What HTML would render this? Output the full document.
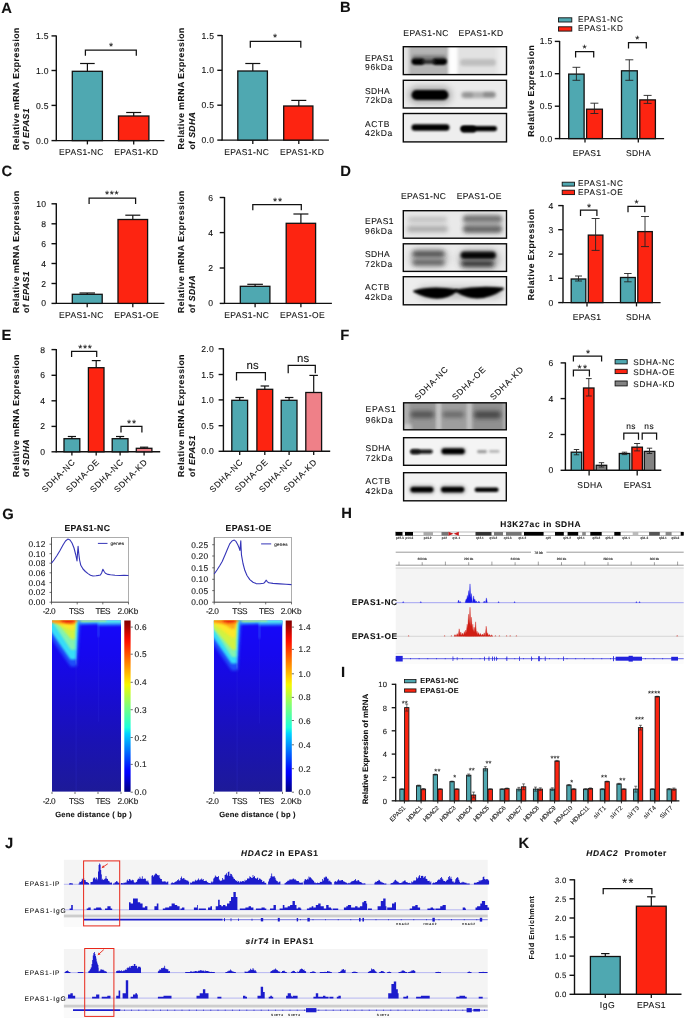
<!DOCTYPE html>
<html><head><meta charset="utf-8"><title>Figure</title>
<style>
html,body{margin:0;padding:0;background:#fff;}
svg{display:block;font-family:"Liberation Sans",Arial,sans-serif;fill:#111;text-rendering:geometricPrecision;}
svg text{stroke:#111;stroke-width:0.1px;paint-order:stroke;}
</style></head><body>
<svg width="685" height="1019" viewBox="0 0 685 1019">
<defs>
<filter id="b1" x="-20%" y="-100%" width="140%" height="300%"><feGaussianBlur stdDeviation="0.9"/></filter>
<filter id="b2" x="-20%" y="-100%" width="140%" height="300%"><feGaussianBlur stdDeviation="1.5"/></filter>
<filter id="b25" x="-20%" y="-100%" width="140%" height="300%"><feGaussianBlur stdDeviation="2.0"/></filter>
<filter id="b3" x="-30%" y="-100%" width="160%" height="300%"><feGaussianBlur stdDeviation="3"/></filter>
<filter id="hb" x="-30%" y="-30%" width="160%" height="160%"><feGaussianBlur stdDeviation="1.6"/></filter>
<filter id="hb1" x="-30%" y="-30%" width="160%" height="160%"><feGaussianBlur stdDeviation="1.2"/></filter>
<filter id="hb2" x="-30%" y="-30%" width="160%" height="160%"><feGaussianBlur stdDeviation="0.8"/></filter>
<linearGradient id="jet" x1="0" y1="1" x2="0" y2="0">
<stop offset="0" stop-color="#00007f"/><stop offset="0.11" stop-color="#0000ff"/><stop offset="0.125" stop-color="#0004ff"/>
<stop offset="0.34" stop-color="#00d4ff"/><stop offset="0.375" stop-color="#1cffdb"/><stop offset="0.5" stop-color="#7dff7a"/>
<stop offset="0.625" stop-color="#f4f802"/><stop offset="0.66" stop-color="#ffd700"/><stop offset="0.875" stop-color="#ff1300"/>
<stop offset="0.9" stop-color="#f10800"/><stop offset="1" stop-color="#7f0000"/></linearGradient>
<linearGradient id="hbase" x1="0" y1="0" x2="0" y2="1">
<stop offset="0" stop-color="#1608fa"/><stop offset="0.2" stop-color="#1608ee"/><stop offset="0.45" stop-color="#180cd2"/><stop offset="0.7" stop-color="#1a12b4"/><stop offset="1" stop-color="#1d1a98"/></linearGradient>
</defs>
<rect x="0" y="0" width="685" height="1019" fill="#ffffff"/>
<text x="1.2" y="12.9" font-size="14.8" font-weight="bold" stroke-width="0.1" >A</text>
<line x1="56.3" y1="35.4" x2="56.3" y2="141.1" stroke="#111" stroke-width="1.4" />
<line x1="55.8" y1="140.6" x2="164.4" y2="140.6" stroke="#111" stroke-width="1.4" />
<line x1="51.5" y1="35.9" x2="56.3" y2="35.9" stroke="#111" stroke-width="1.4" />
<text x="48.9" y="38.9" font-size="8.6" text-anchor="end" letter-spacing="0.3" >1.5</text>
<line x1="51.5" y1="70.5" x2="56.3" y2="70.5" stroke="#111" stroke-width="1.4" />
<text x="48.9" y="73.5" font-size="8.6" text-anchor="end" letter-spacing="0.3" >1.0</text>
<line x1="51.5" y1="105.4" x2="56.3" y2="105.4" stroke="#111" stroke-width="1.4" />
<text x="48.9" y="108.5" font-size="8.6" text-anchor="end" letter-spacing="0.3" >0.5</text>
<line x1="51.5" y1="140.6" x2="56.3" y2="140.6" stroke="#111" stroke-width="1.4" />
<text x="48.9" y="143.7" font-size="8.6" text-anchor="end" letter-spacing="0.3" >0.0</text>
<rect x="72.3" y="71.3" width="30.1" height="69.3" fill="#4fa8b1" stroke="#111" stroke-width="1.3" />
<rect x="118.5" y="116.0" width="30.4" height="24.6" fill="#fd2411" stroke="#111" stroke-width="1.3" />
<line x1="87.4" y1="63.5" x2="87.4" y2="71.3" stroke="#111" stroke-width="1.2" />
<line x1="80.1" y1="63.5" x2="94.7" y2="63.5" stroke="#111" stroke-width="1.2" />
<line x1="133.7" y1="112.5" x2="133.7" y2="116.0" stroke="#111" stroke-width="1.2" />
<line x1="126.2" y1="112.5" x2="141.2" y2="112.5" stroke="#111" stroke-width="1.2" />
<line x1="87.4" y1="140.6" x2="87.4" y2="144.4" stroke="#111" stroke-width="1.3" />
<line x1="133.7" y1="140.6" x2="133.7" y2="144.4" stroke="#111" stroke-width="1.3" />
<path d="M85.4,55.7 V50.0 H136.3 V55.7" stroke="#111" stroke-width="1.25" fill="none" />
<text x="111.0" y="49.8" font-size="10.5" text-anchor="middle" >*</text>
<text x="59.0" y="154.6" font-size="8.5" textLength="44.4" >EPAS1-NC</text>
<text x="114.2" y="154.6" font-size="8.5" textLength="44.0" >EPAS1-KD</text>
<text transform="translate(19.2,150.0) rotate(-90)" font-size="8.7" font-weight="bold" stroke-width="0.1" textLength="122.4" >Relative mRNA Expression</text>
<text transform="translate(29.1,150.0) rotate(-90)" font-size="8.7" font-weight="bold" stroke-width="0.1" textLength="41.5">of <tspan font-style="italic">EPAS1</tspan></text>
<line x1="222.1" y1="35.0" x2="222.1" y2="140.6" stroke="#111" stroke-width="1.4" />
<line x1="221.6" y1="140.1" x2="328.9" y2="140.1" stroke="#111" stroke-width="1.4" />
<line x1="217.3" y1="35.5" x2="222.1" y2="35.5" stroke="#111" stroke-width="1.4" />
<text x="214.3" y="38.5" font-size="8.6" text-anchor="end" letter-spacing="0.3" >1.5</text>
<line x1="217.3" y1="70.3" x2="222.1" y2="70.3" stroke="#111" stroke-width="1.4" />
<text x="214.3" y="73.3" font-size="8.6" text-anchor="end" letter-spacing="0.3" >1.0</text>
<line x1="217.3" y1="105.2" x2="222.1" y2="105.2" stroke="#111" stroke-width="1.4" />
<text x="214.3" y="108.2" font-size="8.6" text-anchor="end" letter-spacing="0.3" >0.5</text>
<line x1="217.3" y1="140.1" x2="222.1" y2="140.1" stroke="#111" stroke-width="1.4" />
<text x="214.3" y="143.2" font-size="8.6" text-anchor="end" letter-spacing="0.3" >0.0</text>
<rect x="237.8" y="71.0" width="29.6" height="69.1" fill="#4fa8b1" stroke="#111" stroke-width="1.3" />
<rect x="283.7" y="106.0" width="29.2" height="34.1" fill="#fd2411" stroke="#111" stroke-width="1.3" />
<line x1="252.8" y1="63.5" x2="252.8" y2="71.0" stroke="#111" stroke-width="1.2" />
<line x1="245.3" y1="63.5" x2="260.3" y2="63.5" stroke="#111" stroke-width="1.2" />
<line x1="298.8" y1="100.4" x2="298.8" y2="106.0" stroke="#111" stroke-width="1.2" />
<line x1="291.3" y1="100.4" x2="306.3" y2="100.4" stroke="#111" stroke-width="1.2" />
<line x1="252.8" y1="140.1" x2="252.8" y2="143.9" stroke="#111" stroke-width="1.3" />
<line x1="298.8" y1="140.1" x2="298.8" y2="143.9" stroke="#111" stroke-width="1.3" />
<path d="M250.3,47.7 V41.4 H300.8 V47.7" stroke="#111" stroke-width="1.25" fill="none" />
<text x="275.0" y="41.2" font-size="10.5" text-anchor="middle" >*</text>
<text x="224.2" y="154.6" font-size="8.5" textLength="44.7" >EPAS1-NC</text>
<text x="280.0" y="154.6" font-size="8.5" textLength="44.0" >EPAS1-KD</text>
<text transform="translate(184.4,149.6) rotate(-90)" font-size="8.7" font-weight="bold" stroke-width="0.1" textLength="122.0" >Relative mRNA Expression</text>
<text transform="translate(195.2,149.6) rotate(-90)" font-size="8.7" font-weight="bold" stroke-width="0.1" textLength="37.5">of <tspan font-style="italic">SDHA</tspan></text>
<text x="1.4" y="175.9" font-size="14.8" font-weight="bold" stroke-width="0.1" >C</text>
<line x1="56.3" y1="203.3" x2="56.3" y2="303.9" stroke="#111" stroke-width="1.4" />
<line x1="55.8" y1="303.4" x2="164.4" y2="303.4" stroke="#111" stroke-width="1.4" />
<line x1="51.5" y1="203.8" x2="56.3" y2="203.8" stroke="#111" stroke-width="1.4" />
<text x="46.3" y="206.9" font-size="8.6" text-anchor="end" letter-spacing="0.3" >10</text>
<line x1="51.5" y1="223.8" x2="56.3" y2="223.8" stroke="#111" stroke-width="1.4" />
<text x="46.3" y="226.9" font-size="8.6" text-anchor="end" letter-spacing="0.3" >8</text>
<line x1="51.5" y1="243.7" x2="56.3" y2="243.7" stroke="#111" stroke-width="1.4" />
<text x="46.3" y="246.8" font-size="8.6" text-anchor="end" letter-spacing="0.3" >6</text>
<line x1="51.5" y1="263.5" x2="56.3" y2="263.5" stroke="#111" stroke-width="1.4" />
<text x="46.3" y="266.6" font-size="8.6" text-anchor="end" letter-spacing="0.3" >4</text>
<line x1="51.5" y1="283.5" x2="56.3" y2="283.5" stroke="#111" stroke-width="1.4" />
<text x="46.3" y="286.6" font-size="8.6" text-anchor="end" letter-spacing="0.3" >2</text>
<line x1="51.5" y1="303.4" x2="56.3" y2="303.4" stroke="#111" stroke-width="1.4" />
<text x="46.3" y="306.4" font-size="8.6" text-anchor="end" letter-spacing="0.3" >0</text>
<rect x="72.3" y="294.3" width="29.9" height="9.1" fill="#4fa8b1" stroke="#111" stroke-width="1.3" />
<rect x="118.0" y="219.5" width="29.6" height="83.9" fill="#fd2411" stroke="#111" stroke-width="1.3" />
<line x1="87.2" y1="293.0" x2="87.2" y2="294.3" stroke="#111" stroke-width="1.2" />
<line x1="79.5" y1="293.0" x2="95.0" y2="293.0" stroke="#111" stroke-width="1.2" />
<line x1="132.8" y1="215.2" x2="132.8" y2="219.5" stroke="#111" stroke-width="1.2" />
<line x1="125.3" y1="215.2" x2="140.3" y2="215.2" stroke="#111" stroke-width="1.2" />
<line x1="87.2" y1="303.4" x2="87.2" y2="307.2" stroke="#111" stroke-width="1.3" />
<line x1="132.8" y1="303.4" x2="132.8" y2="307.2" stroke="#111" stroke-width="1.3" />
<path d="M89.1,203.9 V198.2 H135.6 V203.9" stroke="#111" stroke-width="1.25" fill="none" />
<text x="112.2" y="198.1" font-size="10.5" text-anchor="middle" letter-spacing="0.7" >***</text>
<text x="59.0" y="318.4" font-size="8.5" textLength="44.4" >EPAS1-NC</text>
<text x="114.2" y="318.4" font-size="8.5" textLength="44.5" >EPAS1-OE</text>
<text transform="translate(19.2,313.0) rotate(-90)" font-size="8.7" font-weight="bold" stroke-width="0.1" textLength="122.4" >Relative mRNA Expression</text>
<text transform="translate(29.1,313.0) rotate(-90)" font-size="8.7" font-weight="bold" stroke-width="0.1" textLength="41.5">of <tspan font-style="italic">EPAS1</tspan></text>
<line x1="224.5" y1="197.0" x2="224.5" y2="303.9" stroke="#111" stroke-width="1.4" />
<line x1="224.0" y1="303.4" x2="331.9" y2="303.4" stroke="#111" stroke-width="1.4" />
<line x1="219.7" y1="197.5" x2="224.5" y2="197.5" stroke="#111" stroke-width="1.4" />
<text x="213.3" y="200.6" font-size="8.6" text-anchor="end" letter-spacing="0.3" >6</text>
<line x1="219.7" y1="232.6" x2="224.5" y2="232.6" stroke="#111" stroke-width="1.4" />
<text x="213.3" y="235.7" font-size="8.6" text-anchor="end" letter-spacing="0.3" >4</text>
<line x1="219.7" y1="268.0" x2="224.5" y2="268.0" stroke="#111" stroke-width="1.4" />
<text x="213.3" y="271.1" font-size="8.6" text-anchor="end" letter-spacing="0.3" >2</text>
<line x1="219.7" y1="303.4" x2="224.5" y2="303.4" stroke="#111" stroke-width="1.4" />
<text x="213.3" y="306.4" font-size="8.6" text-anchor="end" letter-spacing="0.3" >0</text>
<rect x="240.3" y="286.3" width="29.6" height="17.1" fill="#4fa8b1" stroke="#111" stroke-width="1.3" />
<rect x="286.2" y="223.3" width="29.4" height="80.1" fill="#fd2411" stroke="#111" stroke-width="1.3" />
<line x1="255.1" y1="284.3" x2="255.1" y2="286.3" stroke="#111" stroke-width="1.2" />
<line x1="247.3" y1="284.3" x2="262.9" y2="284.3" stroke="#111" stroke-width="1.2" />
<line x1="300.9" y1="214.0" x2="300.9" y2="223.3" stroke="#111" stroke-width="1.2" />
<line x1="293.4" y1="214.0" x2="308.4" y2="214.0" stroke="#111" stroke-width="1.2" />
<line x1="255.1" y1="303.4" x2="255.1" y2="307.2" stroke="#111" stroke-width="1.3" />
<line x1="300.9" y1="303.4" x2="300.9" y2="307.2" stroke="#111" stroke-width="1.3" />
<path d="M252.8,210.2 V204.7 H301.3 V210.2" stroke="#111" stroke-width="1.25" fill="none" />
<text x="277.9" y="204.7" font-size="10.5" text-anchor="middle" letter-spacing="0.7" >**</text>
<text x="224.2" y="318.4" font-size="8.5" textLength="44.7" >EPAS1-NC</text>
<text x="280.0" y="318.4" font-size="8.5" textLength="44.6" >EPAS1-OE</text>
<text transform="translate(184.4,313.0) rotate(-90)" font-size="8.7" font-weight="bold" stroke-width="0.1" textLength="122.4" >Relative mRNA Expression</text>
<text transform="translate(195.2,313.0) rotate(-90)" font-size="8.7" font-weight="bold" stroke-width="0.1" textLength="37.5">of <tspan font-style="italic">SDHA</tspan></text>
<text x="1.4" y="340.2" font-size="14.8" font-weight="bold" stroke-width="0.1" >E</text>
<line x1="56.3" y1="349.1" x2="56.3" y2="452.3" stroke="#111" stroke-width="1.4" />
<line x1="55.8" y1="451.8" x2="160.2" y2="451.8" stroke="#111" stroke-width="1.4" />
<line x1="51.5" y1="349.6" x2="56.3" y2="349.6" stroke="#111" stroke-width="1.4" />
<text x="45.3" y="352.7" font-size="8.6" text-anchor="end" letter-spacing="0.3" >8</text>
<line x1="51.5" y1="375.3" x2="56.3" y2="375.3" stroke="#111" stroke-width="1.4" />
<text x="45.3" y="378.4" font-size="8.6" text-anchor="end" letter-spacing="0.3" >6</text>
<line x1="51.5" y1="400.8" x2="56.3" y2="400.8" stroke="#111" stroke-width="1.4" />
<text x="45.3" y="403.9" font-size="8.6" text-anchor="end" letter-spacing="0.3" >4</text>
<line x1="51.5" y1="426.4" x2="56.3" y2="426.4" stroke="#111" stroke-width="1.4" />
<text x="45.3" y="429.4" font-size="8.6" text-anchor="end" letter-spacing="0.3" >2</text>
<line x1="51.5" y1="451.8" x2="56.3" y2="451.8" stroke="#111" stroke-width="1.4" />
<text x="45.3" y="454.9" font-size="8.6" text-anchor="end" letter-spacing="0.3" >0</text>
<rect x="64.0" y="438.7" width="15.8" height="13.1" fill="#4fa8b1" stroke="#111" stroke-width="1.3" />
<rect x="88.4" y="367.7" width="15.6" height="84.1" fill="#fd2411" stroke="#111" stroke-width="1.3" />
<rect x="112.2" y="438.7" width="15.8" height="13.1" fill="#4fa8b1" stroke="#111" stroke-width="1.3" />
<rect x="136.3" y="448.3" width="15.6" height="3.5" fill="#ef8088" stroke="#111" stroke-width="1.3" />
<line x1="71.9" y1="436.5" x2="71.9" y2="438.7" stroke="#111" stroke-width="1.2" />
<line x1="67.8" y1="436.5" x2="76.0" y2="436.5" stroke="#111" stroke-width="1.2" />
<line x1="96.2" y1="360.6" x2="96.2" y2="367.7" stroke="#111" stroke-width="1.2" />
<line x1="91.8" y1="360.6" x2="100.6" y2="360.6" stroke="#111" stroke-width="1.2" />
<line x1="120.1" y1="436.5" x2="120.1" y2="438.7" stroke="#111" stroke-width="1.2" />
<line x1="116.0" y1="436.5" x2="124.2" y2="436.5" stroke="#111" stroke-width="1.2" />
<line x1="144.1" y1="447.2" x2="144.1" y2="448.3" stroke="#111" stroke-width="1.2" />
<line x1="140.0" y1="447.2" x2="148.2" y2="447.2" stroke="#111" stroke-width="1.2" />
<line x1="71.9" y1="451.8" x2="71.9" y2="455.6" stroke="#111" stroke-width="1.3" />
<line x1="96.2" y1="451.8" x2="96.2" y2="455.6" stroke="#111" stroke-width="1.3" />
<line x1="120.1" y1="451.8" x2="120.1" y2="455.6" stroke="#111" stroke-width="1.3" />
<line x1="144.1" y1="451.8" x2="144.1" y2="455.6" stroke="#111" stroke-width="1.3" />
<path d="M71.6,357.1 V351.3 H96.7 V357.1" stroke="#111" stroke-width="1.25" fill="none" />
<text x="85.4" y="352.4" font-size="10.5" text-anchor="middle" letter-spacing="0.7" >***</text>
<path d="M121.0,432.4 V426.4 H141.9 V432.4" stroke="#111" stroke-width="1.25" fill="none" />
<text x="131.9" y="427.2" font-size="10.5" text-anchor="middle" letter-spacing="0.7" >**</text>
<text transform="translate(75.3,463.0) rotate(-45)" font-size="8.5" text-anchor="end" textLength="42.5" >SDHA-NC</text>
<text transform="translate(99.6,463.0) rotate(-45)" font-size="8.5" text-anchor="end" textLength="42.5" >SDHA-OE</text>
<text transform="translate(123.5,463.0) rotate(-45)" font-size="8.5" text-anchor="end" textLength="42.5" >SDHA-NC</text>
<text transform="translate(147.5,463.0) rotate(-45)" font-size="8.5" text-anchor="end" textLength="42.5" >SDHA-KD</text>
<text transform="translate(19.2,476.9) rotate(-90)" font-size="8.7" font-weight="bold" stroke-width="0.1" textLength="122.4" >Relative mRNA Expression</text>
<text transform="translate(29.1,476.9) rotate(-90)" font-size="8.7" font-weight="bold" stroke-width="0.1" textLength="37.5">of <tspan font-style="italic">SDHA</tspan></text>
<line x1="223.4" y1="348.3" x2="223.4" y2="451.8" stroke="#111" stroke-width="1.4" />
<line x1="222.9" y1="451.3" x2="330.2" y2="451.3" stroke="#111" stroke-width="1.4" />
<line x1="218.6" y1="348.8" x2="223.4" y2="348.8" stroke="#111" stroke-width="1.4" />
<text x="214.0" y="351.9" font-size="8.6" text-anchor="end" letter-spacing="0.3" >2.0</text>
<line x1="218.6" y1="374.5" x2="223.4" y2="374.5" stroke="#111" stroke-width="1.4" />
<text x="214.0" y="377.6" font-size="8.6" text-anchor="end" letter-spacing="0.3" >1.5</text>
<line x1="218.6" y1="399.9" x2="223.4" y2="399.9" stroke="#111" stroke-width="1.4" />
<text x="214.0" y="402.9" font-size="8.6" text-anchor="end" letter-spacing="0.3" >1.0</text>
<line x1="218.6" y1="425.7" x2="223.4" y2="425.7" stroke="#111" stroke-width="1.4" />
<text x="214.0" y="428.8" font-size="8.6" text-anchor="end" letter-spacing="0.3" >0.5</text>
<line x1="218.6" y1="451.3" x2="223.4" y2="451.3" stroke="#111" stroke-width="1.4" />
<text x="214.0" y="454.4" font-size="8.6" text-anchor="end" letter-spacing="0.3" >0.0</text>
<rect x="231.8" y="400.3" width="15.8" height="51.0" fill="#4fa8b1" stroke="#111" stroke-width="1.3" />
<rect x="256.9" y="389.3" width="15.8" height="62.0" fill="#fd2411" stroke="#111" stroke-width="1.3" />
<rect x="281.2" y="400.3" width="15.8" height="51.0" fill="#4fa8b1" stroke="#111" stroke-width="1.3" />
<rect x="305.8" y="392.5" width="15.8" height="58.8" fill="#ef8088" stroke="#111" stroke-width="1.3" />
<line x1="239.7" y1="397.5" x2="239.7" y2="400.3" stroke="#111" stroke-width="1.2" />
<line x1="235.4" y1="397.5" x2="243.9" y2="397.5" stroke="#111" stroke-width="1.2" />
<line x1="264.8" y1="386.0" x2="264.8" y2="389.3" stroke="#111" stroke-width="1.2" />
<line x1="260.6" y1="386.0" x2="269.1" y2="386.0" stroke="#111" stroke-width="1.2" />
<line x1="289.1" y1="397.5" x2="289.1" y2="400.3" stroke="#111" stroke-width="1.2" />
<line x1="284.9" y1="397.5" x2="293.4" y2="397.5" stroke="#111" stroke-width="1.2" />
<line x1="313.7" y1="375.4" x2="313.7" y2="392.5" stroke="#111" stroke-width="1.2" />
<line x1="309.4" y1="375.4" x2="317.9" y2="375.4" stroke="#111" stroke-width="1.2" />
<line x1="239.7" y1="451.3" x2="239.7" y2="455.1" stroke="#111" stroke-width="1.3" />
<line x1="264.8" y1="451.3" x2="264.8" y2="455.1" stroke="#111" stroke-width="1.3" />
<line x1="289.1" y1="451.3" x2="289.1" y2="455.1" stroke="#111" stroke-width="1.3" />
<line x1="313.7" y1="451.3" x2="313.7" y2="455.1" stroke="#111" stroke-width="1.3" />
<path d="M236.5,380.5 V372.6 H265.4 V380.5" stroke="#111" stroke-width="1.25" fill="none" />
<text x="252.7" y="369.2" font-size="11.4" text-anchor="middle" letter-spacing="0.3" >ns</text>
<path d="M288.2,373.2 V365.4 H315.3 V373.2" stroke="#111" stroke-width="1.25" fill="none" />
<text x="303.2" y="362.2" font-size="11.4" text-anchor="middle" letter-spacing="0.3" >ns</text>
<text transform="translate(243.1,463.0) rotate(-45)" font-size="8.5" text-anchor="end" textLength="42.5" >SDHA-NC</text>
<text transform="translate(268.2,463.0) rotate(-45)" font-size="8.5" text-anchor="end" textLength="42.5" >SDHA-OE</text>
<text transform="translate(292.5,463.0) rotate(-45)" font-size="8.5" text-anchor="end" textLength="42.5" >SDHA-NC</text>
<text transform="translate(317.1,463.0) rotate(-45)" font-size="8.5" text-anchor="end" textLength="42.5" >SDHA-KD</text>
<text transform="translate(184.4,476.9) rotate(-90)" font-size="8.7" font-weight="bold" stroke-width="0.1" textLength="122.4" >Relative mRNA Expression</text>
<text transform="translate(195.2,476.9) rotate(-90)" font-size="8.7" font-weight="bold" stroke-width="0.1" textLength="41.5">of <tspan font-style="italic">EPAS1</tspan></text>
<line x1="559.6" y1="40.9" x2="559.6" y2="139.1" stroke="#111" stroke-width="1.4" />
<line x1="559.1" y1="138.6" x2="664.1" y2="138.6" stroke="#111" stroke-width="1.4" />
<line x1="554.8" y1="41.4" x2="559.6" y2="41.4" stroke="#111" stroke-width="1.4" />
<text x="552.6" y="44.4" font-size="8.6" text-anchor="end" letter-spacing="0.3" >1.5</text>
<line x1="554.8" y1="73.7" x2="559.6" y2="73.7" stroke="#111" stroke-width="1.4" />
<text x="552.6" y="76.8" font-size="8.6" text-anchor="end" letter-spacing="0.3" >1.0</text>
<line x1="554.8" y1="106.2" x2="559.6" y2="106.2" stroke="#111" stroke-width="1.4" />
<text x="552.6" y="109.2" font-size="8.6" text-anchor="end" letter-spacing="0.3" >0.5</text>
<line x1="554.8" y1="138.6" x2="559.6" y2="138.6" stroke="#111" stroke-width="1.4" />
<text x="552.6" y="141.7" font-size="8.6" text-anchor="end" letter-spacing="0.3" >0.0</text>
<rect x="568.7" y="74.1" width="15.4" height="64.5" fill="#4fa8b1" stroke="#111" stroke-width="1.3" />
<rect x="586.6" y="109.2" width="15.8" height="29.4" fill="#fd2411" stroke="#111" stroke-width="1.3" />
<rect x="621.5" y="70.8" width="15.8" height="67.8" fill="#4fa8b1" stroke="#111" stroke-width="1.3" />
<rect x="639.8" y="99.9" width="15.6" height="38.7" fill="#fd2411" stroke="#111" stroke-width="1.3" />
<line x1="576.4" y1="67.3" x2="576.4" y2="80.3" stroke="#222" stroke-width="0.9" />
<line x1="572.5" y1="67.3" x2="580.3" y2="67.3" stroke="#222" stroke-width="0.9" />
<line x1="572.5" y1="80.3" x2="580.3" y2="80.3" stroke="#222" stroke-width="0.9" />
<line x1="594.4" y1="103.2" x2="594.4" y2="113.5" stroke="#222" stroke-width="0.9" />
<line x1="590.4" y1="103.2" x2="598.4" y2="103.2" stroke="#222" stroke-width="0.9" />
<line x1="590.4" y1="113.5" x2="598.4" y2="113.5" stroke="#222" stroke-width="0.9" />
<line x1="629.3" y1="59.8" x2="629.3" y2="80.3" stroke="#222" stroke-width="0.9" />
<line x1="625.3" y1="59.8" x2="633.3" y2="59.8" stroke="#222" stroke-width="0.9" />
<line x1="625.3" y1="80.3" x2="633.3" y2="80.3" stroke="#222" stroke-width="0.9" />
<line x1="647.6" y1="95.4" x2="647.6" y2="103.4" stroke="#222" stroke-width="0.9" />
<line x1="643.6" y1="95.4" x2="651.6" y2="95.4" stroke="#222" stroke-width="0.9" />
<line x1="643.6" y1="103.4" x2="651.6" y2="103.4" stroke="#222" stroke-width="0.9" />
<line x1="585.0" y1="138.6" x2="585.0" y2="142.4" stroke="#111" stroke-width="1.3" />
<line x1="638.3" y1="138.6" x2="638.3" y2="142.4" stroke="#111" stroke-width="1.3" />
<path d="M575.6,57.4 V51.5 H593.7 V57.4" stroke="#111" stroke-width="1.25" fill="none" />
<text x="584.5" y="52.2" font-size="10.5" text-anchor="middle" >*</text>
<path d="M628.5,48.5 V42.7 H646.3 V48.5" stroke="#111" stroke-width="1.25" fill="none" />
<text x="637.3" y="43.2" font-size="10.5" text-anchor="middle" >*</text>
<rect x="558.5" y="17.8" width="13.3" height="4.2" fill="#4fa8b1" stroke="#111" stroke-width="0.9" />
<text x="578.0" y="22.2" font-size="8.2" textLength="44.8" >EPAS1-NC</text>
<rect x="558.5" y="26.8" width="13.3" height="4.3" fill="#fd2411" stroke="#111" stroke-width="0.9" />
<text x="578.0" y="31.2" font-size="8.2" textLength="44.8" >EPAS1-KD</text>
<text x="572.8" y="155.8" font-size="8.5" textLength="28.1" >EPAS1</text>
<text x="626.0" y="155.8" font-size="8.5" textLength="24.6" >SDHA</text>
<text transform="translate(534.0,136.8) rotate(-90)" font-size="8.7" font-weight="bold" stroke-width="0.1" textLength="91.6" >Relative Expression</text>
<line x1="563.0" y1="205.1" x2="563.0" y2="303.1" stroke="#111" stroke-width="1.4" />
<line x1="562.5" y1="302.6" x2="660.6" y2="302.6" stroke="#111" stroke-width="1.4" />
<line x1="558.2" y1="205.6" x2="563.0" y2="205.6" stroke="#111" stroke-width="1.4" />
<text x="553.7" y="208.7" font-size="8.6" text-anchor="end" letter-spacing="0.3" >4</text>
<line x1="558.2" y1="229.7" x2="563.0" y2="229.7" stroke="#111" stroke-width="1.4" />
<text x="553.7" y="232.8" font-size="8.6" text-anchor="end" letter-spacing="0.3" >3</text>
<line x1="558.2" y1="254.1" x2="563.0" y2="254.1" stroke="#111" stroke-width="1.4" />
<text x="553.7" y="257.1" font-size="8.6" text-anchor="end" letter-spacing="0.3" >2</text>
<line x1="558.2" y1="278.3" x2="563.0" y2="278.3" stroke="#111" stroke-width="1.4" />
<text x="553.7" y="281.4" font-size="8.6" text-anchor="end" letter-spacing="0.3" >1</text>
<line x1="558.2" y1="302.6" x2="563.0" y2="302.6" stroke="#111" stroke-width="1.4" />
<text x="553.7" y="305.7" font-size="8.6" text-anchor="end" letter-spacing="0.3" >0</text>
<rect x="571.2" y="279.0" width="14.6" height="23.6" fill="#4fa8b1" stroke="#111" stroke-width="1.3" />
<rect x="588.3" y="235.1" width="14.6" height="67.5" fill="#fd2411" stroke="#111" stroke-width="1.3" />
<rect x="620.5" y="277.5" width="14.8" height="25.1" fill="#4fa8b1" stroke="#111" stroke-width="1.3" />
<rect x="637.8" y="231.6" width="14.5" height="71.0" fill="#fd2411" stroke="#111" stroke-width="1.3" />
<line x1="578.5" y1="276.0" x2="578.5" y2="281.0" stroke="#222" stroke-width="0.9" />
<line x1="575.0" y1="276.0" x2="582.0" y2="276.0" stroke="#222" stroke-width="0.9" />
<line x1="575.0" y1="281.0" x2="582.0" y2="281.0" stroke="#222" stroke-width="0.9" />
<line x1="595.6" y1="218.5" x2="595.6" y2="250.4" stroke="#222" stroke-width="0.9" />
<line x1="591.6" y1="218.5" x2="599.6" y2="218.5" stroke="#222" stroke-width="0.9" />
<line x1="591.6" y1="250.4" x2="599.6" y2="250.4" stroke="#222" stroke-width="0.9" />
<line x1="627.9" y1="273.5" x2="627.9" y2="281.8" stroke="#222" stroke-width="0.9" />
<line x1="624.1" y1="273.5" x2="631.6" y2="273.5" stroke="#222" stroke-width="0.9" />
<line x1="624.1" y1="281.8" x2="631.6" y2="281.8" stroke="#222" stroke-width="0.9" />
<line x1="645.0" y1="216.5" x2="645.0" y2="246.6" stroke="#222" stroke-width="0.9" />
<line x1="641.0" y1="216.5" x2="649.0" y2="216.5" stroke="#222" stroke-width="0.9" />
<line x1="641.0" y1="246.6" x2="649.0" y2="246.6" stroke="#222" stroke-width="0.9" />
<line x1="587.0" y1="302.6" x2="587.0" y2="306.4" stroke="#111" stroke-width="1.3" />
<line x1="636.5" y1="302.6" x2="636.5" y2="306.4" stroke="#111" stroke-width="1.3" />
<path d="M580.5,215.9 V210.0 H596.9 V215.9" stroke="#111" stroke-width="1.25" fill="none" />
<text x="589.0" y="210.8" font-size="10.5" text-anchor="middle" >*</text>
<path d="M628.0,212.2 V206.4 H644.8 V212.2" stroke="#111" stroke-width="1.25" fill="none" />
<text x="636.5" y="206.7" font-size="10.5" text-anchor="middle" >*</text>
<rect x="562.2" y="182.2" width="12.3" height="3.9" fill="#4fa8b1" stroke="#111" stroke-width="0.9" />
<text x="578.0" y="186.0" font-size="8.2" textLength="44.8" >EPAS1-NC</text>
<rect x="562.2" y="190.2" width="12.3" height="4.4" fill="#fd2411" stroke="#111" stroke-width="0.9" />
<text x="578.0" y="194.7" font-size="8.2" textLength="44.8" >EPAS1-OE</text>
<text x="572.8" y="319.6" font-size="8.5" textLength="28.1" >EPAS1</text>
<text x="626.0" y="319.6" font-size="8.5" textLength="24.6" >SDHA</text>
<text transform="translate(534.0,300.2) rotate(-90)" font-size="8.7" font-weight="bold" stroke-width="0.1" textLength="91.2" >Relative Expression</text>
<line x1="565.4" y1="362.4" x2="565.4" y2="470.8" stroke="#111" stroke-width="1.4" />
<line x1="564.9" y1="470.3" x2="661.3" y2="470.3" stroke="#111" stroke-width="1.4" />
<line x1="560.6" y1="362.9" x2="565.4" y2="362.9" stroke="#111" stroke-width="1.4" />
<text x="553.7" y="365.9" font-size="8.6" text-anchor="end" letter-spacing="0.3" >6</text>
<line x1="560.6" y1="398.6" x2="565.4" y2="398.6" stroke="#111" stroke-width="1.4" />
<text x="553.7" y="401.7" font-size="8.6" text-anchor="end" letter-spacing="0.3" >4</text>
<line x1="560.6" y1="434.5" x2="565.4" y2="434.5" stroke="#111" stroke-width="1.4" />
<text x="553.7" y="437.6" font-size="8.6" text-anchor="end" letter-spacing="0.3" >2</text>
<line x1="560.6" y1="470.3" x2="565.4" y2="470.3" stroke="#111" stroke-width="1.4" />
<text x="553.7" y="473.4" font-size="8.6" text-anchor="end" letter-spacing="0.3" >0</text>
<rect x="571.2" y="452.2" width="10.5" height="18.1" fill="#4fa8b1" stroke="#111" stroke-width="1.3" />
<rect x="583.5" y="388.0" width="10.5" height="82.3" fill="#fd2411" stroke="#111" stroke-width="1.3" />
<rect x="596.2" y="465.3" width="10.5" height="5.0" fill="#828282" stroke="#111" stroke-width="1.3" />
<rect x="619.3" y="453.5" width="10.5" height="16.8" fill="#4fa8b1" stroke="#111" stroke-width="1.3" />
<rect x="631.9" y="447.2" width="10.5" height="23.1" fill="#fd2411" stroke="#111" stroke-width="1.3" />
<rect x="644.3" y="451.4" width="10.5" height="18.9" fill="#828282" stroke="#111" stroke-width="1.3" />
<line x1="576.5" y1="449.5" x2="576.5" y2="454.8" stroke="#222" stroke-width="0.9" />
<line x1="573.8" y1="449.5" x2="579.2" y2="449.5" stroke="#222" stroke-width="0.9" />
<line x1="573.8" y1="454.8" x2="579.2" y2="454.8" stroke="#222" stroke-width="0.9" />
<line x1="588.8" y1="378.6" x2="588.8" y2="396.0" stroke="#222" stroke-width="0.9" />
<line x1="585.9" y1="378.6" x2="591.7" y2="378.6" stroke="#222" stroke-width="0.9" />
<line x1="585.9" y1="396.0" x2="591.7" y2="396.0" stroke="#222" stroke-width="0.9" />
<line x1="601.5" y1="462.7" x2="601.5" y2="467.0" stroke="#222" stroke-width="0.9" />
<line x1="598.8" y1="462.7" x2="604.2" y2="462.7" stroke="#222" stroke-width="0.9" />
<line x1="598.8" y1="467.0" x2="604.2" y2="467.0" stroke="#222" stroke-width="0.9" />
<line x1="624.5" y1="452.2" x2="624.5" y2="454.6" stroke="#222" stroke-width="0.9" />
<line x1="621.8" y1="452.2" x2="627.2" y2="452.2" stroke="#222" stroke-width="0.9" />
<line x1="621.8" y1="454.6" x2="627.2" y2="454.6" stroke="#222" stroke-width="0.9" />
<line x1="637.1" y1="443.5" x2="637.1" y2="450.9" stroke="#222" stroke-width="0.9" />
<line x1="634.1" y1="443.5" x2="640.1" y2="443.5" stroke="#222" stroke-width="0.9" />
<line x1="634.1" y1="450.9" x2="640.1" y2="450.9" stroke="#222" stroke-width="0.9" />
<line x1="649.5" y1="448.2" x2="649.5" y2="453.5" stroke="#222" stroke-width="0.9" />
<line x1="646.8" y1="448.2" x2="652.2" y2="448.2" stroke="#222" stroke-width="0.9" />
<line x1="646.8" y1="453.5" x2="652.2" y2="453.5" stroke="#222" stroke-width="0.9" />
<line x1="589.1" y1="470.3" x2="589.1" y2="475.5" stroke="#111" stroke-width="1.3" />
<line x1="637.2" y1="470.3" x2="637.2" y2="475.5" stroke="#111" stroke-width="1.3" />
<path d="M573.4,361.4 V356.1 H601.6 V361.4" stroke="#111" stroke-width="1.25" fill="none" />
<text x="588.0" y="357.1" font-size="10.5" text-anchor="middle" >*</text>
<path d="M573.4,376.5 V370.1 H589.4 V376.5" stroke="#111" stroke-width="1.25" fill="none" />
<text x="582.9" y="371.6" font-size="10.5" text-anchor="middle" letter-spacing="1.4" >**</text>
<path d="M623.8,439.8 V433.0 H638.5 V439.8" stroke="#111" stroke-width="1.25" fill="none" />
<text x="631.1" y="428.5" font-size="8.4" text-anchor="middle" letter-spacing="0.4" >ns</text>
<path d="M642.2,439.8 V433.0 H656.6 V439.8" stroke="#111" stroke-width="1.25" fill="none" />
<text x="649.2" y="428.5" font-size="8.4" text-anchor="middle" letter-spacing="0.4" >ns</text>
<rect x="615.1" y="359.6" width="12.1" height="4.3" fill="#4fa8b1" stroke="#111" stroke-width="0.9" />
<text x="633.2" y="364.9" font-size="8.2" textLength="41.3" >SDHA-NC</text>
<rect x="615.1" y="369.3" width="12.1" height="4.3" fill="#fd2411" stroke="#111" stroke-width="0.9" />
<text x="633.2" y="375.0" font-size="8.2" textLength="41.3" >SDHA-OE</text>
<rect x="615.1" y="381.0" width="12.1" height="4.9" fill="#828282" stroke="#111" stroke-width="0.9" />
<text x="633.2" y="386.5" font-size="8.2" textLength="41.3" >SDHA-KD</text>
<text x="577.3" y="487.6" font-size="8.5" textLength="24.9" >SDHA</text>
<text x="623.8" y="487.6" font-size="8.5" textLength="27.8" >EPAS1</text>
<text x="340.0" y="12.1" font-size="14.8" font-weight="bold" stroke-width="0.1" >B</text>
<text x="403.3" y="36.0" font-size="8.5" textLength="45.2" >EPAS1-NC</text>
<text x="458.5" y="36.0" font-size="8.5" textLength="44.7" >EPAS1-KD</text>
<text x="365.1" y="60.9" font-size="8.5" textLength="28.4" >EPAS1</text>
<text x="365.1" y="70.4" font-size="8.5" textLength="27.1" >96kDa</text>
<text x="365.1" y="93.5" font-size="8.5" textLength="24.6" >SDHA</text>
<text x="365.1" y="103.1" font-size="8.5" textLength="27.1" >72kDa</text>
<text x="365.1" y="126.9" font-size="8.5" textLength="24.4" >ACTB</text>
<text x="365.1" y="136.3" font-size="8.5" textLength="27.1" >42kDa</text>
<clipPath id="bc1"><rect x="403.3" y="46.7" width="103.2" height="27.9"/></clipPath>
<g clip-path="url(#bc1)">
<rect x="403.3" y="46.7" width="103.2" height="27.9" fill="#e2e2e2" />
<rect x="409.0" y="38.0" width="40.0" height="44.0" rx="3.0" fill="#9a9a9a" opacity="0.62" filter="url(#b2)"/>
<rect x="448.6" y="38.0" width="9.0" height="44.0" rx="3.0" fill="#ffffff" opacity="0.95" filter="url(#b2)"/>
<rect x="498.0" y="38.0" width="12.0" height="44.0" rx="3.0" fill="#ffffff" opacity="0.5" filter="url(#b3)"/>
<rect x="411.5" y="58.3" width="13.0" height="6.6" rx="3.3" fill="#000" opacity="1" filter="url(#b1)"/>
<rect x="432.5" y="58.3" width="14.5" height="6.6" rx="3.3" fill="#000" opacity="1" filter="url(#b1)"/>
<rect x="421.0" y="59.5" width="15.0" height="4.6" rx="2.3" fill="#1a1a1a" opacity="0.85" filter="url(#b1)"/>
<rect x="412.0" y="55.1" width="34.0" height="5.0" rx="2.5" fill="#222" opacity="0.35" filter="url(#b2)"/>
<rect x="460.0" y="59.1" width="36.0" height="7.0" rx="3.5" fill="#909090" opacity="0.42" filter="url(#b2)"/>
</g>
<rect x="403.3" y="46.7" width="103.2" height="27.9" fill="none" stroke="#0a0a0a" stroke-width="1.4" />
<clipPath id="bc2"><rect x="403.3" y="80.3" width="103.2" height="27.7"/></clipPath>
<g clip-path="url(#bc2)">
<rect x="403.3" y="80.3" width="103.2" height="27.7" fill="#ebebeb" />
<rect x="408.0" y="86.0" width="44.0" height="18.0" rx="9.0" fill="#777" opacity="0.5" filter="url(#b3)"/>
<rect x="411.5" y="89.9" width="37.0" height="10.2" rx="5.1" fill="#000" opacity="1" filter="url(#b1)"/>
<rect x="461.0" y="91.8" width="35.0" height="6.5" rx="3.2" fill="#777" opacity="0.5" filter="url(#b2)"/>
<rect x="463.0" y="92.5" width="10.0" height="5.0" rx="2.5" fill="#555" opacity="0.3" filter="url(#b2)"/>
<rect x="483.0" y="92.1" width="12.0" height="5.0" rx="2.5" fill="#444" opacity="0.35" filter="url(#b2)"/>
</g>
<rect x="403.3" y="80.3" width="103.2" height="27.7" fill="none" stroke="#0a0a0a" stroke-width="1.4" />
<clipPath id="bc3"><rect x="403.3" y="113.5" width="103.2" height="28.4"/></clipPath>
<g clip-path="url(#bc3)">
<rect x="403.3" y="113.5" width="103.2" height="28.4" fill="#eeeeee" />
<rect x="411.5" y="124.2" width="38.0" height="6.6" rx="3.3" fill="#000" opacity="1" filter="url(#b1)"/>
<rect x="460.5" y="126.0" width="36.5" height="5.2" rx="2.6" fill="#000" opacity="1" filter="url(#b1)"/>
<rect x="461.0" y="125.8" width="15.0" height="6.8" rx="3.4" fill="#000" opacity="0.95" filter="url(#b1)"/>
</g>
<rect x="403.3" y="113.5" width="103.2" height="28.4" fill="none" stroke="#0a0a0a" stroke-width="1.4" />
<text x="340.2" y="175.8" font-size="14.8" font-weight="bold" stroke-width="0.1" >D</text>
<text x="401.0" y="199.0" font-size="8.5" textLength="45.0" >EPAS1-NC</text>
<text x="456.7" y="199.0" font-size="8.5" textLength="44.8" >EPAS1-OE</text>
<text x="365.1" y="224.2" font-size="8.5" textLength="28.4" >EPAS1</text>
<text x="365.1" y="233.6" font-size="8.5" textLength="27.1" >96kDa</text>
<text x="365.1" y="256.9" font-size="8.5" textLength="24.6" >SDHA</text>
<text x="365.1" y="266.5" font-size="8.5" textLength="27.1" >72kDa</text>
<text x="365.1" y="290.0" font-size="8.5" textLength="24.4" >ACTB</text>
<text x="365.1" y="299.6" font-size="8.5" textLength="27.1" >42kDa</text>
<clipPath id="bc4"><rect x="403.3" y="210.7" width="103.2" height="27.5"/></clipPath>
<g clip-path="url(#bc4)">
<rect x="403.3" y="210.7" width="103.2" height="27.5" fill="#e9e9e9" />
<rect x="408.0" y="216.9" width="39.0" height="5.4" rx="2.7" fill="#888" opacity="0.42" filter="url(#b25)"/>
<rect x="407.0" y="225.8" width="41.0" height="6.4" rx="3.2" fill="#777" opacity="0.52" filter="url(#b25)"/>
<rect x="463.0" y="215.5" width="39.0" height="6.8" rx="3.4" fill="#3c3c3c" opacity="0.74" filter="url(#b25)"/>
<rect x="463.0" y="225.2" width="39.0" height="7.6" rx="3.8" fill="#303030" opacity="0.76" filter="url(#b25)"/>
<rect x="465.0" y="217.1" width="36.0" height="13.0" rx="6.5" fill="#888" opacity="0.4" filter="url(#b3)"/>
</g>
<rect x="403.3" y="210.7" width="103.2" height="27.5" fill="none" stroke="#0a0a0a" stroke-width="1.4" />
<clipPath id="bc5"><rect x="403.3" y="243.8" width="103.2" height="27.6"/></clipPath>
<g clip-path="url(#bc5)">
<rect x="403.3" y="243.8" width="103.2" height="27.6" fill="#ebebeb" />
<rect x="409.0" y="248.0" width="40.0" height="20.0" rx="10.0" fill="#999" opacity="0.5" filter="url(#b3)"/>
<rect x="412.5" y="250.9" width="32.0" height="6.0" rx="3.0" fill="#303030" opacity="0.8" filter="url(#b25)"/>
<rect x="412.5" y="259.4" width="32.0" height="5.8" rx="2.9" fill="#404040" opacity="0.75" filter="url(#b25)"/>
<rect x="458.0" y="249.0" width="42.0" height="21.0" rx="10.5" fill="#888" opacity="0.55" filter="url(#b3)"/>
<rect x="460.5" y="251.4" width="35.5" height="7.6" rx="3.8" fill="#000" opacity="0.97" filter="url(#b2)"/>
<rect x="461.0" y="260.5" width="33.0" height="6.2" rx="3.1" fill="#1a1a1a" opacity="0.82" filter="url(#b25)"/>
</g>
<rect x="403.3" y="243.8" width="103.2" height="27.6" fill="none" stroke="#0a0a0a" stroke-width="1.4" />
<clipPath id="bc6"><rect x="403.3" y="276.7" width="103.2" height="28.1"/></clipPath>
<g clip-path="url(#bc6)">
<rect x="403.3" y="276.7" width="103.2" height="28.1" fill="#ededed" />
<rect x="418.0" y="286.5" width="84.0" height="12.0" rx="6.0" fill="#777" opacity="0.4" filter="url(#b3)"/>
<path d="M414.4,291.3 Q432,286.4 456.6,290.4 Q440,304.4 414.4,291.3 Z" fill="#000" stroke="#000" stroke-width="2.4" stroke-linejoin="round" filter="url(#b1)"/>
<path d="M455.8,290.6 Q480,286.2 502.6,288.8 Q478,304.8 455.8,290.6 Z" fill="#000" stroke="#000" stroke-width="2.4" stroke-linejoin="round" filter="url(#b1)"/>
</g>
<rect x="403.3" y="276.7" width="103.2" height="28.1" fill="none" stroke="#0a0a0a" stroke-width="1.4" />
<text x="340.2" y="340.2" font-size="14.8" font-weight="bold" stroke-width="0.1" >F</text>
<text transform="translate(418.0,400.6) rotate(-45)" font-size="8.5" textLength="43.0" >SDHA-NC</text>
<text transform="translate(455.6,400.6) rotate(-45)" font-size="8.5" textLength="43.0" >SDHA-OE</text>
<text transform="translate(493.4,400.6) rotate(-45)" font-size="8.5" textLength="43.0" >SDHA-KD</text>
<text x="365.5" y="412.1" font-size="8.5" textLength="30.2" >EPAS1</text>
<text x="365.5" y="422.6" font-size="8.5" textLength="27.3" >96kDa</text>
<text x="365.5" y="451.0" font-size="8.5" textLength="25.0" >SDHA</text>
<text x="365.5" y="460.7" font-size="8.5" textLength="27.3" >72kDa</text>
<text x="365.5" y="484.3" font-size="8.5" textLength="24.6" >ACTB</text>
<text x="365.5" y="493.6" font-size="8.5" textLength="27.3" >42kDa</text>
<clipPath id="bc7"><rect x="403.6" y="402.8" width="102.7" height="27.0"/></clipPath>
<g clip-path="url(#bc7)">
<rect x="403.6" y="402.8" width="102.7" height="27.0" fill="#b0b0b0" />
<rect x="409.5" y="394.0" width="26.0" height="44.0" rx="2.0" fill="#858585" opacity="0.62" filter="url(#b2)"/>
<rect x="442.0" y="394.0" width="24.0" height="44.0" rx="2.0" fill="#8c8c8c" opacity="0.5" filter="url(#b2)"/>
<rect x="473.0" y="394.0" width="30.0" height="44.0" rx="2.0" fill="#808080" opacity="0.66" filter="url(#b2)"/>
<rect x="436.6" y="394.0" width="4.0" height="44.0" rx="2.0" fill="#d6d6d6" opacity="0.6" filter="url(#b2)"/>
<rect x="467.4" y="394.0" width="3.8" height="44.0" rx="2.0" fill="#d0d0d0" opacity="0.55" filter="url(#b2)"/>
<rect x="403.0" y="424.0" width="9.0" height="8.0" rx="2.0" fill="#e0e0e0" opacity="0.6" filter="url(#b2)"/>
<rect x="410.5" y="411.1" width="23.5" height="7.0" rx="3.5" fill="#3c3c3c" opacity="0.72" filter="url(#b25)"/>
<rect x="442.5" y="411.4" width="21.5" height="6.0" rx="3.0" fill="#4a4a4a" opacity="0.62" filter="url(#b25)"/>
<rect x="474.0" y="411.1" width="27.0" height="7.4" rx="3.7" fill="#333" opacity="0.75" filter="url(#b25)"/>
</g>
<rect x="403.6" y="402.8" width="102.7" height="27.0" fill="none" stroke="#0a0a0a" stroke-width="1.4" />
<clipPath id="bc8"><rect x="403.6" y="437.7" width="102.7" height="27.6"/></clipPath>
<g clip-path="url(#bc8)">
<rect x="403.6" y="437.7" width="102.7" height="27.6" fill="#f4f4f4" />
<rect x="410.4" y="449.5" width="22.4" height="4.2" rx="2.1" fill="#0a0a0a" opacity="0.95" filter="url(#b1)"/>
<rect x="410.4" y="449.3" width="9.6" height="5.0" rx="2.5" fill="#0a0a0a" opacity="0.7" filter="url(#b1)"/>
<rect x="440.0" y="446.7" width="27.0" height="9.0" rx="4.5" fill="#888" opacity="0.35" filter="url(#b2)"/>
<rect x="441.5" y="448.2" width="23.3" height="6.0" rx="3.0" fill="#000" opacity="1" filter="url(#b1)"/>
<rect x="477.0" y="450.0" width="10.0" height="3.2" rx="1.6" fill="#555" opacity="0.55" filter="url(#b1)"/>
<rect x="489.0" y="450.0" width="10.5" height="2.8" rx="1.4" fill="#666" opacity="0.45" filter="url(#b1)"/>
</g>
<rect x="403.6" y="437.7" width="102.7" height="27.6" fill="none" stroke="#0a0a0a" stroke-width="1.4" />
<clipPath id="bc9"><rect x="403.6" y="472.7" width="102.7" height="28.1"/></clipPath>
<g clip-path="url(#bc9)">
<rect x="403.6" y="472.7" width="102.7" height="28.1" fill="#f2f2f2" />
<rect x="408.0" y="484.1" width="28.0" height="11.0" rx="5.5" fill="#888" opacity="0.3" filter="url(#b2)"/>
<rect x="439.0" y="484.1" width="28.0" height="11.0" rx="5.5" fill="#888" opacity="0.3" filter="url(#b2)"/>
<rect x="410.4" y="486.7" width="23.1" height="5.8" rx="2.9" fill="#000" opacity="1" filter="url(#b1)"/>
<rect x="441.0" y="486.8" width="23.3" height="5.6" rx="2.8" fill="#000" opacity="1" filter="url(#b1)"/>
<rect x="474.6" y="487.5" width="24.0" height="4.6" rx="2.3" fill="#000" opacity="1" filter="url(#b1)"/>
</g>
<rect x="403.6" y="472.7" width="102.7" height="28.1" fill="none" stroke="#0a0a0a" stroke-width="1.4" />
<text x="2.2" y="519.0" font-size="14.8" font-weight="bold" stroke-width="0.1" >G</text>
<text x="64.5" y="530.8" font-size="8.6" font-weight="bold" stroke-width="0.1" textLength="45.4" >EPAS1-NC</text>
<rect x="51.5" y="537.6" width="77.0" height="64.6" fill="#fff" stroke="#8a8a8a" stroke-width="0.7" />
<line x1="51.5" y1="537.6" x2="51.5" y2="602.2" stroke="#444" stroke-width="0.8" />
<line x1="51.5" y1="602.2" x2="128.5" y2="602.2" stroke="#444" stroke-width="0.8" />
<line x1="49.5" y1="544.2" x2="51.5" y2="544.2" stroke="#333" stroke-width="0.7" />
<text x="45.6" y="547.2" font-size="8.3" text-anchor="end" letter-spacing="0.25" stroke-width="0.1">0.12</text>
<line x1="49.5" y1="553.7" x2="51.5" y2="553.7" stroke="#333" stroke-width="0.7" />
<text x="45.6" y="556.7" font-size="8.3" text-anchor="end" letter-spacing="0.25" stroke-width="0.1">0.10</text>
<line x1="49.5" y1="563.2" x2="51.5" y2="563.2" stroke="#333" stroke-width="0.7" />
<text x="45.6" y="566.2" font-size="8.3" text-anchor="end" letter-spacing="0.25" stroke-width="0.1">0.08</text>
<line x1="49.5" y1="572.8" x2="51.5" y2="572.8" stroke="#333" stroke-width="0.7" />
<text x="45.6" y="575.8" font-size="8.3" text-anchor="end" letter-spacing="0.25" stroke-width="0.1">0.06</text>
<line x1="49.5" y1="582.6" x2="51.5" y2="582.6" stroke="#333" stroke-width="0.7" />
<text x="45.6" y="585.6" font-size="8.3" text-anchor="end" letter-spacing="0.25" stroke-width="0.1">0.04</text>
<line x1="49.5" y1="592.4" x2="51.5" y2="592.4" stroke="#333" stroke-width="0.7" />
<text x="45.6" y="595.4" font-size="8.3" text-anchor="end" letter-spacing="0.25" stroke-width="0.1">0.02</text>
<line x1="49.5" y1="602.2" x2="51.5" y2="602.2" stroke="#333" stroke-width="0.7" />
<text x="45.6" y="605.2" font-size="8.3" text-anchor="end" letter-spacing="0.25" stroke-width="0.1">0.00</text>
<line x1="51.5" y1="602.2" x2="51.5" y2="604.4" stroke="#333" stroke-width="0.7" />
<line x1="77.2" y1="602.2" x2="77.2" y2="604.4" stroke="#333" stroke-width="0.7" />
<line x1="102.8" y1="602.2" x2="102.8" y2="604.4" stroke="#333" stroke-width="0.7" />
<line x1="128.5" y1="602.2" x2="128.5" y2="604.4" stroke="#333" stroke-width="0.7" />
<path d="M51.5,563.2 L54.0,560.0 L57.0,555.5 L60.0,550.5 L63.0,545.0 L65.5,541.0 L67.8,539.1 L70.0,540.0 L72.0,543.0 L74.0,548.0 L75.8,555.0 L77.0,560.9 L77.6,552.0 L78.1,546.2 L78.7,553.0 L79.6,560.0 L80.8,565.3 L83.0,569.0 L85.4,571.5 L88.0,573.6 L90.5,575.2 L93.0,576.0 L96.0,575.8 L98.5,575.4 L100.4,575.0 L101.6,573.0 L102.9,569.3 L104.0,571.2 L105.4,573.3 L108.0,574.4 L110.5,574.8 L115.0,575.2 L120.0,575.5 L124.0,575.3 L128.5,575.5" stroke="#3535b8" stroke-width="1.1" fill="none" stroke-linejoin="round"/>
<line x1="97.9" y1="543.4" x2="107.5" y2="543.4" stroke="#3535b8" stroke-width="1" />
<text x="110.5" y="545.0" font-size="4.6" textLength="13.6" stroke-width="0.1">genes</text>
<text x="42.7" y="613.6" font-size="8.3" textLength="13.0" stroke-width="0.1">-2.0</text>
<text x="69.0" y="613.6" font-size="8.3" textLength="15.2" stroke-width="0.1">TSS</text>
<text x="95.4" y="613.6" font-size="8.3" textLength="15.2" stroke-width="0.1">TES</text>
<text x="117.5" y="613.6" font-size="8.3" textLength="20.8" stroke-width="0.1">2.0Kb</text>
<text x="225.5" y="530.8" font-size="8.6" font-weight="bold" stroke-width="0.1" textLength="45.8" >EPAS1-OE</text>
<rect x="214.2" y="537.6" width="77.3" height="64.6" fill="#fff" stroke="#8a8a8a" stroke-width="0.7" />
<line x1="214.2" y1="537.6" x2="214.2" y2="602.2" stroke="#444" stroke-width="0.8" />
<line x1="214.2" y1="602.2" x2="291.5" y2="602.2" stroke="#444" stroke-width="0.8" />
<line x1="212.2" y1="544.7" x2="214.2" y2="544.7" stroke="#333" stroke-width="0.7" />
<text x="208.3" y="547.7" font-size="8.3" text-anchor="end" letter-spacing="0.25" stroke-width="0.1">0.25</text>
<line x1="212.2" y1="556.0" x2="214.2" y2="556.0" stroke="#333" stroke-width="0.7" />
<text x="208.3" y="559.0" font-size="8.3" text-anchor="end" letter-spacing="0.25" stroke-width="0.1">0.20</text>
<line x1="212.2" y1="567.8" x2="214.2" y2="567.8" stroke="#333" stroke-width="0.7" />
<text x="208.3" y="570.8" font-size="8.3" text-anchor="end" letter-spacing="0.25" stroke-width="0.1">0.15</text>
<line x1="212.2" y1="579.3" x2="214.2" y2="579.3" stroke="#333" stroke-width="0.7" />
<text x="208.3" y="582.3" font-size="8.3" text-anchor="end" letter-spacing="0.25" stroke-width="0.1">0.10</text>
<line x1="212.2" y1="590.6" x2="214.2" y2="590.6" stroke="#333" stroke-width="0.7" />
<text x="208.3" y="593.6" font-size="8.3" text-anchor="end" letter-spacing="0.25" stroke-width="0.1">0.05</text>
<line x1="212.2" y1="602.2" x2="214.2" y2="602.2" stroke="#333" stroke-width="0.7" />
<text x="208.3" y="605.2" font-size="8.3" text-anchor="end" letter-spacing="0.25" stroke-width="0.1">0.00</text>
<line x1="214.2" y1="602.2" x2="214.2" y2="604.4" stroke="#333" stroke-width="0.7" />
<line x1="240.0" y1="602.2" x2="240.0" y2="604.4" stroke="#333" stroke-width="0.7" />
<line x1="265.7" y1="602.2" x2="265.7" y2="604.4" stroke="#333" stroke-width="0.7" />
<line x1="291.5" y1="602.2" x2="291.5" y2="604.4" stroke="#333" stroke-width="0.7" />
<path d="M214.2,574.0 L217.0,570.0 L220.0,565.3 L222.2,561.5 L225.0,555.0 L227.5,549.0 L229.7,543.9 L232.0,541.0 L234.3,540.1 L236.0,541.4 L237.8,544.7 L239.0,547.6 L239.9,550.4 L240.4,545.0 L240.8,540.7 L241.1,548.0 L241.5,555.2 L243.0,563.5 L244.8,570.3 L247.0,575.5 L249.8,579.6 L253.0,582.2 L256.1,583.6 L260.0,583.8 L263.6,583.3 L265.0,582.0 L266.1,580.2 L267.3,581.6 L268.7,582.8 L273.0,583.4 L280.0,583.9 L286.0,584.3 L291.5,584.6" stroke="#3535b8" stroke-width="1.1" fill="none" stroke-linejoin="round"/>
<line x1="261.1" y1="543.9" x2="271.2" y2="543.9" stroke="#3535b8" stroke-width="1" />
<text x="274.2" y="545.5" font-size="4.6" textLength="13.4" stroke-width="0.1">genes</text>
<text x="205.9" y="613.6" font-size="8.3" textLength="13.0" stroke-width="0.1">-2.0</text>
<text x="232.3" y="613.6" font-size="8.3" textLength="15.2" stroke-width="0.1">TSS</text>
<text x="259.1" y="613.6" font-size="8.3" textLength="15.2" stroke-width="0.1">TES</text>
<text x="280.7" y="613.6" font-size="8.3" textLength="20.8" stroke-width="0.1">2.0Kb</text>
<clipPath id="hc1"><rect x="52.0" y="620.5" width="69.0" height="171.3"/></clipPath>
<g clip-path="url(#hc1)">
<rect x="52.0" y="620.5" width="69.0" height="171.3" fill="url(#hbase)" />
<polygon points="75.6,617.5 124.0,617.5 124.0,625.5 98.2,625.7 98.2,624.3 75.6,624.9" fill="#2a8cff" opacity="0.9" filter="url(#hb1)"/>
<polygon points="75.6,617.5 124.0,617.5 124.0,623.1 98.2,623.3 98.2,622.3 75.6,622.5" fill="#58f0ee" opacity="0.95" filter="url(#hb2)"/>
<polygon points="75.6,617.5 106.2,617.5 106.2,621.0 75.6,621.5" fill="#e8e640" opacity="0.9" filter="url(#hb2)"/>
<polygon points="35.6,616.5 70.6,666.5 76.8,666.5 80.6,616.5" fill="#2468ff" opacity="0.75" filter="url(#hb)"/>
<polygon points="40.7,616.5 70.4,659.5 75.8,659.5 78.8,616.5" fill="#38e2f8" opacity="0.97" filter="url(#hb1)"/>
<polygon points="48.9,616.5 70.8,649.8 75.3,649.8 76.4,616.5" fill="#8cf6a8" opacity="0.9" filter="url(#hb1)"/>
<polygon points="51.7,616.5 71.2,639.2 74.8,639.2 76.0,616.5" fill="#d6f23c" opacity="0.95" filter="url(#hb1)"/>
<polygon points="41.6,616.5 71.0,629.9 74.2,629.9 76.2,616.5" fill="#ffe62a" opacity="0.95" filter="url(#hb1)"/>
<polygon points="49.1,616.5 70.6,624.0 73.8,624.0 76.2,616.5" fill="#ffa41c" opacity="0.95" filter="url(#hb1)"/>
<polygon points="49.0,617.5 79.6,617.5 76.6,622.3 72.6,623.9 58.0,623.3 49.0,621.9" fill="#ff8412" opacity="0.95" filter="url(#hb2)"/>
<polygon points="59.0,617.5 76.6,617.5 73.6,622.1 67.6,622.8 62.0,621.5" fill="#e21a08" opacity="0.95" filter="url(#hb2)"/>
<rect x="75.4" y="620.5" width="0.9" height="43.7" fill="#7fe0ff" opacity="0.6" filter="url(#hb2)"/>
<rect x="97.9" y="620.5" width="0.9" height="16.4" fill="#55c8ff" opacity="0.6" filter="url(#hb2)"/>
<rect x="75.7" y="659.5" width="0.7" height="132.3" fill="#3a3ae0" opacity="0.3"/>
<rect x="98.2" y="636.1" width="0.7" height="85.6" fill="#3a3ae8" opacity="0.25"/>
</g>
<clipPath id="hc2"><rect x="213.9" y="620.5" width="68.6" height="171.3"/></clipPath>
<g clip-path="url(#hc2)">
<rect x="213.9" y="620.5" width="68.6" height="171.3" fill="url(#hbase)" />
<polygon points="236.6,617.5 285.5,617.5 285.5,625.5 259.2,625.7 259.2,624.3 236.6,624.9" fill="#2a8cff" opacity="0.9" filter="url(#hb1)"/>
<polygon points="236.6,617.5 285.5,617.5 285.5,623.1 259.2,623.3 259.2,622.3 236.6,622.5" fill="#58f0ee" opacity="0.95" filter="url(#hb2)"/>
<polygon points="236.6,617.5 267.2,617.5 267.2,621.0 236.6,621.5" fill="#e8e640" opacity="0.9" filter="url(#hb2)"/>
<polygon points="193.8,616.5 231.6,670.5 237.8,670.5 241.6,616.5" fill="#2468ff" opacity="0.75" filter="url(#hb)"/>
<polygon points="199.0,616.5 231.4,663.5 236.8,663.5 239.8,616.5" fill="#38e2f8" opacity="0.97" filter="url(#hb1)"/>
<polygon points="205.0,616.5 231.8,657.0 236.3,657.0 237.4,616.5" fill="#8cf6a8" opacity="0.9" filter="url(#hb1)"/>
<polygon points="203.6,616.5 232.2,649.7 235.8,649.7 237.0,616.5" fill="#d6f23c" opacity="0.95" filter="url(#hb1)"/>
<polygon points="204.4,616.5 232.0,637.7 235.2,637.7 237.2,616.5" fill="#ffe62a" opacity="0.95" filter="url(#hb1)"/>
<polygon points="211.0,616.5 231.6,628.7 234.8,628.7 237.2,616.5" fill="#ffa41c" opacity="0.95" filter="url(#hb1)"/>
<polygon points="210.9,617.5 240.6,617.5 237.6,622.3 233.6,623.9 219.9,623.3 210.9,621.9" fill="#ff8412" opacity="0.95" filter="url(#hb2)"/>
<polygon points="220.9,617.5 237.6,617.5 234.6,622.1 228.6,622.8 223.9,621.5" fill="#e21a08" opacity="0.95" filter="url(#hb2)"/>
<rect x="236.4" y="620.5" width="0.9" height="48.2" fill="#7fe0ff" opacity="0.6" filter="url(#hb2)"/>
<rect x="258.9" y="620.5" width="0.9" height="18.1" fill="#55c8ff" opacity="0.6" filter="url(#hb2)"/>
<rect x="236.7" y="663.5" width="0.7" height="128.3" fill="#3a3ae0" opacity="0.3"/>
<rect x="259.2" y="637.7" width="0.7" height="85.6" fill="#3a3ae8" opacity="0.25"/>
</g>
<rect x="124.3" y="620.5" width="6.3" height="171.3" fill="url(#jet)" />
<line x1="130.6" y1="627.1" x2="132.8" y2="627.1" stroke="#333" stroke-width="0.7" />
<text x="134.6" y="630.1" font-size="8.3" letter-spacing="0.25" stroke-width="0.1">0.6</text>
<line x1="130.6" y1="654.2" x2="132.8" y2="654.2" stroke="#333" stroke-width="0.7" />
<text x="134.6" y="657.2" font-size="8.3" letter-spacing="0.25" stroke-width="0.1">0.5</text>
<line x1="130.6" y1="682.3" x2="132.8" y2="682.3" stroke="#333" stroke-width="0.7" />
<text x="134.6" y="685.3" font-size="8.3" letter-spacing="0.25" stroke-width="0.1">0.4</text>
<line x1="130.6" y1="709.7" x2="132.8" y2="709.7" stroke="#333" stroke-width="0.7" />
<text x="134.6" y="712.7" font-size="8.3" letter-spacing="0.25" stroke-width="0.1">0.3</text>
<line x1="130.6" y1="737.5" x2="132.8" y2="737.5" stroke="#333" stroke-width="0.7" />
<text x="134.6" y="740.5" font-size="8.3" letter-spacing="0.25" stroke-width="0.1">0.2</text>
<line x1="130.6" y1="764.4" x2="132.8" y2="764.4" stroke="#333" stroke-width="0.7" />
<text x="134.6" y="767.4" font-size="8.3" letter-spacing="0.25" stroke-width="0.1">0.1</text>
<line x1="130.6" y1="792.2" x2="132.8" y2="792.2" stroke="#333" stroke-width="0.7" />
<text x="134.6" y="795.2" font-size="8.3" letter-spacing="0.25" stroke-width="0.1">0.0</text>
<rect x="285.7" y="620.5" width="6.1" height="171.3" fill="url(#jet)" />
<line x1="291.8" y1="627.1" x2="294.0" y2="627.1" stroke="#333" stroke-width="0.7" />
<text x="298.6" y="630.1" font-size="8.3" letter-spacing="0.25" stroke-width="0.1">1.4</text>
<line x1="291.8" y1="649.4" x2="294.0" y2="649.4" stroke="#333" stroke-width="0.7" />
<text x="298.6" y="652.4" font-size="8.3" letter-spacing="0.25" stroke-width="0.1">1.2</text>
<line x1="291.8" y1="673.8" x2="294.0" y2="673.8" stroke="#333" stroke-width="0.7" />
<text x="298.6" y="676.8" font-size="8.3" letter-spacing="0.25" stroke-width="0.1">1.0</text>
<line x1="291.8" y1="697.4" x2="294.0" y2="697.4" stroke="#333" stroke-width="0.7" />
<text x="298.6" y="700.4" font-size="8.3" letter-spacing="0.25" stroke-width="0.1">0.8</text>
<line x1="291.8" y1="720.5" x2="294.0" y2="720.5" stroke="#333" stroke-width="0.7" />
<text x="298.6" y="723.5" font-size="8.3" letter-spacing="0.25" stroke-width="0.1">0.6</text>
<line x1="291.8" y1="744.8" x2="294.0" y2="744.8" stroke="#333" stroke-width="0.7" />
<text x="298.6" y="747.8" font-size="8.3" letter-spacing="0.25" stroke-width="0.1">0.4</text>
<line x1="291.8" y1="768.7" x2="294.0" y2="768.7" stroke="#333" stroke-width="0.7" />
<text x="298.6" y="771.7" font-size="8.3" letter-spacing="0.25" stroke-width="0.1">0.2</text>
<line x1="291.8" y1="792.2" x2="294.0" y2="792.2" stroke="#333" stroke-width="0.7" />
<text x="298.6" y="795.2" font-size="8.3" letter-spacing="0.25" stroke-width="0.1">0.0</text>
<line x1="52.0" y1="791.8" x2="52.0" y2="794.0" stroke="#333" stroke-width="0.7" />
<line x1="75.0" y1="791.8" x2="75.0" y2="794.0" stroke="#333" stroke-width="0.7" />
<line x1="98.0" y1="791.8" x2="98.0" y2="794.0" stroke="#333" stroke-width="0.7" />
<line x1="121.0" y1="791.8" x2="121.0" y2="794.0" stroke="#333" stroke-width="0.7" />
<line x1="213.9" y1="791.8" x2="213.9" y2="794.0" stroke="#333" stroke-width="0.7" />
<line x1="236.8" y1="791.8" x2="236.8" y2="794.0" stroke="#333" stroke-width="0.7" />
<line x1="259.6" y1="791.8" x2="259.6" y2="794.0" stroke="#333" stroke-width="0.7" />
<line x1="282.5" y1="791.8" x2="282.5" y2="794.0" stroke="#333" stroke-width="0.7" />
<text x="42.7" y="803.6" font-size="8.3" textLength="13.0" stroke-width="0.1">-2.0</text>
<text x="69.0" y="803.6" font-size="8.3" textLength="15.2" stroke-width="0.1">TSS</text>
<text x="95.4" y="803.6" font-size="8.3" textLength="15.2" stroke-width="0.1">TES</text>
<text x="117.5" y="803.6" font-size="8.3" textLength="20.8" stroke-width="0.1">2.0Kb</text>
<text x="205.9" y="803.6" font-size="8.3" textLength="13.0" stroke-width="0.1">-2.0</text>
<text x="232.3" y="803.6" font-size="8.3" textLength="15.2" stroke-width="0.1">TSS</text>
<text x="259.1" y="803.6" font-size="8.3" textLength="15.2" stroke-width="0.1">TES</text>
<text x="280.7" y="803.6" font-size="8.3" textLength="20.8" stroke-width="0.1">2.0Kb</text>
<text x="55.2" y="817.3" font-size="7.6" font-weight="bold" stroke-width="0.1" textLength="76.6" >Gene distance ( bp )</text>
<text x="219.2" y="817.3" font-size="7.6" font-weight="bold" stroke-width="0.1" textLength="76.4" >Gene distance ( bp )</text>
<text x="341.2" y="517.6" font-size="14.8" font-weight="bold" stroke-width="0.1" >H</text>
<text x="500.2" y="526.6" font-size="8.4" font-weight="bold" stroke-width="0.1" textLength="80.4" >H3K27ac  in  SDHA</text>
<rect x="395.7" y="532.0" width="288.0" height="3.6" fill="#fff" stroke="#777" stroke-width="0.5" />
<rect x="395.7" y="532.0" width="6.8" height="3.6" fill="#000" />
<rect x="405.0" y="532.0" width="8.0" height="3.6" fill="#000" />
<rect x="423.5" y="532.0" width="9.5" height="3.6" fill="#aaa" />
<rect x="441.5" y="532.0" width="7.0" height="3.6" fill="#777" />
<rect x="475.5" y="532.0" width="16.0" height="3.6" fill="#333" />
<rect x="494.0" y="532.0" width="9.0" height="3.6" fill="#777" />
<rect x="506.0" y="532.0" width="15.6" height="3.6" fill="#777" />
<rect x="524.0" y="532.0" width="19.6" height="3.6" fill="#000" />
<rect x="555.0" y="532.0" width="8.8" height="3.6" fill="#000" />
<rect x="567.6" y="532.0" width="10.6" height="3.6" fill="#000" />
<rect x="582.2" y="532.0" width="3.6" height="3.6" fill="#888" />
<rect x="590.3" y="532.0" width="11.4" height="3.6" fill="#000" />
<rect x="614.3" y="532.0" width="6.3" height="3.6" fill="#000" />
<rect x="632.7" y="532.0" width="5.6" height="3.6" fill="#bbb" />
<rect x="649.1" y="532.0" width="10.7" height="3.6" fill="#555" />
<rect x="665.6" y="532.0" width="6.0" height="3.6" fill="#888" />
<rect x="680.7" y="532.0" width="3.0" height="3.6" fill="#000" />
<path d="M448.5,531.8 L453.6,533.8 L448.5,535.8 Z M458.8,531.8 L453.6,533.8 L458.8,535.8 Z" fill="#c8171a"/>
<text x="396.0" y="539.4" font-size="3.1" stroke-width="0.12">p15.3</text>
<text x="405.5" y="539.4" font-size="3.1" stroke-width="0.12">p14.3</text>
<text x="423.8" y="539.4" font-size="3.1" stroke-width="0.12">p13.2</text>
<text x="441.8" y="539.4" font-size="3.1" stroke-width="0.12">p12</text>
<text x="452.6" y="539.4" font-size="3.1" stroke-width="0.12">q11.1</text>
<text x="476.0" y="539.4" font-size="3.1" stroke-width="0.12">q12.1</text>
<text x="489.6" y="539.4" font-size="3.1" stroke-width="0.12">q13.2</text>
<text x="503.8" y="539.4" font-size="3.1" stroke-width="0.12">q13.3</text>
<text x="518.4" y="539.4" font-size="3.1" stroke-width="0.12">q14.2</text>
<text x="545.8" y="539.4" font-size="3.1" stroke-width="0.12">q15</text>
<text x="563.2" y="539.4" font-size="3.1" stroke-width="0.12">q21.2</text>
<text x="577.0" y="539.4" font-size="3.1" stroke-width="0.12">q22.1</text>
<text x="592.6" y="539.4" font-size="3.1" stroke-width="0.12">q23.2</text>
<text x="605.4" y="539.4" font-size="3.1" stroke-width="0.12">q23.2</text>
<text x="622.2" y="539.4" font-size="3.1" stroke-width="0.12">q31.1</text>
<text x="640.4" y="539.4" font-size="3.1" stroke-width="0.12">q31.3</text>
<text x="659.0" y="539.4" font-size="3.1" stroke-width="0.12">q33.1</text>
<text x="671.6" y="539.4" font-size="3.1" stroke-width="0.12">q33.3</text>
<line x1="395.7" y1="552.2" x2="531.0" y2="552.2" stroke="#555" stroke-width="0.6" />
<line x1="546.4" y1="552.2" x2="683.7" y2="552.2" stroke="#555" stroke-width="0.6" />
<text x="534.2" y="553.6" font-size="3.6" stroke-width="0.15">78 kb</text>
<line x1="395.7" y1="565.2" x2="683.7" y2="565.2" stroke="#555" stroke-width="0.6" />
<line x1="399.0" y1="565.2" x2="399.0" y2="561.6" stroke="#555" stroke-width="0.55" />
<line x1="422.2" y1="565.2" x2="422.2" y2="562.2" stroke="#555" stroke-width="0.55" />
<text x="422.2" y="560.2" font-size="3.1" text-anchor="middle" stroke-width="0.12">200 kb</text>
<line x1="445.4" y1="565.2" x2="445.4" y2="561.6" stroke="#555" stroke-width="0.55" />
<line x1="468.7" y1="565.2" x2="468.7" y2="562.2" stroke="#555" stroke-width="0.55" />
<text x="468.7" y="560.2" font-size="3.1" text-anchor="middle" stroke-width="0.12">220 kb</text>
<line x1="491.9" y1="565.2" x2="491.9" y2="561.6" stroke="#555" stroke-width="0.55" />
<line x1="515.1" y1="565.2" x2="515.1" y2="562.2" stroke="#555" stroke-width="0.55" />
<text x="515.1" y="560.2" font-size="3.1" text-anchor="middle" stroke-width="0.12">240 kb</text>
<line x1="538.3" y1="565.2" x2="538.3" y2="561.6" stroke="#555" stroke-width="0.55" />
<line x1="561.5" y1="565.2" x2="561.5" y2="562.2" stroke="#555" stroke-width="0.55" />
<text x="561.5" y="560.2" font-size="3.1" text-anchor="middle" stroke-width="0.12">260 kb</text>
<line x1="584.8" y1="565.2" x2="584.8" y2="561.6" stroke="#555" stroke-width="0.55" />
<line x1="608.0" y1="565.2" x2="608.0" y2="562.2" stroke="#555" stroke-width="0.55" />
<text x="608.0" y="560.2" font-size="3.1" text-anchor="middle" stroke-width="0.12">280 kb</text>
<line x1="631.2" y1="565.2" x2="631.2" y2="561.6" stroke="#555" stroke-width="0.55" />
<line x1="654.4" y1="565.2" x2="654.4" y2="562.2" stroke="#555" stroke-width="0.55" />
<text x="654.4" y="560.2" font-size="3.1" text-anchor="middle" stroke-width="0.12">300 kb</text>
<line x1="677.6" y1="565.2" x2="677.6" y2="561.6" stroke="#555" stroke-width="0.55" />
<rect x="395.7" y="567.4" width="288.0" height="87.0" fill="#f4f4f4" />
<rect x="395.7" y="567.4" width="288.0" height="1.4" fill="#dcdcdc" />
<line x1="395.7" y1="653.8" x2="683.7" y2="653.8" stroke="#c4c4c4" stroke-width="0.6" />
<rect x="395.7" y="654.2" width="288.0" height="9.6" fill="#fbfbfb" />
<line x1="395.7" y1="602.7" x2="683.7" y2="602.7" stroke="#9a9af2" stroke-width="0.9" />
<path d="M468.90,602.5 L470.00,583.9 L471.10,602.5 Z M467.50,602.5 L468.80,590.5 L470.10,602.5 Z M466.10,602.5 L467.40,595.5 L468.70,602.5 Z M465.10,602.5 L466.20,599.0 L467.30,602.5 Z M470.20,602.5 L471.30,593.5 L472.40,602.5 Z M472.60,602.5 L473.60,595.9 L474.60,602.5 Z M473.80,602.5 L474.80,599.1 L475.80,602.5 Z M475.30,602.5 L476.30,600.9 L477.30,602.5 Z M477.55,602.5 L478.80,601.3 L480.05,602.5 Z M457.80,602.5 L458.60,600.1 L459.40,602.5 Z M459.50,602.5 L460.20,601.5 L460.90,602.5 Z M485.50,602.5 L486.40,597.9 L487.30,602.5 Z M483.40,602.5 L484.20,601.1 L485.00,602.5 Z M402.60,602.5 L403.20,601.6 L403.80,602.5 Z M420.20,602.5 L420.80,601.6 L421.40,602.5 Z M498.00,602.5 L498.60,601.6 L499.20,602.5 Z M514.00,602.5 L514.60,601.6 L515.20,602.5 Z M635.80,602.5 L636.40,601.6 L637.00,602.5 Z M639.00,602.5 L639.60,601.6 L640.20,602.5 Z " fill="#1818e8" stroke="#1818e8" stroke-width="0.35" stroke-linejoin="round"/>
<line x1="395.7" y1="636.3" x2="683.7" y2="636.3" stroke="#c9c9c9" stroke-width="0.7" />
<path d="M468.70,636.2 L470.00,607.2 L471.30,636.2 Z M467.20,636.2 L468.60,614.2 L470.00,636.2 Z M470.20,636.2 L471.40,617.2 L472.60,636.2 Z M465.90,636.2 L467.20,624.2 L468.50,636.2 Z M471.60,636.2 L472.80,624.2 L474.00,636.2 Z M473.00,636.2 L474.20,627.2 L475.40,636.2 Z M474.60,636.2 L475.60,621.8 L476.60,636.2 Z M475.80,636.2 L477.00,631.2 L478.20,636.2 Z M477.40,636.2 L478.60,632.6 L479.80,636.2 Z M458.20,636.2 L459.20,628.8 L460.20,636.2 Z M459.80,636.2 L460.80,632.0 L461.80,636.2 Z M461.40,636.2 L462.60,633.0 L463.80,636.2 Z M463.20,636.2 L464.40,631.6 L465.60,636.2 Z M464.70,636.2 L465.80,630.0 L466.90,636.2 Z M456.20,636.2 L457.20,633.6 L458.20,636.2 Z M454.00,636.2 L455.00,634.6 L456.00,636.2 Z M479.20,636.2 L480.40,633.4 L481.60,636.2 Z M481.20,636.2 L482.40,634.0 L483.60,636.2 Z M483.20,636.2 L484.20,632.8 L485.20,636.2 Z M485.20,636.2 L486.20,626.2 L487.20,636.2 Z M486.60,636.2 L487.60,632.8 L488.60,636.2 Z M488.20,636.2 L489.40,634.4 L490.60,636.2 Z M490.40,636.2 L491.60,635.0 L492.80,636.2 Z " fill="#d01e14" stroke="#d01e14" stroke-width="0.35" stroke-linejoin="round"/>
<path d="M408.00,636.2 L408.60,635.3 L409.20,636.2 Z M444.00,636.2 L444.60,635.3 L445.20,636.2 Z M450.80,636.2 L451.40,635.3 L452.00,636.2 Z M494.70,636.2 L495.40,635.3 L496.10,636.2 Z M498.80,636.2 L499.40,635.3 L500.00,636.2 Z M506.00,636.2 L506.60,635.3 L507.20,636.2 Z M509.60,636.2 L510.20,635.3 L510.80,636.2 Z M515.80,636.2 L516.40,635.3 L517.00,636.2 Z M676.50,636.2 L677.20,635.2 L677.90,636.2 Z " fill="#d86a64" stroke="#d86a64" stroke-width="0.35" stroke-linejoin="round"/>
<text x="351.8" y="605.3" font-size="8.4" font-weight="bold" stroke-width="0.1" textLength="45.2" >EPAS1-NC</text>
<text x="351.8" y="638.6" font-size="8.4" font-weight="bold" stroke-width="0.1" textLength="45.2" >EPAS1-OE</text>
<line x1="395.7" y1="658.7" x2="683.7" y2="658.7" stroke="#2222dd" stroke-width="0.7" />
<rect x="395.7" y="655.9" width="7.0" height="5.6" fill="#2222dd" />
<rect x="615.6" y="656.7" width="26.4" height="4.0" fill="#2222dd" />
<rect x="628.6" y="655.8" width="4.2" height="5.8" fill="#2222dd" />
<rect x="671.2" y="656.8" width="6.8" height="3.8" fill="#2222dd" />
<rect x="452.6" y="656.4" width="0.7" height="4.6" fill="#2222dd" />
<rect x="456.8" y="657.2" width="0.7" height="3.0" fill="#2222dd" />
<rect x="484.0" y="656.7" width="0.8" height="4.0" fill="#2222dd" />
<rect x="488.6" y="656.5" width="0.8" height="4.4" fill="#2222dd" />
<rect x="492.2" y="656.5" width="0.8" height="4.4" fill="#2222dd" />
<rect x="494.2" y="656.7" width="0.8" height="4.0" fill="#2222dd" />
<rect x="496.0" y="656.7" width="0.8" height="4.0" fill="#2222dd" />
<rect x="506.4" y="656.5" width="0.9" height="4.4" fill="#2222dd" />
<rect x="519.2" y="656.5" width="0.8" height="4.4" fill="#2222dd" />
<rect x="531.2" y="656.5" width="0.8" height="4.4" fill="#2222dd" />
<rect x="538.2" y="656.2" width="1.6" height="5.0" fill="#2222dd" />
<rect x="544.8" y="656.5" width="0.8" height="4.4" fill="#2222dd" />
<rect x="563.2" y="656.5" width="0.8" height="4.4" fill="#2222dd" />
<rect x="613.1" y="656.2" width="0.9" height="5.0" fill="#2222dd" />
<rect x="410.0" y="658.2" width="0.8" height="1.0" fill="#2222dd" />
<rect x="418.7" y="658.2" width="0.8" height="1.0" fill="#2222dd" />
<rect x="427.4" y="658.2" width="0.8" height="1.0" fill="#2222dd" />
<rect x="436.1" y="658.2" width="0.8" height="1.0" fill="#2222dd" />
<rect x="444.8" y="658.2" width="0.8" height="1.0" fill="#2222dd" />
<rect x="453.5" y="658.2" width="0.8" height="1.0" fill="#2222dd" />
<rect x="462.2" y="658.2" width="0.8" height="1.0" fill="#2222dd" />
<rect x="470.9" y="658.2" width="0.8" height="1.0" fill="#2222dd" />
<rect x="479.6" y="658.2" width="0.8" height="1.0" fill="#2222dd" />
<rect x="488.3" y="658.2" width="0.8" height="1.0" fill="#2222dd" />
<rect x="497.0" y="658.2" width="0.8" height="1.0" fill="#2222dd" />
<rect x="505.7" y="658.2" width="0.8" height="1.0" fill="#2222dd" />
<rect x="514.4" y="658.2" width="0.8" height="1.0" fill="#2222dd" />
<rect x="523.1" y="658.2" width="0.8" height="1.0" fill="#2222dd" />
<rect x="531.8" y="658.2" width="0.8" height="1.0" fill="#2222dd" />
<rect x="540.5" y="658.2" width="0.8" height="1.0" fill="#2222dd" />
<rect x="549.2" y="658.2" width="0.8" height="1.0" fill="#2222dd" />
<rect x="557.9" y="658.2" width="0.8" height="1.0" fill="#2222dd" />
<rect x="566.6" y="658.2" width="0.8" height="1.0" fill="#2222dd" />
<rect x="575.3" y="658.2" width="0.8" height="1.0" fill="#2222dd" />
<rect x="584.0" y="658.2" width="0.8" height="1.0" fill="#2222dd" />
<rect x="592.7" y="658.2" width="0.8" height="1.0" fill="#2222dd" />
<rect x="601.4" y="658.2" width="0.8" height="1.0" fill="#2222dd" />
<rect x="610.1" y="658.2" width="0.8" height="1.0" fill="#2222dd" />
<rect x="618.8" y="658.2" width="0.8" height="1.0" fill="#2222dd" />
<rect x="627.5" y="658.2" width="0.8" height="1.0" fill="#2222dd" />
<rect x="636.2" y="658.2" width="0.8" height="1.0" fill="#2222dd" />
<rect x="644.9" y="658.2" width="0.8" height="1.0" fill="#2222dd" />
<rect x="653.6" y="658.2" width="0.8" height="1.0" fill="#2222dd" />
<rect x="662.3" y="658.2" width="0.8" height="1.0" fill="#2222dd" />
<text x="341.0" y="677.4" font-size="14.8" font-weight="bold" stroke-width="0.1" >I</text>
<line x1="395.7" y1="683.8" x2="395.7" y2="801.3" stroke="#111" stroke-width="1.3" />
<line x1="395.2" y1="800.8" x2="679.4" y2="800.8" stroke="#111" stroke-width="1.3" />
<line x1="391.7" y1="684.3" x2="395.7" y2="684.3" stroke="#111" stroke-width="1.3" />
<text x="387.3" y="687.3" font-size="7.6" text-anchor="end" letter-spacing="0.3" >10</text>
<line x1="391.7" y1="707.7" x2="395.7" y2="707.7" stroke="#111" stroke-width="1.3" />
<text x="387.3" y="710.8" font-size="7.6" text-anchor="end" letter-spacing="0.3" >8</text>
<line x1="391.7" y1="730.8" x2="395.7" y2="730.8" stroke="#111" stroke-width="1.3" />
<text x="387.3" y="733.8" font-size="7.6" text-anchor="end" letter-spacing="0.3" >6</text>
<line x1="391.7" y1="754.1" x2="395.7" y2="754.1" stroke="#111" stroke-width="1.3" />
<text x="387.3" y="757.1" font-size="7.6" text-anchor="end" letter-spacing="0.3" >4</text>
<line x1="391.7" y1="777.5" x2="395.7" y2="777.5" stroke="#111" stroke-width="1.3" />
<text x="387.3" y="780.5" font-size="7.6" text-anchor="end" letter-spacing="0.3" >2</text>
<line x1="391.7" y1="800.8" x2="395.7" y2="800.8" stroke="#111" stroke-width="1.3" />
<text x="387.3" y="803.8" font-size="7.6" text-anchor="end" letter-spacing="0.3" >0</text>
<rect x="399.8" y="789.1" width="4.3" height="11.6" fill="#4fa8b1" stroke="#151515" stroke-width="0.9" />
<line x1="401.9" y1="788.8" x2="401.9" y2="789.5" stroke="#222" stroke-width="0.6" />
<line x1="400.4" y1="788.8" x2="403.4" y2="788.8" stroke="#222" stroke-width="0.6" />
<line x1="400.4" y1="789.5" x2="403.4" y2="789.5" stroke="#222" stroke-width="0.6" />
<rect x="404.6" y="707.6" width="4.3" height="93.2" fill="#fd2411" stroke="#151515" stroke-width="0.9" />
<line x1="406.8" y1="704.1" x2="406.8" y2="711.1" stroke="#222" stroke-width="0.6" />
<line x1="405.2" y1="704.1" x2="408.2" y2="704.1" stroke="#222" stroke-width="0.6" />
<line x1="405.2" y1="711.1" x2="408.2" y2="711.1" stroke="#222" stroke-width="0.6" />
<line x1="404.4" y1="800.8" x2="404.4" y2="803.4" stroke="#111" stroke-width="0.9" />
<text transform="translate(406.0,808.2) rotate(-45)" font-size="6.2" text-anchor="end" textLength="19.5" fill="#222" stroke-width="0.15">EPAS1</text>
<rect x="416.5" y="785.7" width="4.3" height="15.1" fill="#4fa8b1" stroke="#151515" stroke-width="0.9" />
<line x1="418.6" y1="785.1" x2="418.6" y2="786.2" stroke="#222" stroke-width="0.6" />
<line x1="417.1" y1="785.1" x2="420.1" y2="785.1" stroke="#222" stroke-width="0.6" />
<line x1="417.1" y1="786.2" x2="420.1" y2="786.2" stroke="#222" stroke-width="0.6" />
<rect x="421.3" y="789.1" width="4.3" height="11.6" fill="#fd2411" stroke="#151515" stroke-width="0.9" />
<line x1="423.4" y1="788.5" x2="423.4" y2="789.8" stroke="#222" stroke-width="0.6" />
<line x1="421.9" y1="788.5" x2="424.9" y2="788.5" stroke="#222" stroke-width="0.6" />
<line x1="421.9" y1="789.8" x2="424.9" y2="789.8" stroke="#222" stroke-width="0.6" />
<line x1="421.1" y1="800.8" x2="421.1" y2="803.4" stroke="#111" stroke-width="0.9" />
<text transform="translate(422.7,808.2) rotate(-45)" font-size="6.2" text-anchor="end" textLength="19.5" fill="#222" stroke-width="0.15">HDAC1</text>
<rect x="433.2" y="774.6" width="4.3" height="26.2" fill="#4fa8b1" stroke="#151515" stroke-width="0.9" />
<line x1="435.3" y1="774.1" x2="435.3" y2="775.1" stroke="#222" stroke-width="0.6" />
<line x1="433.8" y1="774.1" x2="436.8" y2="774.1" stroke="#222" stroke-width="0.6" />
<line x1="433.8" y1="775.1" x2="436.8" y2="775.1" stroke="#222" stroke-width="0.6" />
<rect x="438.0" y="789.1" width="4.3" height="11.6" fill="#fd2411" stroke="#151515" stroke-width="0.9" />
<line x1="440.1" y1="788.8" x2="440.1" y2="789.5" stroke="#222" stroke-width="0.6" />
<line x1="438.6" y1="788.8" x2="441.6" y2="788.8" stroke="#222" stroke-width="0.6" />
<line x1="438.6" y1="789.5" x2="441.6" y2="789.5" stroke="#222" stroke-width="0.6" />
<line x1="437.8" y1="800.8" x2="437.8" y2="803.4" stroke="#111" stroke-width="0.9" />
<text transform="translate(439.4,808.2) rotate(-45)" font-size="6.2" text-anchor="end" textLength="19.5" fill="#222" stroke-width="0.15">HDAC2</text>
<rect x="449.9" y="781.6" width="4.3" height="19.2" fill="#4fa8b1" stroke="#151515" stroke-width="0.9" />
<line x1="452.0" y1="781.1" x2="452.0" y2="782.0" stroke="#222" stroke-width="0.6" />
<line x1="450.5" y1="781.1" x2="453.5" y2="781.1" stroke="#222" stroke-width="0.6" />
<line x1="450.5" y1="782.0" x2="453.5" y2="782.0" stroke="#222" stroke-width="0.6" />
<rect x="454.7" y="789.1" width="4.3" height="11.6" fill="#fd2411" stroke="#151515" stroke-width="0.9" />
<line x1="456.8" y1="788.8" x2="456.8" y2="789.5" stroke="#222" stroke-width="0.6" />
<line x1="455.3" y1="788.8" x2="458.3" y2="788.8" stroke="#222" stroke-width="0.6" />
<line x1="455.3" y1="789.5" x2="458.3" y2="789.5" stroke="#222" stroke-width="0.6" />
<line x1="454.4" y1="800.8" x2="454.4" y2="803.4" stroke="#111" stroke-width="0.9" />
<text transform="translate(456.1,808.2) rotate(-45)" font-size="6.2" text-anchor="end" textLength="19.5" fill="#222" stroke-width="0.15">HDAC3</text>
<rect x="466.6" y="775.2" width="4.3" height="25.6" fill="#4fa8b1" stroke="#151515" stroke-width="0.9" />
<line x1="468.8" y1="774.0" x2="468.8" y2="776.3" stroke="#222" stroke-width="0.6" />
<line x1="467.2" y1="774.0" x2="470.2" y2="774.0" stroke="#222" stroke-width="0.6" />
<line x1="467.2" y1="776.3" x2="470.2" y2="776.3" stroke="#222" stroke-width="0.6" />
<rect x="471.4" y="795.0" width="4.3" height="5.8" fill="#fd2411" stroke="#151515" stroke-width="0.9" />
<line x1="473.6" y1="792.1" x2="473.6" y2="797.9" stroke="#222" stroke-width="0.6" />
<line x1="472.1" y1="792.1" x2="475.1" y2="792.1" stroke="#222" stroke-width="0.6" />
<line x1="472.1" y1="797.9" x2="475.1" y2="797.9" stroke="#222" stroke-width="0.6" />
<line x1="471.2" y1="800.8" x2="471.2" y2="803.4" stroke="#111" stroke-width="0.9" />
<text transform="translate(472.8,808.2) rotate(-45)" font-size="6.2" text-anchor="end" textLength="19.5" fill="#222" stroke-width="0.15">HDAC4</text>
<rect x="483.3" y="768.8" width="4.3" height="32.0" fill="#4fa8b1" stroke="#151515" stroke-width="0.9" />
<line x1="485.4" y1="766.7" x2="485.4" y2="770.9" stroke="#222" stroke-width="0.6" />
<line x1="483.9" y1="766.7" x2="486.9" y2="766.7" stroke="#222" stroke-width="0.6" />
<line x1="483.9" y1="770.9" x2="486.9" y2="770.9" stroke="#222" stroke-width="0.6" />
<rect x="488.1" y="789.1" width="4.3" height="11.6" fill="#fd2411" stroke="#151515" stroke-width="0.9" />
<line x1="490.2" y1="788.8" x2="490.2" y2="789.5" stroke="#222" stroke-width="0.6" />
<line x1="488.8" y1="788.8" x2="491.8" y2="788.8" stroke="#222" stroke-width="0.6" />
<line x1="488.8" y1="789.5" x2="491.8" y2="789.5" stroke="#222" stroke-width="0.6" />
<line x1="487.9" y1="800.8" x2="487.9" y2="803.4" stroke="#111" stroke-width="0.9" />
<text transform="translate(489.5,808.2) rotate(-45)" font-size="6.2" text-anchor="end" textLength="19.5" fill="#222" stroke-width="0.15">HDAC5</text>
<rect x="500.0" y="789.1" width="4.3" height="11.6" fill="#4fa8b1" stroke="#151515" stroke-width="0.9" />
<line x1="502.1" y1="788.8" x2="502.1" y2="789.5" stroke="#222" stroke-width="0.6" />
<line x1="500.6" y1="788.8" x2="503.6" y2="788.8" stroke="#222" stroke-width="0.6" />
<line x1="500.6" y1="789.5" x2="503.6" y2="789.5" stroke="#222" stroke-width="0.6" />
<rect x="504.8" y="788.6" width="4.3" height="12.2" fill="#fd2411" stroke="#151515" stroke-width="0.9" />
<line x1="506.9" y1="788.0" x2="506.9" y2="789.1" stroke="#222" stroke-width="0.6" />
<line x1="505.4" y1="788.0" x2="508.4" y2="788.0" stroke="#222" stroke-width="0.6" />
<line x1="505.4" y1="789.1" x2="508.4" y2="789.1" stroke="#222" stroke-width="0.6" />
<line x1="504.6" y1="800.8" x2="504.6" y2="803.4" stroke="#111" stroke-width="0.9" />
<text transform="translate(506.2,808.2) rotate(-45)" font-size="6.2" text-anchor="end" textLength="19.5" fill="#222" stroke-width="0.15">HDAC6</text>
<rect x="516.7" y="789.1" width="4.3" height="11.6" fill="#4fa8b1" stroke="#151515" stroke-width="0.9" />
<line x1="518.9" y1="787.4" x2="518.9" y2="790.9" stroke="#222" stroke-width="0.6" />
<line x1="517.4" y1="787.4" x2="520.4" y2="787.4" stroke="#222" stroke-width="0.6" />
<line x1="517.4" y1="790.9" x2="520.4" y2="790.9" stroke="#222" stroke-width="0.6" />
<rect x="521.5" y="786.8" width="4.3" height="14.0" fill="#fd2411" stroke="#151515" stroke-width="0.9" />
<line x1="523.6" y1="783.9" x2="523.6" y2="789.7" stroke="#222" stroke-width="0.6" />
<line x1="522.1" y1="783.9" x2="525.1" y2="783.9" stroke="#222" stroke-width="0.6" />
<line x1="522.1" y1="789.7" x2="525.1" y2="789.7" stroke="#222" stroke-width="0.6" />
<line x1="521.2" y1="800.8" x2="521.2" y2="803.4" stroke="#111" stroke-width="0.9" />
<text transform="translate(522.9,808.2) rotate(-45)" font-size="6.2" text-anchor="end" textLength="19.5" fill="#222" stroke-width="0.15">HDAC7</text>
<rect x="533.4" y="789.1" width="4.3" height="11.6" fill="#4fa8b1" stroke="#151515" stroke-width="0.9" />
<line x1="535.5" y1="787.1" x2="535.5" y2="791.2" stroke="#222" stroke-width="0.6" />
<line x1="534.0" y1="787.1" x2="537.0" y2="787.1" stroke="#222" stroke-width="0.6" />
<line x1="534.0" y1="791.2" x2="537.0" y2="791.2" stroke="#222" stroke-width="0.6" />
<rect x="538.2" y="789.1" width="4.3" height="11.6" fill="#fd2411" stroke="#151515" stroke-width="0.9" />
<line x1="540.3" y1="787.8" x2="540.3" y2="790.5" stroke="#222" stroke-width="0.6" />
<line x1="538.8" y1="787.8" x2="541.8" y2="787.8" stroke="#222" stroke-width="0.6" />
<line x1="538.8" y1="790.5" x2="541.8" y2="790.5" stroke="#222" stroke-width="0.6" />
<line x1="537.9" y1="800.8" x2="537.9" y2="803.4" stroke="#111" stroke-width="0.9" />
<text transform="translate(539.5,808.2) rotate(-45)" font-size="6.2" text-anchor="end" textLength="19.5" fill="#222" stroke-width="0.15">HDAC8</text>
<rect x="550.1" y="789.1" width="4.3" height="11.6" fill="#4fa8b1" stroke="#151515" stroke-width="0.9" />
<line x1="552.2" y1="787.8" x2="552.2" y2="790.5" stroke="#222" stroke-width="0.6" />
<line x1="550.8" y1="787.8" x2="553.8" y2="787.8" stroke="#222" stroke-width="0.6" />
<line x1="550.8" y1="790.5" x2="553.8" y2="790.5" stroke="#222" stroke-width="0.6" />
<rect x="554.9" y="761.0" width="4.3" height="39.8" fill="#fd2411" stroke="#151515" stroke-width="0.9" />
<line x1="557.0" y1="760.4" x2="557.0" y2="761.5" stroke="#222" stroke-width="0.6" />
<line x1="555.5" y1="760.4" x2="558.5" y2="760.4" stroke="#222" stroke-width="0.6" />
<line x1="555.5" y1="761.5" x2="558.5" y2="761.5" stroke="#222" stroke-width="0.6" />
<line x1="554.6" y1="800.8" x2="554.6" y2="803.4" stroke="#111" stroke-width="0.9" />
<text transform="translate(556.2,808.2) rotate(-45)" font-size="6.2" text-anchor="end" textLength="19.5" fill="#222" stroke-width="0.15">HDAC9</text>
<rect x="566.8" y="785.1" width="4.3" height="15.7" fill="#4fa8b1" stroke="#151515" stroke-width="0.9" />
<line x1="568.9" y1="784.5" x2="568.9" y2="785.7" stroke="#222" stroke-width="0.6" />
<line x1="567.4" y1="784.5" x2="570.4" y2="784.5" stroke="#222" stroke-width="0.6" />
<line x1="567.4" y1="785.7" x2="570.4" y2="785.7" stroke="#222" stroke-width="0.6" />
<rect x="571.6" y="789.1" width="4.3" height="11.6" fill="#fd2411" stroke="#151515" stroke-width="0.9" />
<line x1="573.7" y1="788.7" x2="573.7" y2="789.6" stroke="#222" stroke-width="0.6" />
<line x1="572.2" y1="788.7" x2="575.2" y2="788.7" stroke="#222" stroke-width="0.6" />
<line x1="572.2" y1="789.6" x2="575.2" y2="789.6" stroke="#222" stroke-width="0.6" />
<line x1="571.3" y1="800.8" x2="571.3" y2="803.4" stroke="#111" stroke-width="0.9" />
<text transform="translate(572.9,808.2) rotate(-45)" font-size="6.2" text-anchor="end" textLength="23.5" fill="#222" stroke-width="0.15">HDAC10</text>
<rect x="583.5" y="789.1" width="4.3" height="11.6" fill="#4fa8b1" stroke="#151515" stroke-width="0.9" />
<line x1="585.6" y1="788.7" x2="585.6" y2="789.6" stroke="#222" stroke-width="0.6" />
<line x1="584.1" y1="788.7" x2="587.1" y2="788.7" stroke="#222" stroke-width="0.6" />
<line x1="584.1" y1="789.6" x2="587.1" y2="789.6" stroke="#222" stroke-width="0.6" />
<rect x="588.3" y="788.6" width="4.3" height="12.2" fill="#fd2411" stroke="#151515" stroke-width="0.9" />
<line x1="590.4" y1="787.9" x2="590.4" y2="789.3" stroke="#222" stroke-width="0.6" />
<line x1="588.9" y1="787.9" x2="591.9" y2="787.9" stroke="#222" stroke-width="0.6" />
<line x1="588.9" y1="789.3" x2="591.9" y2="789.3" stroke="#222" stroke-width="0.6" />
<line x1="588.0" y1="800.8" x2="588.0" y2="803.4" stroke="#111" stroke-width="0.9" />
<text transform="translate(589.6,808.2) rotate(-45)" font-size="6.2" text-anchor="end" textLength="23.5" fill="#222" stroke-width="0.15">HDAC11</text>
<rect x="600.2" y="789.1" width="4.3" height="11.6" fill="#4fa8b1" stroke="#151515" stroke-width="0.9" />
<line x1="602.4" y1="788.7" x2="602.4" y2="789.6" stroke="#222" stroke-width="0.6" />
<line x1="600.9" y1="788.7" x2="603.9" y2="788.7" stroke="#222" stroke-width="0.6" />
<line x1="600.9" y1="789.6" x2="603.9" y2="789.6" stroke="#222" stroke-width="0.6" />
<rect x="605.0" y="781.6" width="4.3" height="19.2" fill="#fd2411" stroke="#151515" stroke-width="0.9" />
<line x1="607.1" y1="781.1" x2="607.1" y2="782.0" stroke="#222" stroke-width="0.6" />
<line x1="605.6" y1="781.1" x2="608.6" y2="781.1" stroke="#222" stroke-width="0.6" />
<line x1="605.6" y1="782.0" x2="608.6" y2="782.0" stroke="#222" stroke-width="0.6" />
<line x1="604.8" y1="800.8" x2="604.8" y2="803.4" stroke="#111" stroke-width="0.9" />
<text transform="translate(606.4,808.2) rotate(-45)" font-size="6.2" text-anchor="end" textLength="15.2" fill="#222" stroke-width="0.15">sirT1</text>
<rect x="616.9" y="783.9" width="4.3" height="16.9" fill="#4fa8b1" stroke="#151515" stroke-width="0.9" />
<line x1="619.0" y1="783.3" x2="619.0" y2="784.5" stroke="#222" stroke-width="0.6" />
<line x1="617.5" y1="783.3" x2="620.5" y2="783.3" stroke="#222" stroke-width="0.6" />
<line x1="617.5" y1="784.5" x2="620.5" y2="784.5" stroke="#222" stroke-width="0.6" />
<rect x="621.7" y="789.1" width="4.3" height="11.6" fill="#fd2411" stroke="#151515" stroke-width="0.9" />
<line x1="623.8" y1="788.8" x2="623.8" y2="789.5" stroke="#222" stroke-width="0.6" />
<line x1="622.3" y1="788.8" x2="625.3" y2="788.8" stroke="#222" stroke-width="0.6" />
<line x1="622.3" y1="789.5" x2="625.3" y2="789.5" stroke="#222" stroke-width="0.6" />
<line x1="621.4" y1="800.8" x2="621.4" y2="803.4" stroke="#111" stroke-width="0.9" />
<text transform="translate(623.0,808.2) rotate(-45)" font-size="6.2" text-anchor="end" textLength="15.2" fill="#222" stroke-width="0.15">sirT2</text>
<rect x="633.6" y="789.1" width="4.3" height="11.6" fill="#4fa8b1" stroke="#151515" stroke-width="0.9" />
<line x1="635.8" y1="786.2" x2="635.8" y2="792.1" stroke="#222" stroke-width="0.6" />
<line x1="634.2" y1="786.2" x2="637.2" y2="786.2" stroke="#222" stroke-width="0.6" />
<line x1="634.2" y1="792.1" x2="637.2" y2="792.1" stroke="#222" stroke-width="0.6" />
<rect x="638.4" y="727.6" width="4.3" height="73.2" fill="#fd2411" stroke="#151515" stroke-width="0.9" />
<line x1="640.5" y1="725.3" x2="640.5" y2="730.0" stroke="#222" stroke-width="0.6" />
<line x1="639.0" y1="725.3" x2="642.0" y2="725.3" stroke="#222" stroke-width="0.6" />
<line x1="639.0" y1="730.0" x2="642.0" y2="730.0" stroke="#222" stroke-width="0.6" />
<line x1="638.1" y1="800.8" x2="638.1" y2="803.4" stroke="#111" stroke-width="0.9" />
<text transform="translate(639.8,808.2) rotate(-45)" font-size="6.2" text-anchor="end" textLength="15.2" fill="#222" stroke-width="0.15">sirT3</text>
<rect x="650.3" y="789.1" width="4.3" height="11.6" fill="#4fa8b1" stroke="#151515" stroke-width="0.9" />
<line x1="652.4" y1="788.8" x2="652.4" y2="789.5" stroke="#222" stroke-width="0.6" />
<line x1="650.9" y1="788.8" x2="653.9" y2="788.8" stroke="#222" stroke-width="0.6" />
<line x1="650.9" y1="789.5" x2="653.9" y2="789.5" stroke="#222" stroke-width="0.6" />
<rect x="655.1" y="696.6" width="4.3" height="104.2" fill="#fd2411" stroke="#151515" stroke-width="0.9" />
<line x1="657.2" y1="696.2" x2="657.2" y2="697.1" stroke="#222" stroke-width="0.6" />
<line x1="655.7" y1="696.2" x2="658.7" y2="696.2" stroke="#222" stroke-width="0.6" />
<line x1="655.7" y1="697.1" x2="658.7" y2="697.1" stroke="#222" stroke-width="0.6" />
<line x1="654.8" y1="800.8" x2="654.8" y2="803.4" stroke="#111" stroke-width="0.9" />
<text transform="translate(656.4,808.2) rotate(-45)" font-size="6.2" text-anchor="end" textLength="15.2" fill="#222" stroke-width="0.15">sirT4</text>
<rect x="667.0" y="789.1" width="4.3" height="11.6" fill="#4fa8b1" stroke="#151515" stroke-width="0.9" />
<line x1="669.1" y1="788.5" x2="669.1" y2="789.8" stroke="#222" stroke-width="0.6" />
<line x1="667.6" y1="788.5" x2="670.6" y2="788.5" stroke="#222" stroke-width="0.6" />
<line x1="667.6" y1="789.8" x2="670.6" y2="789.8" stroke="#222" stroke-width="0.6" />
<rect x="671.8" y="789.1" width="4.3" height="11.6" fill="#fd2411" stroke="#151515" stroke-width="0.9" />
<line x1="673.9" y1="788.0" x2="673.9" y2="790.3" stroke="#222" stroke-width="0.6" />
<line x1="672.4" y1="788.0" x2="675.4" y2="788.0" stroke="#222" stroke-width="0.6" />
<line x1="672.4" y1="790.3" x2="675.4" y2="790.3" stroke="#222" stroke-width="0.6" />
<line x1="671.5" y1="800.8" x2="671.5" y2="803.4" stroke="#111" stroke-width="0.9" />
<text transform="translate(673.1,808.2) rotate(-45)" font-size="6.2" text-anchor="end" textLength="15.2" fill="#222" stroke-width="0.15">SirT7</text>
<text x="404.8" y="705.5" font-size="7.4" text-anchor="middle" letter-spacing="0.2" >**</text>
<text x="437.4" y="773.8" font-size="7.4" text-anchor="middle" letter-spacing="0.2" >**</text>
<text x="454.7" y="780.0" font-size="7.4" text-anchor="middle" letter-spacing="0.2" >*</text>
<text x="471.8" y="772.8" font-size="7.4" text-anchor="middle" letter-spacing="0.2" >**</text>
<text x="488.6" y="766.2" font-size="7.4" text-anchor="middle" letter-spacing="0.2" >**</text>
<text x="555.0" y="760.5" font-size="7.4" text-anchor="middle" letter-spacing="0.2" >***</text>
<text x="571.8" y="784.5" font-size="7.4" text-anchor="middle" letter-spacing="0.2" >*</text>
<text x="604.2" y="780.2" font-size="7.4" text-anchor="middle" letter-spacing="0.2" >**</text>
<text x="622.4" y="782.8" font-size="7.4" text-anchor="middle" letter-spacing="0.2" >**</text>
<text x="639.5" y="722.3" font-size="7.4" text-anchor="middle" letter-spacing="0.2" >***</text>
<text x="654.2" y="696.1" font-size="7.4" text-anchor="middle" letter-spacing="0.2" >****</text>
<rect x="404.5" y="679.6" width="11.5" height="3.2" fill="#4fa8b1" stroke="#111" stroke-width="0.8" />
<rect x="404.5" y="688.9" width="11.5" height="3.3" fill="#fd2411" stroke="#111" stroke-width="0.8" />
<text x="420.3" y="683.4" font-size="7.3" font-weight="bold" stroke-width="0.1" textLength="38.2" >EPAS1-NC</text>
<text x="420.3" y="693.1" font-size="7.3" font-weight="bold" stroke-width="0.1" textLength="38.4" >EPAS1-OE</text>
<text transform="translate(367.8,804.3) rotate(-90)" font-size="7.9" font-weight="bold" stroke-width="0.1" textLength="110.4" >Relative Expression of mRNA</text>
<text x="5.0" y="848.0" font-size="14.8" font-weight="bold" stroke-width="0.1" >J</text>
<rect x="63.9" y="859.8" width="423.8" height="66.6" fill="#f4f4f4" />
<rect x="63.9" y="914.6" width="423.8" height="3.0" fill="#cdcdcd" />
<rect x="63.9" y="917.6" width="423.8" height="8.8" fill="#fafafa" />
<line x1="63.9" y1="884.3" x2="487.7" y2="884.3" stroke="#9d9df0" stroke-width="0.7" />
<line x1="63.9" y1="909.8" x2="487.7" y2="909.8" stroke="#9d9df0" stroke-width="0.7" />
<text x="240.9" y="855.6" font-size="8.3" font-weight="bold" stroke-width="0.1" textLength="77.0"><tspan font-style="italic">HDAC2</tspan>  in  EPAS1</text>
<text x="24.5" y="886.3" font-size="6.6" textLength="35.0" stroke-width="0.3">EPAS1-IP</text>
<text x="24.5" y="912.9" font-size="6.6" textLength="41.2" stroke-width="0.3">EPAS1-IgG</text>
<path d="M69.0,884.6v-1.0h0.8v1.0zM69.8,884.6v-1.4h0.8v1.4zM70.6,884.6v-1.7h0.8v1.7zM71.4,884.6v-1.0h0.8v1.0zM72.2,884.6v-1.0h0.8v1.0zM78.6,884.6v-1.1h0.8v1.1zM79.4,884.6v-2.8h0.8v2.8zM80.2,884.6v-2.7h0.8v2.7zM81.0,884.6v-3.4h0.8v3.4zM81.8,884.6v-5.9h0.8v5.9zM82.6,884.6v-5.2h0.8v5.2zM83.4,884.6v-6.4h0.8v6.4zM84.2,884.6v-4.7h0.8v4.7zM85.0,884.6v-4.4h0.8v4.4zM85.8,884.6v-2.7h0.8v2.7zM86.6,884.6v-2.7h0.8v2.7zM87.4,884.6v-2.0h0.8v2.0zM88.2,884.6v-1.6h0.8v1.6zM90.5,884.6v-2.5h0.8v2.5zM91.3,884.6v-2.5h0.8v2.5zM92.1,884.6v-2.9h0.8v2.9zM92.9,884.6v-6.1h0.8v6.1zM93.7,884.6v-7.0h0.8v7.0zM94.5,884.6v-6.9h0.8v6.9zM95.3,884.6v-5.4h0.8v5.4zM96.1,884.6v-7.1h0.8v7.1zM96.9,884.6v-4.4h0.8v4.4zM97.7,884.6v-3.3h0.8v3.3zM97.3,884.6v-5.9h0.8v5.9zM98.1,884.6v-11.3h0.8v11.3zM98.9,884.6v-19.5h0.8v19.5zM99.7,884.6v-14.0h0.8v14.0zM100.5,884.6v-10.5h0.8v10.5zM100.8,884.6v-2.9h0.8v2.9zM101.6,884.6v-4.9h0.8v4.9zM102.4,884.6v-5.9h0.8v5.9zM103.2,884.6v-4.5h0.8v4.5zM104.0,884.6v-5.3h0.8v5.3zM104.8,884.6v-6.2h0.8v6.2zM105.6,884.6v-8.7h0.8v8.7zM106.4,884.6v-6.0h0.8v6.0zM107.2,884.6v-5.7h0.8v5.7zM108.0,884.6v-3.9h0.8v3.9zM108.8,884.6v-3.4h0.8v3.4zM109.6,884.6v-2.2h0.8v2.2zM110.4,884.6v-1.9h0.8v1.9zM111.2,884.6v-2.2h0.8v2.2zM113.0,884.6v-1.0h0.8v1.0zM113.8,884.6v-1.2h0.8v1.2zM114.6,884.6v-2.1h0.8v2.1zM115.4,884.6v-2.7h0.8v2.7zM116.2,884.6v-3.5h0.8v3.5zM117.0,884.6v-3.0h0.8v3.0zM117.8,884.6v-1.8h0.8v1.8zM118.6,884.6v-2.0h0.8v2.0zM119.4,884.6v-1.3h0.8v1.3zM121.0,884.6v-1.5h0.8v1.5zM121.8,884.6v-1.7h0.8v1.7zM122.6,884.6v-1.2h0.8v1.2zM123.4,884.6v-1.8h0.8v1.8zM124.2,884.6v-1.9h0.8v1.9zM125.0,884.6v-2.1h0.8v2.1zM125.8,884.6v-2.2h0.8v2.2zM126.6,884.6v-4.2h0.8v4.2zM127.4,884.6v-5.1h0.8v5.1zM128.2,884.6v-3.5h0.8v3.5zM129.0,884.6v-5.7h0.8v5.7zM129.8,884.6v-5.0h0.8v5.0zM130.6,884.6v-4.1h0.8v4.1zM131.4,884.6v-4.1h0.8v4.1zM132.2,884.6v-4.8h0.8v4.8zM133.0,884.6v-4.4h0.8v4.4zM133.8,884.6v-2.3h0.8v2.3zM133.9,884.6v-2.4h0.8v2.4zM134.7,884.6v-1.7h0.8v1.7zM135.5,884.6v-2.7h0.8v2.7zM136.3,884.6v-2.9h0.8v2.9zM137.1,884.6v-4.9h0.8v4.9zM137.9,884.6v-6.1h0.8v6.1zM138.7,884.6v-5.5h0.8v5.5zM139.5,884.6v-7.9h0.8v7.9zM140.3,884.6v-6.2h0.8v6.2zM141.1,884.6v-5.8h0.8v5.8zM141.9,884.6v-8.4h0.8v8.4zM142.7,884.6v-5.6h0.8v5.6zM143.5,884.6v-5.8h0.8v5.8zM144.3,884.6v-6.0h0.8v6.0zM145.1,884.6v-5.9h0.8v5.9zM145.9,884.6v-3.9h0.8v3.9zM146.7,884.6v-3.1h0.8v3.1zM147.5,884.6v-4.0h0.8v4.0zM148.3,884.6v-2.2h0.8v2.2zM151.5,884.6v-8.9h0.8v8.9zM152.3,884.6v-9.7h0.8v9.7zM153.1,884.6v-8.2h0.8v8.2zM153.9,884.6v-9.3h0.8v9.3zM154.7,884.6v-10.3h0.8v10.3zM155.5,884.6v-11.4h0.8v11.4zM156.3,884.6v-10.5h0.8v10.5zM157.1,884.6v-9.5h0.8v9.5zM157.9,884.6v-9.0h0.8v9.0zM158.7,884.6v-9.5h0.8v9.5zM159.5,884.6v-6.8h0.8v6.8zM160.3,884.6v-5.6h0.8v5.6zM161.1,884.6v-5.5h0.8v5.5zM161.9,884.6v-3.4h0.8v3.4zM162.7,884.6v-2.7h0.8v2.7zM163.5,884.6v-3.7h0.8v3.7zM164.3,884.6v-3.0h0.8v3.0zM165.1,884.6v-3.0h0.8v3.0zM165.9,884.6v-2.2h0.8v2.2zM166.7,884.6v-2.8h0.8v2.8zM167.5,884.6v-3.1h0.8v3.1zM170.8,884.6v-1.4h0.8v1.4zM171.6,884.6v-2.1h0.8v2.1zM172.4,884.6v-2.1h0.8v2.1zM173.2,884.6v-1.5h0.8v1.5zM174.0,884.6v-2.1h0.8v2.1zM174.8,884.6v-2.5h0.8v2.5zM175.6,884.6v-3.4h0.8v3.4zM176.4,884.6v-3.4h0.8v3.4zM177.2,884.6v-4.7h0.8v4.7zM178.0,884.6v-5.3h0.8v5.3zM178.8,884.6v-3.9h0.8v3.9zM179.6,884.6v-4.3h0.8v4.3zM180.4,884.6v-6.7h0.8v6.7zM181.2,884.6v-8.2h0.8v8.2zM182.0,884.6v-5.9h0.8v5.9zM182.8,884.6v-6.4h0.8v6.4zM183.6,884.6v-6.5h0.8v6.5zM184.4,884.6v-5.2h0.8v5.2zM185.2,884.6v-4.9h0.8v4.9zM186.0,884.6v-4.3h0.8v4.3zM186.8,884.6v-4.0h0.8v4.0zM187.6,884.6v-3.9h0.8v3.9zM188.4,884.6v-2.8h0.8v2.8zM190.1,884.6v-2.0h0.8v2.0zM190.9,884.6v-1.6h0.8v1.6zM191.7,884.6v-2.6h0.8v2.6zM192.5,884.6v-3.3h0.8v3.3zM193.3,884.6v-3.0h0.8v3.0zM194.1,884.6v-3.1h0.8v3.1zM194.9,884.6v-4.8h0.8v4.8zM195.7,884.6v-3.8h0.8v3.8zM196.5,884.6v-4.0h0.8v4.0zM197.3,884.6v-4.9h0.8v4.9zM198.1,884.6v-6.0h0.8v6.0zM198.9,884.6v-4.4h0.8v4.4zM199.7,884.6v-5.2h0.8v5.2zM200.5,884.6v-5.0h0.8v5.0zM201.3,884.6v-6.2h0.8v6.2zM202.1,884.6v-4.8h0.8v4.8zM202.9,884.6v-5.5h0.8v5.5zM203.7,884.6v-3.5h0.8v3.5zM204.5,884.6v-3.6h0.8v3.6zM205.3,884.6v-3.8h0.8v3.8zM206.1,884.6v-3.8h0.8v3.8zM206.9,884.6v-2.7h0.8v2.7zM207.7,884.6v-2.0h0.8v2.0zM208.5,884.6v-1.5h0.8v1.5zM209.3,884.6v-1.7h0.8v1.7zM210.1,884.6v-1.4h0.8v1.4zM210.9,884.6v-1.9h0.8v1.9zM210.9,884.6v-3.2h0.8v3.2zM211.7,884.6v-2.2h0.8v2.2zM212.5,884.6v-3.2h0.8v3.2zM213.3,884.6v-6.0h0.8v6.0zM214.1,884.6v-7.0h0.8v7.0zM214.9,884.6v-9.0h0.8v9.0zM215.7,884.6v-8.1h0.8v8.1zM216.5,884.6v-7.5h0.8v7.5zM217.3,884.6v-7.5h0.8v7.5zM218.1,884.6v-8.5h0.8v8.5zM218.9,884.6v-5.2h0.8v5.2zM219.7,884.6v-4.2h0.8v4.2zM220.5,884.6v-3.0h0.8v3.0zM220.6,884.6v-3.6h0.8v3.6zM221.4,884.6v-4.4h0.8v4.4zM222.2,884.6v-6.6h0.8v6.6zM223.0,884.6v-5.0h0.8v5.0zM223.8,884.6v-5.0h0.8v5.0zM224.6,884.6v-9.5h0.8v9.5zM225.4,884.6v-10.0h0.8v10.0zM226.2,884.6v-11.4h0.8v11.4zM227.0,884.6v-9.2h0.8v9.2zM227.8,884.6v-12.6h0.8v12.6zM228.6,884.6v-13.1h0.8v13.1zM229.4,884.6v-8.6h0.8v8.6zM230.2,884.6v-10.9h0.8v10.9zM231.0,884.6v-10.7h0.8v10.7zM231.8,884.6v-9.1h0.8v9.1zM232.6,884.6v-7.7h0.8v7.7zM233.4,884.6v-6.1h0.8v6.1zM234.2,884.6v-5.7h0.8v5.7zM235.0,884.6v-4.6h0.8v4.6zM235.8,884.6v-3.6h0.8v3.6zM236.6,884.6v-4.0h0.8v4.0zM237.4,884.6v-2.7h0.8v2.7zM238.2,884.6v-3.5h0.8v3.5zM239.0,884.6v-2.2h0.8v2.2zM239.8,884.6v-3.6h0.8v3.6zM239.8,884.6v-2.5h0.8v2.5zM240.6,884.6v-2.7h0.8v2.7zM241.4,884.6v-3.1h0.8v3.1zM242.2,884.6v-3.6h0.8v3.6zM243.0,884.6v-3.6h0.8v3.6zM243.8,884.6v-2.9h0.8v2.9zM244.6,884.6v-4.9h0.8v4.9zM245.4,884.6v-3.9h0.8v3.9zM246.2,884.6v-4.6h0.8v4.6zM247.0,884.6v-6.1h0.8v6.1zM247.8,884.6v-6.1h0.8v6.1zM248.6,884.6v-6.1h0.8v6.1zM249.4,884.6v-8.3h0.8v8.3zM250.2,884.6v-7.5h0.8v7.5zM251.0,884.6v-6.8h0.8v6.8zM251.8,884.6v-6.7h0.8v6.7zM252.6,884.6v-9.5h0.8v9.5zM253.4,884.6v-7.6h0.8v7.6zM254.2,884.6v-8.6h0.8v8.6zM255.0,884.6v-6.5h0.8v6.5zM255.8,884.6v-5.7h0.8v5.7zM256.6,884.6v-6.5h0.8v6.5zM257.4,884.6v-7.1h0.8v7.1zM258.2,884.6v-4.6h0.8v4.6zM259.0,884.6v-6.0h0.8v6.0zM259.8,884.6v-5.9h0.8v5.9zM260.6,884.6v-5.1h0.8v5.1zM261.4,884.6v-4.6h0.8v4.6zM262.2,884.6v-2.6h0.8v2.6zM263.0,884.6v-3.3h0.8v3.3zM263.8,884.6v-3.1h0.8v3.1zM264.6,884.6v-1.7h0.8v1.7zM265.4,884.6v-1.9h0.8v1.9zM268.1,884.6v-3.1h0.8v3.1zM268.9,884.6v-5.3h0.8v5.3zM269.7,884.6v-6.6h0.8v6.6zM270.5,884.6v-8.3h0.8v8.3zM271.3,884.6v-11.2h0.8v11.2zM272.1,884.6v-7.6h0.8v7.6zM272.9,884.6v-7.0h0.8v7.0zM273.7,884.6v-6.3h0.8v6.3zM274.5,884.6v-5.0h0.8v5.0zM275.3,884.6v-3.6h0.8v3.6zM276.1,884.6v-3.7h0.8v3.7zM276.9,884.6v-3.5h0.8v3.5zM270.0,884.6v-4.6h0.8v4.6zM270.8,884.6v-7.3h0.8v7.3zM271.6,884.6v-7.6h0.8v7.6zM272.4,884.6v-8.4h0.8v8.4zM273.2,884.6v-8.2h0.8v8.2zM274.0,884.6v-8.4h0.8v8.4zM274.8,884.6v-6.8h0.8v6.8zM275.6,884.6v-4.8h0.8v4.8zM276.4,884.6v-3.1h0.8v3.1zM277.2,884.6v-2.4h0.8v2.4zM278.0,884.6v-2.1h0.8v2.1zM278.8,884.6v-2.8h0.8v2.8zM279.6,884.6v-3.0h0.8v3.0zM284.5,884.6v-1.3h0.8v1.3zM285.3,884.6v-1.8h0.8v1.8zM286.1,884.6v-2.5h0.8v2.5zM286.9,884.6v-3.3h0.8v3.3zM287.7,884.6v-4.1h0.8v4.1zM288.5,884.6v-3.8h0.8v3.8zM289.3,884.6v-5.2h0.8v5.2zM290.1,884.6v-5.2h0.8v5.2zM290.9,884.6v-5.0h0.8v5.0zM291.7,884.6v-5.2h0.8v5.2zM292.5,884.6v-5.8h0.8v5.8zM293.3,884.6v-6.2h0.8v6.2zM294.1,884.6v-5.0h0.8v5.0zM294.9,884.6v-5.4h0.8v5.4zM295.7,884.6v-4.3h0.8v4.3zM296.5,884.6v-3.5h0.8v3.5zM297.3,884.6v-3.6h0.8v3.6zM298.1,884.6v-3.5h0.8v3.5zM298.9,884.6v-2.0h0.8v2.0zM299.7,884.6v-2.1h0.8v2.1zM300.5,884.6v-1.6h0.8v1.6zM301.3,884.6v-2.0h0.8v2.0zM302.1,884.6v-2.0h0.8v2.0zM303.7,884.6v-3.3h0.8v3.3zM304.5,884.6v-5.1h0.8v5.1zM305.3,884.6v-5.6h0.8v5.6zM306.1,884.6v-4.7h0.8v4.7zM306.9,884.6v-5.9h0.8v5.9zM307.7,884.6v-5.2h0.8v5.2zM308.5,884.6v-8.1h0.8v8.1zM309.3,884.6v-7.1h0.8v7.1zM310.1,884.6v-7.3h0.8v7.3zM310.9,884.6v-6.3h0.8v6.3zM311.7,884.6v-5.3h0.8v5.3zM312.5,884.6v-4.7h0.8v4.7zM313.3,884.6v-3.7h0.8v3.7zM314.1,884.6v-2.2h0.8v2.2zM314.9,884.6v-2.2h0.8v2.2zM315.7,884.6v-1.4h0.8v1.4zM316.5,884.6v-1.6h0.8v1.6zM317.3,884.6v-2.2h0.8v2.2zM318.1,884.6v-1.4h0.8v1.4zM318.2,884.6v-1.5h0.8v1.5zM319.0,884.6v-1.5h0.8v1.5zM319.8,884.6v-2.8h0.8v2.8zM320.6,884.6v-2.6h0.8v2.6zM321.4,884.6v-2.9h0.8v2.9zM322.2,884.6v-5.5h0.8v5.5zM323.0,884.6v-4.2h0.8v4.2zM323.8,884.6v-7.1h0.8v7.1zM324.6,884.6v-7.1h0.8v7.1zM325.4,884.6v-8.1h0.8v8.1zM326.2,884.6v-7.9h0.8v7.9zM327.0,884.6v-6.0h0.8v6.0zM327.8,884.6v-5.9h0.8v5.9zM328.6,884.6v-3.3h0.8v3.3zM329.4,884.6v-4.2h0.8v4.2zM330.2,884.6v-2.9h0.8v2.9zM331.0,884.6v-2.3h0.8v2.3zM334.2,884.6v-2.8h0.8v2.8zM335.0,884.6v-3.6h0.8v3.6zM335.8,884.6v-2.5h0.8v2.5zM336.6,884.6v-3.4h0.8v3.4zM337.4,884.6v-4.3h0.8v4.3zM338.2,884.6v-5.3h0.8v5.3zM339.0,884.6v-4.1h0.8v4.1zM339.8,884.6v-4.1h0.8v4.1zM340.6,884.6v-4.1h0.8v4.1zM341.4,884.6v-4.7h0.8v4.7zM342.2,884.6v-4.6h0.8v4.6zM343.0,884.6v-3.4h0.8v3.4zM343.8,884.6v-3.0h0.8v3.0zM344.6,884.6v-2.7h0.8v2.7zM345.4,884.6v-2.2h0.8v2.2zM346.2,884.6v-1.8h0.8v1.8zM347.0,884.6v-1.1h0.8v1.1zM347.8,884.6v-1.4h0.8v1.4zM348.6,884.6v-1.8h0.8v1.8zM349.4,884.6v-1.3h0.8v1.3zM350.2,884.6v-1.6h0.8v1.6zM350.3,884.6v-2.4h0.8v2.4zM351.1,884.6v-3.0h0.8v3.0zM351.9,884.6v-3.4h0.8v3.4zM352.7,884.6v-3.5h0.8v3.5zM353.5,884.6v-3.9h0.8v3.9zM354.3,884.6v-4.6h0.8v4.6zM355.1,884.6v-5.6h0.8v5.6zM355.9,884.6v-3.8h0.8v3.8zM356.7,884.6v-3.4h0.8v3.4zM357.5,884.6v-4.5h0.8v4.5zM358.3,884.6v-4.4h0.8v4.4zM359.1,884.6v-3.2h0.8v3.2zM359.9,884.6v-2.6h0.8v2.6zM360.7,884.6v-2.5h0.8v2.5zM361.5,884.6v-1.5h0.8v1.5zM362.3,884.6v-1.2h0.8v1.2zM363.1,884.6v-1.1h0.8v1.1zM363.9,884.6v-1.4h0.8v1.4zM364.7,884.6v-1.2h0.8v1.2zM374.4,884.6v-1.9h0.8v1.9zM375.2,884.6v-2.8h0.8v2.8zM376.0,884.6v-2.5h0.8v2.5zM376.8,884.6v-3.6h0.8v3.6zM377.6,884.6v-3.5h0.8v3.5zM378.4,884.6v-4.9h0.8v4.9zM379.2,884.6v-4.3h0.8v4.3zM380.0,884.6v-3.2h0.8v3.2zM380.8,884.6v-2.8h0.8v2.8zM381.6,884.6v-2.1h0.8v2.1zM382.4,884.6v-2.2h0.8v2.2zM383.2,884.6v-1.6h0.8v1.6zM384.0,884.6v-1.0h0.8v1.0zM384.8,884.6v-1.1h0.8v1.1zM385.6,884.6v-1.1h0.8v1.1zM390.4,884.6v-1.0h0.8v1.0zM391.2,884.6v-1.5h0.8v1.5zM392.0,884.6v-1.5h0.8v1.5zM392.8,884.6v-2.4h0.8v2.4zM393.6,884.6v-3.0h0.8v3.0zM394.4,884.6v-4.4h0.8v4.4zM395.2,884.6v-4.9h0.8v4.9zM396.0,884.6v-3.9h0.8v3.9zM396.8,884.6v-3.2h0.8v3.2zM397.6,884.6v-2.8h0.8v2.8zM398.4,884.6v-2.1h0.8v2.1zM398.5,884.6v-1.1h0.8v1.1zM399.3,884.6v-1.7h0.8v1.7zM400.1,884.6v-1.7h0.8v1.7zM400.9,884.6v-1.8h0.8v1.8zM401.7,884.6v-2.1h0.8v2.1zM402.5,884.6v-3.1h0.8v3.1zM403.3,884.6v-3.4h0.8v3.4zM404.1,884.6v-4.2h0.8v4.2zM404.9,884.6v-4.0h0.8v4.0zM405.7,884.6v-2.6h0.8v2.6zM406.5,884.6v-2.3h0.8v2.3zM407.3,884.6v-2.1h0.8v2.1zM408.1,884.6v-1.7h0.8v1.7zM408.9,884.6v-1.8h0.8v1.8zM409.7,884.6v-1.5h0.8v1.5zM410.5,884.6v-1.2h0.8v1.2zM411.3,884.6v-1.0h0.8v1.0zM411.3,884.6v-3.2h0.8v3.2zM412.1,884.6v-2.4h0.8v2.4zM412.9,884.6v-3.3h0.8v3.3zM413.7,884.6v-4.6h0.8v4.6zM414.5,884.6v-3.7h0.8v3.7zM415.3,884.6v-4.3h0.8v4.3zM416.1,884.6v-7.3h0.8v7.3zM416.9,884.6v-6.1h0.8v6.1zM417.7,884.6v-6.9h0.8v6.9zM418.5,884.6v-8.4h0.8v8.4zM419.3,884.6v-9.5h0.8v9.5zM420.1,884.6v-6.7h0.8v6.7zM420.9,884.6v-8.7h0.8v8.7zM421.7,884.6v-8.9h0.8v8.9zM422.5,884.6v-8.6h0.8v8.6zM423.3,884.6v-6.8h0.8v6.8zM424.1,884.6v-7.9h0.8v7.9zM424.9,884.6v-8.6h0.8v8.6zM425.7,884.6v-5.9h0.8v5.9zM426.5,884.6v-5.7h0.8v5.7zM427.3,884.6v-3.9h0.8v3.9zM428.1,884.6v-3.7h0.8v3.7zM428.9,884.6v-3.8h0.8v3.8zM429.7,884.6v-2.1h0.8v2.1zM430.5,884.6v-3.2h0.8v3.2zM432.2,884.6v-1.3h0.8v1.3zM433.0,884.6v-2.1h0.8v2.1zM433.8,884.6v-1.6h0.8v1.6zM434.6,884.6v-2.0h0.8v2.0zM435.4,884.6v-2.5h0.8v2.5zM436.2,884.6v-2.6h0.8v2.6zM437.0,884.6v-3.9h0.8v3.9zM437.8,884.6v-4.6h0.8v4.6zM438.6,884.6v-5.6h0.8v5.6zM439.4,884.6v-4.7h0.8v4.7zM440.2,884.6v-6.7h0.8v6.7zM441.0,884.6v-7.5h0.8v7.5zM441.8,884.6v-6.0h0.8v6.0zM442.6,884.6v-5.1h0.8v5.1zM443.4,884.6v-3.5h0.8v3.5zM444.2,884.6v-3.7h0.8v3.7zM445.0,884.6v-2.9h0.8v2.9zM445.0,884.6v-2.6h0.8v2.6zM445.8,884.6v-3.7h0.8v3.7zM446.6,884.6v-4.9h0.8v4.9zM447.4,884.6v-4.9h0.8v4.9zM448.2,884.6v-7.7h0.8v7.7zM449.0,884.6v-8.7h0.8v8.7zM449.8,884.6v-6.2h0.8v6.2zM450.6,884.6v-7.9h0.8v7.9zM451.4,884.6v-5.7h0.8v5.7zM452.2,884.6v-3.1h0.8v3.1zM453.0,884.6v-3.2h0.8v3.2zM453.7,884.6v-1.7h0.8v1.7zM454.5,884.6v-2.9h0.8v2.9zM455.3,884.6v-5.4h0.8v5.4zM456.1,884.6v-6.6h0.8v6.6zM456.9,884.6v-7.6h0.8v7.6zM457.7,884.6v-6.8h0.8v6.8zM458.5,884.6v-4.8h0.8v4.8zM459.3,884.6v-2.9h0.8v2.9zM460.1,884.6v-1.7h0.8v1.7zM460.1,884.6v-1.5h0.8v1.5zM460.9,884.6v-2.0h0.8v2.0zM461.7,884.6v-2.2h0.8v2.2zM462.5,884.6v-2.8h0.8v2.8zM463.3,884.6v-2.4h0.8v2.4zM464.1,884.6v-2.0h0.8v2.0zM464.9,884.6v-1.8h0.8v1.8zM465.7,884.6v-1.8h0.8v1.8zM466.5,884.6v-1.0h0.8v1.0zM467.3,884.6v-1.0h0.8v1.0zM468.1,884.6v-1.0h0.8v1.0zM468.9,884.6v-1.0h0.8v1.0zM473.9,884.6v-1.8h0.8v1.8zM474.7,884.6v-1.8h0.8v1.8zM475.5,884.6v-1.9h0.8v1.9zM476.3,884.6v-2.0h0.8v2.0zM477.1,884.6v-2.5h0.8v2.5zM477.9,884.6v-2.7h0.8v2.7zM478.7,884.6v-4.3h0.8v4.3zM479.5,884.6v-3.4h0.8v3.4zM480.3,884.6v-4.3h0.8v4.3zM481.1,884.6v-4.4h0.8v4.4zM481.9,884.6v-4.9h0.8v4.9zM482.7,884.6v-7.7h0.8v7.7zM483.5,884.6v-8.0h0.8v8.0zM484.3,884.6v-5.6h0.8v5.6zM485.1,884.6v-5.2h0.8v5.2zM485.9,884.6v-5.4h0.8v5.4zM486.7,884.6v-5.7h0.8v5.7zM487.5,884.6v-5.1h0.8v5.1zM488.3,884.6v-4.2h0.8v4.2zM98.0,884.6v-13.0h0.8v13.0zM98.6,884.6v-19.5h0.8v19.5zM99.2,884.6v-21.0h0.8v21.0zM99.8,884.6v-20.0h0.8v20.0zM100.4,884.6v-14.5h0.8v14.5zM101.0,884.6v-10.0h0.8v10.0z" fill="#1c1ccc"/>
<path d="M69.6,910.1v-1.6h0.8v1.6zM70.4,910.1v-1.6h0.8v1.6zM71.2,910.1v-5.2h0.8v5.2zM72.0,910.1v-5.2h0.8v5.2zM86.7,910.1v-1.6h0.8v1.6zM87.5,910.1v-1.6h0.8v1.6zM88.3,910.1v-2.6h0.8v2.6zM89.1,910.1v-2.6h0.8v2.6zM89.9,910.1v-2.6h0.8v2.6zM93.7,910.1v-1.6h0.8v1.6zM94.5,910.1v-1.6h0.8v1.6zM95.3,910.1v-1.6h0.8v1.6zM96.1,910.1v-2.6h0.8v2.6zM96.9,910.1v-2.6h0.8v2.6zM97.7,910.1v-2.6h0.8v2.6zM98.5,910.1v-2.6h0.8v2.6zM99.3,910.1v-2.6h0.8v2.6zM100.1,910.1v-2.6h0.8v2.6zM100.9,910.1v-1.6h0.8v1.6zM105.0,910.1v-1.6h0.8v1.6zM105.8,910.1v-1.6h0.8v1.6zM106.6,910.1v-1.6h0.8v1.6zM107.4,910.1v-3.9h0.8v3.9zM108.2,910.1v-3.9h0.8v3.9zM109.0,910.1v-3.9h0.8v3.9zM109.8,910.1v-3.9h0.8v3.9zM110.6,910.1v-1.6h0.8v1.6zM111.4,910.1v-1.6h0.8v1.6zM129.0,910.1v-7.8h0.8v7.8zM129.8,910.1v-7.8h0.8v7.8zM130.6,910.1v-6.5h0.8v6.5zM131.4,910.1v-6.5h0.8v6.5zM132.2,910.1v-6.5h0.8v6.5zM133.0,910.1v-11.7h0.8v11.7zM133.8,910.1v-11.7h0.8v11.7zM134.6,910.1v-11.7h0.8v11.7zM135.4,910.1v-11.7h0.8v11.7zM136.2,910.1v-11.7h0.8v11.7zM137.0,910.1v-11.7h0.8v11.7zM137.8,910.1v-7.8h0.8v7.8zM138.6,910.1v-7.8h0.8v7.8zM139.4,910.1v-7.8h0.8v7.8zM140.2,910.1v-6.5h0.8v6.5zM141.0,910.1v-6.5h0.8v6.5zM141.8,910.1v-6.5h0.8v6.5zM142.6,910.1v-2.6h0.8v2.6zM143.4,910.1v-2.6h0.8v2.6zM144.2,910.1v-2.6h0.8v2.6zM145.0,910.1v-3.9h0.8v3.9zM145.8,910.1v-3.9h0.8v3.9zM146.6,910.1v-3.9h0.8v3.9zM154.4,910.1v-3.9h0.8v3.9zM155.2,910.1v-3.9h0.8v3.9zM156.0,910.1v-3.9h0.8v3.9zM156.8,910.1v-6.5h0.8v6.5zM157.6,910.1v-6.5h0.8v6.5zM162.8,910.1v-1.6h0.8v1.6zM163.6,910.1v-1.6h0.8v1.6zM164.4,910.1v-1.6h0.8v1.6zM165.2,910.1v-2.6h0.8v2.6zM166.0,910.1v-2.6h0.8v2.6zM166.8,910.1v-2.6h0.8v2.6zM167.6,910.1v-2.6h0.8v2.6zM168.4,910.1v-2.6h0.8v2.6zM169.2,910.1v-3.9h0.8v3.9zM170.0,910.1v-3.9h0.8v3.9zM170.8,910.1v-3.9h0.8v3.9zM171.6,910.1v-6.5h0.8v6.5zM172.4,910.1v-6.5h0.8v6.5zM173.2,910.1v-6.5h0.8v6.5zM174.0,910.1v-6.5h0.8v6.5zM174.8,910.1v-5.2h0.8v5.2zM175.6,910.1v-5.2h0.8v5.2zM176.4,910.1v-5.2h0.8v5.2zM177.2,910.1v-3.9h0.8v3.9zM178.0,910.1v-3.9h0.8v3.9zM178.8,910.1v-3.9h0.8v3.9zM180.4,910.1v-1.6h0.8v1.6zM181.2,910.1v-1.6h0.8v1.6zM182.0,910.1v-2.6h0.8v2.6zM182.8,910.1v-2.6h0.8v2.6zM183.6,910.1v-2.6h0.8v2.6zM193.9,910.1v-2.6h0.8v2.6zM194.7,910.1v-2.6h0.8v2.6zM195.5,910.1v-2.6h0.8v2.6zM196.3,910.1v-2.6h0.8v2.6zM197.1,910.1v-5.2h0.8v5.2zM198.7,910.1v-1.6h0.8v1.6zM199.5,910.1v-1.6h0.8v1.6zM200.3,910.1v-1.6h0.8v1.6zM201.1,910.1v-1.6h0.8v1.6zM201.9,910.1v-1.6h0.8v1.6zM202.7,910.1v-1.6h0.8v1.6zM203.5,910.1v-1.6h0.8v1.6zM204.3,910.1v-1.6h0.8v1.6zM205.1,910.1v-1.6h0.8v1.6zM208.0,910.1v-2.6h0.8v2.6zM208.8,910.1v-2.6h0.8v2.6zM209.6,910.1v-2.6h0.8v2.6zM210.4,910.1v-3.9h0.8v3.9zM211.2,910.1v-3.9h0.8v3.9zM215.7,910.1v-3.9h0.8v3.9zM216.5,910.1v-3.9h0.8v3.9zM217.3,910.1v-3.9h0.8v3.9zM218.1,910.1v-10.4h0.8v10.4zM218.9,910.1v-10.4h0.8v10.4zM219.7,910.1v-5.2h0.8v5.2zM220.5,910.1v-5.2h0.8v5.2zM220.6,910.1v-3.9h0.8v3.9zM221.4,910.1v-3.9h0.8v3.9zM222.2,910.1v-3.9h0.8v3.9zM223.0,910.1v-5.2h0.8v5.2zM223.8,910.1v-5.2h0.8v5.2zM224.6,910.1v-5.2h0.8v5.2zM225.4,910.1v-3.9h0.8v3.9zM226.2,910.1v-3.9h0.8v3.9zM227.0,910.1v-6.5h0.8v6.5zM227.8,910.1v-6.5h0.8v6.5zM228.6,910.1v-6.5h0.8v6.5zM229.4,910.1v-9.1h0.8v9.1zM230.2,910.1v-9.1h0.8v9.1zM231.0,910.1v-13.0h0.8v13.0zM231.8,910.1v-13.0h0.8v13.0zM232.6,910.1v-13.0h0.8v13.0zM233.4,910.1v-18.2h0.8v18.2zM234.2,910.1v-18.2h0.8v18.2zM235.0,910.1v-18.2h0.8v18.2zM235.8,910.1v-13.0h0.8v13.0zM236.6,910.1v-13.0h0.8v13.0zM239.8,910.1v-1.6h0.8v1.6zM240.6,910.1v-1.6h0.8v1.6zM241.4,910.1v-1.6h0.8v1.6zM242.2,910.1v-1.6h0.8v1.6zM243.0,910.1v-1.6h0.8v1.6zM243.8,910.1v-1.6h0.8v1.6zM244.6,910.1v-1.6h0.8v1.6zM245.4,910.1v-2.6h0.8v2.6zM246.2,910.1v-2.6h0.8v2.6zM247.0,910.1v-2.6h0.8v2.6zM247.8,910.1v-2.6h0.8v2.6zM248.6,910.1v-3.9h0.8v3.9zM249.4,910.1v-3.9h0.8v3.9zM250.2,910.1v-3.9h0.8v3.9zM251.0,910.1v-2.6h0.8v2.6zM251.8,910.1v-2.6h0.8v2.6zM252.6,910.1v-2.6h0.8v2.6zM255.9,910.1v-1.6h0.8v1.6zM256.7,910.1v-1.6h0.8v1.6zM257.5,910.1v-1.6h0.8v1.6zM258.3,910.1v-1.6h0.8v1.6zM259.1,910.1v-1.6h0.8v1.6zM259.9,910.1v-1.6h0.8v1.6zM260.7,910.1v-1.6h0.8v1.6zM261.5,910.1v-2.6h0.8v2.6zM262.3,910.1v-2.6h0.8v2.6zM263.1,910.1v-2.6h0.8v2.6zM263.9,910.1v-2.6h0.8v2.6zM264.7,910.1v-1.6h0.8v1.6zM265.5,910.1v-1.6h0.8v1.6zM270.3,910.1v-1.6h0.8v1.6zM271.1,910.1v-1.6h0.8v1.6zM271.9,910.1v-1.6h0.8v1.6zM272.7,910.1v-1.6h0.8v1.6zM273.5,910.1v-5.2h0.8v5.2zM274.3,910.1v-5.2h0.8v5.2zM275.1,910.1v-5.2h0.8v5.2zM270.0,910.1v-1.6h0.8v1.6zM270.8,910.1v-1.6h0.8v1.6zM271.6,910.1v-1.6h0.8v1.6zM272.4,910.1v-1.6h0.8v1.6zM273.2,910.1v-1.6h0.8v1.6zM279.6,910.1v-1.6h0.8v1.6zM280.4,910.1v-1.6h0.8v1.6zM281.2,910.1v-1.6h0.8v1.6zM282.0,910.1v-1.6h0.8v1.6zM282.8,910.1v-5.2h0.8v5.2zM283.6,910.1v-5.2h0.8v5.2zM284.4,910.1v-1.6h0.8v1.6zM284.5,910.1v-2.6h0.8v2.6zM285.3,910.1v-2.6h0.8v2.6zM286.1,910.1v-2.6h0.8v2.6zM286.9,910.1v-2.6h0.8v2.6zM287.7,910.1v-3.9h0.8v3.9zM288.5,910.1v-3.9h0.8v3.9zM289.3,910.1v-3.9h0.8v3.9zM290.1,910.1v-5.2h0.8v5.2zM290.9,910.1v-5.2h0.8v5.2zM291.7,910.1v-5.2h0.8v5.2zM292.5,910.1v-9.1h0.8v9.1zM293.3,910.1v-9.1h0.8v9.1zM294.1,910.1v-9.1h0.8v9.1zM294.9,910.1v-5.2h0.8v5.2zM295.7,910.1v-5.2h0.8v5.2zM295.7,910.1v-1.6h0.8v1.6zM296.5,910.1v-1.6h0.8v1.6zM297.3,910.1v-1.6h0.8v1.6zM298.1,910.1v-2.6h0.8v2.6zM298.9,910.1v-2.6h0.8v2.6zM299.7,910.1v-2.6h0.8v2.6zM300.5,910.1v-1.6h0.8v1.6zM306.9,910.1v-1.6h0.8v1.6zM307.7,910.1v-1.6h0.8v1.6zM308.5,910.1v-1.6h0.8v1.6zM309.3,910.1v-2.6h0.8v2.6zM310.1,910.1v-2.6h0.8v2.6zM310.9,910.1v-2.6h0.8v2.6zM311.7,910.1v-3.9h0.8v3.9zM312.5,910.1v-3.9h0.8v3.9zM313.3,910.1v-1.6h0.8v1.6zM313.4,910.1v-2.6h0.8v2.6zM314.2,910.1v-2.6h0.8v2.6zM315.0,910.1v-2.6h0.8v2.6zM315.8,910.1v-5.2h0.8v5.2zM316.6,910.1v-5.2h0.8v5.2zM317.4,910.1v-5.2h0.8v5.2zM318.2,910.1v-6.5h0.8v6.5zM319.0,910.1v-6.5h0.8v6.5zM319.8,910.1v-6.5h0.8v6.5zM320.6,910.1v-3.9h0.8v3.9zM321.4,910.1v-3.9h0.8v3.9zM322.2,910.1v-3.9h0.8v3.9zM323.0,910.1v-3.9h0.8v3.9zM323.0,910.1v-1.6h0.8v1.6zM323.8,910.1v-1.6h0.8v1.6zM324.6,910.1v-1.6h0.8v1.6zM325.4,910.1v-1.6h0.8v1.6zM326.2,910.1v-5.2h0.8v5.2zM327.0,910.1v-5.2h0.8v5.2zM327.8,910.1v-5.2h0.8v5.2zM328.6,910.1v-2.6h0.8v2.6zM329.4,910.1v-2.6h0.8v2.6zM330.2,910.1v-2.6h0.8v2.6zM331.0,910.1v-1.6h0.8v1.6zM332.6,910.1v-1.6h0.8v1.6zM333.4,910.1v-1.6h0.8v1.6zM334.2,910.1v-1.6h0.8v1.6zM335.0,910.1v-1.6h0.8v1.6zM335.8,910.1v-1.6h0.8v1.6zM336.6,910.1v-1.6h0.8v1.6zM337.4,910.1v-1.6h0.8v1.6zM343.9,910.1v-2.6h0.8v2.6zM344.7,910.1v-2.6h0.8v2.6zM345.5,910.1v-2.6h0.8v2.6zM346.3,910.1v-3.9h0.8v3.9zM347.1,910.1v-3.9h0.8v3.9zM347.9,910.1v-5.2h0.8v5.2zM348.7,910.1v-5.2h0.8v5.2zM349.5,910.1v-5.2h0.8v5.2zM350.3,910.1v-5.2h0.8v5.2zM351.1,910.1v-2.6h0.8v2.6zM351.9,910.1v-2.6h0.8v2.6zM352.7,910.1v-2.6h0.8v2.6zM353.5,910.1v-1.6h0.8v1.6zM353.5,910.1v-2.6h0.8v2.6zM354.3,910.1v-2.6h0.8v2.6zM355.1,910.1v-3.9h0.8v3.9zM355.9,910.1v-3.9h0.8v3.9zM356.7,910.1v-3.9h0.8v3.9zM357.5,910.1v-2.6h0.8v2.6zM358.3,910.1v-2.6h0.8v2.6zM359.1,910.1v-2.6h0.8v2.6zM359.9,910.1v-3.9h0.8v3.9zM360.7,910.1v-3.9h0.8v3.9zM361.5,910.1v-3.9h0.8v3.9zM362.3,910.1v-7.8h0.8v7.8zM363.1,910.1v-7.8h0.8v7.8zM363.9,910.1v-9.1h0.8v9.1zM364.7,910.1v-9.1h0.8v9.1zM365.5,910.1v-9.1h0.8v9.1zM366.3,910.1v-6.5h0.8v6.5zM367.9,910.1v-1.6h0.8v1.6zM368.7,910.1v-1.6h0.8v1.6zM369.5,910.1v-1.6h0.8v1.6zM370.3,910.1v-1.6h0.8v1.6zM371.1,910.1v-1.6h0.8v1.6zM377.6,910.1v-3.9h0.8v3.9zM378.4,910.1v-3.9h0.8v3.9zM379.2,910.1v-3.9h0.8v3.9zM380.0,910.1v-3.9h0.8v3.9zM380.8,910.1v-9.1h0.8v9.1zM381.6,910.1v-9.1h0.8v9.1zM382.4,910.1v-9.1h0.8v9.1zM383.2,910.1v-11.7h0.8v11.7zM384.0,910.1v-11.7h0.8v11.7zM384.8,910.1v-11.7h0.8v11.7zM385.6,910.1v-3.9h0.8v3.9zM387.2,910.1v-2.6h0.8v2.6zM388.0,910.1v-2.6h0.8v2.6zM388.8,910.1v-2.6h0.8v2.6zM389.6,910.1v-2.6h0.8v2.6zM390.4,910.1v-2.6h0.8v2.6zM391.2,910.1v-2.6h0.8v2.6zM392.0,910.1v-6.5h0.8v6.5zM392.8,910.1v-6.5h0.8v6.5zM393.6,910.1v-6.5h0.8v6.5zM394.4,910.1v-7.8h0.8v7.8zM395.2,910.1v-7.8h0.8v7.8zM409.7,910.1v-1.6h0.8v1.6zM410.5,910.1v-1.6h0.8v1.6zM411.3,910.1v-1.6h0.8v1.6zM412.1,910.1v-3.9h0.8v3.9zM412.9,910.1v-3.9h0.8v3.9zM413.7,910.1v-3.9h0.8v3.9zM414.5,910.1v-3.9h0.8v3.9zM415.3,910.1v-5.2h0.8v5.2zM416.1,910.1v-5.2h0.8v5.2zM416.9,910.1v-5.2h0.8v5.2zM417.7,910.1v-2.6h0.8v2.6zM418.5,910.1v-2.6h0.8v2.6zM419.3,910.1v-2.6h0.8v2.6zM427.4,910.1v-1.6h0.8v1.6zM428.2,910.1v-1.6h0.8v1.6zM429.0,910.1v-1.6h0.8v1.6zM429.8,910.1v-1.6h0.8v1.6zM430.6,910.1v-2.6h0.8v2.6zM431.4,910.1v-2.6h0.8v2.6zM432.2,910.1v-2.6h0.8v2.6zM433.0,910.1v-1.6h0.8v1.6zM433.8,910.1v-1.6h0.8v1.6zM435.4,910.1v-1.6h0.8v1.6zM436.2,910.1v-1.6h0.8v1.6zM437.0,910.1v-1.6h0.8v1.6zM437.8,910.1v-1.6h0.8v1.6zM438.6,910.1v-1.6h0.8v1.6zM439.4,910.1v-1.6h0.8v1.6zM440.2,910.1v-3.9h0.8v3.9zM441.0,910.1v-3.9h0.8v3.9zM441.8,910.1v-3.9h0.8v3.9zM442.6,910.1v-5.2h0.8v5.2zM443.4,910.1v-5.2h0.8v5.2zM444.2,910.1v-5.2h0.8v5.2zM445.0,910.1v-5.2h0.8v5.2zM462.7,910.1v-2.6h0.8v2.6zM463.5,910.1v-2.6h0.8v2.6zM464.3,910.1v-2.6h0.8v2.6zM465.1,910.1v-1.6h0.8v1.6zM475.5,910.1v-2.6h0.8v2.6zM476.3,910.1v-2.6h0.8v2.6zM477.1,910.1v-3.9h0.8v3.9zM477.9,910.1v-3.9h0.8v3.9zM478.7,910.1v-3.9h0.8v3.9zM479.5,910.1v-3.9h0.8v3.9zM480.3,910.1v-6.5h0.8v6.5zM481.1,910.1v-6.5h0.8v6.5zM481.9,910.1v-9.1h0.8v9.1zM482.7,910.1v-9.1h0.8v9.1zM483.5,910.1v-9.1h0.8v9.1zM484.3,910.1v-9.1h0.8v9.1zM485.1,910.1v-5.2h0.8v5.2zM485.9,910.1v-5.2h0.8v5.2zM486.7,910.1v-5.2h0.8v5.2zM487.5,910.1v-2.6h0.8v2.6zM488.3,910.1v-2.6h0.8v2.6z" fill="#1c1ccc"/>
<line x1="84.0" y1="919.7" x2="222.6" y2="919.7" stroke="#1c1ccc" stroke-width="1.7" />
<line x1="222.6" y1="919.7" x2="487.7" y2="919.7" stroke="#1c1ccc" stroke-width="0.6" />
<rect x="224.0" y="918.2" width="1.0" height="3.0" fill="#1c1ccc" />
<rect x="230.6" y="918.2" width="0.8" height="3.0" fill="#1c1ccc" />
<rect x="238.2" y="918.5" width="0.8" height="2.4" fill="#1c1ccc" />
<rect x="251.6" y="918.7" width="0.8" height="2.0" fill="#1c1ccc" />
<rect x="260.8" y="918.0" width="2.4" height="3.4" fill="#1c1ccc" />
<rect x="277.8" y="917.9" width="2.0" height="3.6" fill="#1c1ccc" />
<rect x="296.7" y="918.0" width="1.4" height="3.4" fill="#1c1ccc" />
<rect x="307.4" y="917.9" width="2.4" height="3.6" fill="#1c1ccc" />
<rect x="359.0" y="917.9" width="1.6" height="3.6" fill="#1c1ccc" />
<rect x="362.4" y="917.9" width="1.6" height="3.6" fill="#1c1ccc" />
<rect x="432.4" y="917.8" width="2.4" height="3.8" fill="#1c1ccc" />
<rect x="479.8" y="917.8" width="2.4" height="3.8" fill="#1c1ccc" />
<rect x="300.0" y="919.2" width="0.8" height="1.0" fill="#1c1ccc" />
<rect x="312.6" y="919.2" width="0.8" height="1.0" fill="#1c1ccc" />
<rect x="325.2" y="919.2" width="0.8" height="1.0" fill="#1c1ccc" />
<rect x="337.8" y="919.2" width="0.8" height="1.0" fill="#1c1ccc" />
<rect x="350.4" y="919.2" width="0.8" height="1.0" fill="#1c1ccc" />
<rect x="363.0" y="919.2" width="0.8" height="1.0" fill="#1c1ccc" />
<rect x="375.6" y="919.2" width="0.8" height="1.0" fill="#1c1ccc" />
<rect x="388.2" y="919.2" width="0.8" height="1.0" fill="#1c1ccc" />
<rect x="400.8" y="919.2" width="0.8" height="1.0" fill="#1c1ccc" />
<rect x="413.4" y="919.2" width="0.8" height="1.0" fill="#1c1ccc" />
<rect x="426.0" y="919.2" width="0.8" height="1.0" fill="#1c1ccc" />
<rect x="438.6" y="919.2" width="0.8" height="1.0" fill="#1c1ccc" />
<rect x="451.2" y="919.2" width="0.8" height="1.0" fill="#1c1ccc" />
<rect x="463.8" y="919.2" width="0.8" height="1.0" fill="#1c1ccc" />
<rect x="476.4" y="919.2" width="0.8" height="1.0" fill="#1c1ccc" />
<text x="396.0" y="925.4" font-size="3.0" textLength="13.0" stroke-width="0.12">HDAC2</text>
<text x="423.5" y="925.4" font-size="3.0" textLength="13.0" stroke-width="0.12">HDAC2</text>
<text x="462.0" y="925.4" font-size="3.0" textLength="13.0" stroke-width="0.12">HDAC2</text>
<rect x="63.9" y="949.0" width="423.8" height="68.5" fill="#f4f4f4" />
<rect x="63.9" y="1004.7" width="423.8" height="3.0" fill="#cdcdcd" />
<rect x="63.9" y="1007.7" width="423.8" height="9.8" fill="#fafafa" />
<line x1="63.9" y1="972.6" x2="487.7" y2="972.6" stroke="#9d9df0" stroke-width="0.7" />
<line x1="63.9" y1="998.1" x2="487.7" y2="998.1" stroke="#9d9df0" stroke-width="0.7" />
<text x="245.6" y="943.8" font-size="8.3" font-weight="bold" stroke-width="0.1" textLength="67.7"><tspan font-style="italic">sirT4</tspan>  in  EPAS1</text>
<text x="24.5" y="974.6" font-size="6.6" textLength="35.0" stroke-width="0.3">EPAS1-IP</text>
<text x="24.5" y="1001.2" font-size="6.6" textLength="41.2" stroke-width="0.3">EPAS1-IgG</text>
<path d="M64.8,972.9v-1.0h0.8v1.0zM65.6,972.9v-1.8h0.8v1.8zM66.4,972.9v-1.8h0.8v1.8zM67.2,972.9v-2.5h0.8v2.5zM68.0,972.9v-1.7h0.8v1.7zM68.8,972.9v-1.0h0.8v1.0zM69.6,972.9v-1.0h0.8v1.0zM77.7,972.9v-1.0h0.8v1.0zM78.5,972.9v-1.0h0.8v1.0zM79.3,972.9v-1.0h0.8v1.0zM80.1,972.9v-1.0h0.8v1.0zM80.9,972.9v-1.0h0.8v1.0zM81.7,972.9v-1.0h0.8v1.0zM82.5,972.9v-1.0h0.8v1.0zM88.3,972.9v-1.7h0.8v1.7zM89.1,972.9v-2.4h0.8v2.4zM89.9,972.9v-3.7h0.8v3.7zM90.7,972.9v-5.5h0.8v5.5zM91.5,972.9v-2.2h0.8v2.2zM91.5,972.9v-6.0h0.8v6.0zM92.3,972.9v-7.8h0.8v7.8zM93.1,972.9v-10.0h0.8v10.0zM93.9,972.9v-12.3h0.8v12.3zM94.7,972.9v-14.5h0.8v14.5zM95.5,972.9v-15.4h0.8v15.4zM96.3,972.9v-8.0h0.8v8.0zM97.1,972.9v-6.2h0.8v6.2zM97.9,972.9v-5.1h0.8v5.1zM97.3,972.9v-1.1h0.8v1.1zM98.1,972.9v-1.3h0.8v1.3zM98.9,972.9v-1.7h0.8v1.7zM99.7,972.9v-2.3h0.8v2.3zM100.5,972.9v-3.6h0.8v3.6zM101.3,972.9v-3.5h0.8v3.5zM102.1,972.9v-3.1h0.8v3.1zM102.9,972.9v-3.1h0.8v3.1zM103.7,972.9v-2.4h0.8v2.4zM104.5,972.9v-1.7h0.8v1.7zM105.3,972.9v-1.6h0.8v1.6zM106.1,972.9v-1.2h0.8v1.2zM116.2,972.9v-1.8h0.8v1.8zM117.0,972.9v-2.2h0.8v2.2zM117.8,972.9v-2.1h0.8v2.1zM118.6,972.9v-2.5h0.8v2.5zM119.4,972.9v-2.3h0.8v2.3zM120.2,972.9v-1.8h0.8v1.8zM121.0,972.9v-2.6h0.8v2.6zM121.8,972.9v-1.6h0.8v1.6zM122.6,972.9v-2.0h0.8v2.0zM123.4,972.9v-2.7h0.8v2.7zM124.2,972.9v-2.3h0.8v2.3zM125.0,972.9v-3.3h0.8v3.3zM125.8,972.9v-2.8h0.8v2.8zM126.6,972.9v-4.6h0.8v4.6zM127.4,972.9v-5.3h0.8v5.3zM128.2,972.9v-5.2h0.8v5.2zM129.0,972.9v-6.5h0.8v6.5zM129.8,972.9v-5.2h0.8v5.2zM130.6,972.9v-6.8h0.8v6.8zM131.4,972.9v-6.9h0.8v6.9zM132.2,972.9v-7.2h0.8v7.2zM133.0,972.9v-7.0h0.8v7.0zM133.8,972.9v-8.8h0.8v8.8zM134.6,972.9v-9.0h0.8v9.0zM135.4,972.9v-6.8h0.8v6.8zM136.2,972.9v-7.2h0.8v7.2zM137.0,972.9v-4.7h0.8v4.7zM137.8,972.9v-6.5h0.8v6.5zM138.6,972.9v-5.9h0.8v5.9zM139.4,972.9v-6.4h0.8v6.4zM140.2,972.9v-5.5h0.8v5.5zM157.9,972.9v-1.7h0.8v1.7zM158.7,972.9v-2.3h0.8v2.3zM159.5,972.9v-3.7h0.8v3.7zM160.3,972.9v-3.1h0.8v3.1zM161.1,972.9v-4.9h0.8v4.9zM161.9,972.9v-4.7h0.8v4.7zM162.7,972.9v-5.1h0.8v5.1zM163.5,972.9v-5.2h0.8v5.2zM164.3,972.9v-7.2h0.8v7.2zM165.1,972.9v-4.4h0.8v4.4zM165.9,972.9v-4.1h0.8v4.1zM166.7,972.9v-3.7h0.8v3.7zM167.5,972.9v-3.7h0.8v3.7zM168.3,972.9v-1.7h0.8v1.7zM169.1,972.9v-1.9h0.8v1.9zM185.2,972.9v-1.0h0.8v1.0zM186.0,972.9v-1.0h0.8v1.0zM186.8,972.9v-1.0h0.8v1.0zM187.6,972.9v-1.0h0.8v1.0zM188.4,972.9v-1.0h0.8v1.0zM189.2,972.9v-1.0h0.8v1.0zM190.0,972.9v-1.4h0.8v1.4zM190.8,972.9v-1.6h0.8v1.6zM191.6,972.9v-1.1h0.8v1.1zM192.4,972.9v-1.2h0.8v1.2zM193.2,972.9v-1.4h0.8v1.4zM194.0,972.9v-1.4h0.8v1.4zM194.8,972.9v-1.8h0.8v1.8zM195.6,972.9v-2.0h0.8v2.0zM196.4,972.9v-1.7h0.8v1.7zM197.2,972.9v-1.5h0.8v1.5zM198.0,972.9v-2.1h0.8v2.1zM198.8,972.9v-2.1h0.8v2.1zM199.6,972.9v-2.4h0.8v2.4zM200.4,972.9v-3.0h0.8v3.0zM201.2,972.9v-2.5h0.8v2.5zM202.0,972.9v-2.2h0.8v2.2zM202.8,972.9v-2.3h0.8v2.3zM203.6,972.9v-2.2h0.8v2.2zM204.4,972.9v-1.5h0.8v1.5zM205.2,972.9v-2.3h0.8v2.3zM206.0,972.9v-2.0h0.8v2.0zM206.8,972.9v-2.0h0.8v2.0zM207.6,972.9v-1.8h0.8v1.8zM208.4,972.9v-1.3h0.8v1.3zM209.2,972.9v-1.2h0.8v1.2zM210.0,972.9v-1.0h0.8v1.0zM210.8,972.9v-1.2h0.8v1.2zM211.6,972.9v-1.0h0.8v1.0zM212.4,972.9v-1.0h0.8v1.0zM213.2,972.9v-1.0h0.8v1.0zM214.0,972.9v-1.0h0.8v1.0zM225.4,972.9v-1.0h0.8v1.0zM226.2,972.9v-1.0h0.8v1.0zM227.0,972.9v-1.5h0.8v1.5zM227.8,972.9v-1.7h0.8v1.7zM228.6,972.9v-2.4h0.8v2.4zM229.4,972.9v-2.1h0.8v2.1zM230.2,972.9v-3.3h0.8v3.3zM231.0,972.9v-2.5h0.8v2.5zM231.8,972.9v-1.6h0.8v1.6zM232.6,972.9v-1.4h0.8v1.4zM233.4,972.9v-1.1h0.8v1.1zM234.2,972.9v-1.0h0.8v1.0zM235.0,972.9v-1.0h0.8v1.0zM244.6,972.9v-1.5h0.8v1.5zM245.4,972.9v-1.2h0.8v1.2zM246.2,972.9v-1.2h0.8v1.2zM247.0,972.9v-1.1h0.8v1.1zM247.8,972.9v-1.6h0.8v1.6zM248.6,972.9v-2.3h0.8v2.3zM249.4,972.9v-2.6h0.8v2.6zM250.2,972.9v-4.1h0.8v4.1zM251.0,972.9v-3.2h0.8v3.2zM251.8,972.9v-3.1h0.8v3.1zM252.6,972.9v-4.9h0.8v4.9zM253.4,972.9v-3.5h0.8v3.5zM254.2,972.9v-2.4h0.8v2.4zM255.0,972.9v-2.6h0.8v2.6zM255.8,972.9v-1.5h0.8v1.5zM270.3,972.9v-1.5h0.8v1.5zM271.1,972.9v-1.9h0.8v1.9zM271.9,972.9v-2.6h0.8v2.6zM272.7,972.9v-2.6h0.8v2.6zM273.5,972.9v-3.4h0.8v3.4zM274.3,972.9v-3.4h0.8v3.4zM275.1,972.9v-4.4h0.8v4.4zM275.9,972.9v-3.3h0.8v3.3zM276.7,972.9v-2.9h0.8v2.9zM277.5,972.9v-1.6h0.8v1.6zM278.3,972.9v-1.0h0.8v1.0zM271.6,972.9v-1.0h0.8v1.0zM272.4,972.9v-1.0h0.8v1.0zM273.2,972.9v-1.2h0.8v1.2zM274.0,972.9v-1.8h0.8v1.8zM274.8,972.9v-2.3h0.8v2.3zM275.6,972.9v-2.1h0.8v2.1zM276.4,972.9v-2.9h0.8v2.9zM277.2,972.9v-2.5h0.8v2.5zM278.0,972.9v-1.7h0.8v1.7zM278.8,972.9v-1.3h0.8v1.3zM279.6,972.9v-1.1h0.8v1.1zM281.2,972.9v-1.0h0.8v1.0zM282.0,972.9v-1.8h0.8v1.8zM282.8,972.9v-1.9h0.8v1.9zM283.6,972.9v-2.3h0.8v2.3zM284.4,972.9v-1.7h0.8v1.7zM285.2,972.9v-1.0h0.8v1.0zM286.0,972.9v-1.0h0.8v1.0zM290.9,972.9v-1.0h0.8v1.0zM291.7,972.9v-1.4h0.8v1.4zM292.5,972.9v-1.9h0.8v1.9zM293.3,972.9v-2.2h0.8v2.2zM294.1,972.9v-1.8h0.8v1.8zM294.9,972.9v-1.0h0.8v1.0zM295.7,972.9v-1.0h0.8v1.0zM297.3,972.9v-1.4h0.8v1.4zM298.1,972.9v-1.0h0.8v1.0zM298.9,972.9v-2.1h0.8v2.1zM299.7,972.9v-3.3h0.8v3.3zM300.5,972.9v-3.9h0.8v3.9zM301.3,972.9v-4.5h0.8v4.5zM302.1,972.9v-4.0h0.8v4.0zM302.9,972.9v-2.9h0.8v2.9zM303.7,972.9v-3.3h0.8v3.3zM304.5,972.9v-1.9h0.8v1.9zM305.3,972.9v-1.6h0.8v1.6zM310.1,972.9v-1.0h0.8v1.0zM310.9,972.9v-1.0h0.8v1.0zM311.7,972.9v-1.1h0.8v1.1zM312.5,972.9v-1.6h0.8v1.6zM313.3,972.9v-1.5h0.8v1.5zM314.1,972.9v-1.2h0.8v1.2zM314.9,972.9v-1.0h0.8v1.0zM319.8,972.9v-1.0h0.8v1.0zM320.6,972.9v-1.0h0.8v1.0zM321.4,972.9v-1.0h0.8v1.0zM322.2,972.9v-1.0h0.8v1.0zM323.0,972.9v-1.0h0.8v1.0zM323.8,972.9v-1.0h0.8v1.0zM324.6,972.9v-1.1h0.8v1.1zM325.4,972.9v-1.0h0.8v1.0zM326.2,972.9v-1.0h0.8v1.0zM327.0,972.9v-2.0h0.8v2.0zM327.8,972.9v-1.6h0.8v1.6zM328.6,972.9v-1.4h0.8v1.4zM329.4,972.9v-1.5h0.8v1.5zM330.2,972.9v-1.0h0.8v1.0zM331.0,972.9v-1.0h0.8v1.0zM338.4,972.9v-1.0h0.8v1.0zM339.2,972.9v-1.0h0.8v1.0zM340.0,972.9v-1.4h0.8v1.4zM340.8,972.9v-2.1h0.8v2.1zM341.6,972.9v-3.4h0.8v3.4zM342.4,972.9v-3.4h0.8v3.4zM343.2,972.9v-3.9h0.8v3.9zM344.0,972.9v-2.7h0.8v2.7zM344.8,972.9v-3.2h0.8v3.2zM351.9,972.9v-1.0h0.8v1.0zM352.7,972.9v-1.0h0.8v1.0zM353.5,972.9v-1.4h0.8v1.4zM354.3,972.9v-1.2h0.8v1.2zM355.1,972.9v-1.1h0.8v1.1zM355.9,972.9v-1.0h0.8v1.0zM356.7,972.9v-1.0h0.8v1.0zM367.9,972.9v-1.0h0.8v1.0zM368.7,972.9v-1.5h0.8v1.5zM369.5,972.9v-1.9h0.8v1.9zM370.3,972.9v-2.2h0.8v2.2zM371.1,972.9v-4.3h0.8v4.3zM371.9,972.9v-3.5h0.8v3.5zM372.7,972.9v-3.8h0.8v3.8zM373.5,972.9v-3.6h0.8v3.6zM374.3,972.9v-2.6h0.8v2.6zM375.1,972.9v-1.6h0.8v1.6zM375.9,972.9v-1.2h0.8v1.2zM379.2,972.9v-1.0h0.8v1.0zM380.0,972.9v-1.0h0.8v1.0zM380.8,972.9v-1.8h0.8v1.8zM381.6,972.9v-2.0h0.8v2.0zM382.4,972.9v-1.7h0.8v1.7zM383.2,972.9v-1.5h0.8v1.5zM384.0,972.9v-1.0h0.8v1.0zM387.2,972.9v-1.0h0.8v1.0zM388.0,972.9v-1.0h0.8v1.0zM388.8,972.9v-1.3h0.8v1.3zM389.6,972.9v-1.0h0.8v1.0zM390.4,972.9v-1.0h0.8v1.0zM398.5,972.9v-1.0h0.8v1.0zM399.3,972.9v-1.0h0.8v1.0zM400.1,972.9v-1.2h0.8v1.2zM400.9,972.9v-1.5h0.8v1.5zM401.7,972.9v-2.3h0.8v2.3zM402.5,972.9v-2.3h0.8v2.3zM403.3,972.9v-2.3h0.8v2.3zM404.1,972.9v-2.0h0.8v2.0zM404.9,972.9v-1.1h0.8v1.1zM405.7,972.9v-1.0h0.8v1.0zM406.5,972.9v-1.0h0.8v1.0zM408.1,972.9v-1.0h0.8v1.0zM408.9,972.9v-1.0h0.8v1.0zM409.7,972.9v-1.3h0.8v1.3zM410.5,972.9v-1.5h0.8v1.5zM411.3,972.9v-2.3h0.8v2.3zM412.1,972.9v-2.4h0.8v2.4zM412.9,972.9v-3.0h0.8v3.0zM413.7,972.9v-2.5h0.8v2.5zM414.5,972.9v-1.8h0.8v1.8zM435.4,972.9v-1.0h0.8v1.0zM436.2,972.9v-1.0h0.8v1.0zM437.0,972.9v-1.0h0.8v1.0zM437.8,972.9v-1.1h0.8v1.1zM438.6,972.9v-1.0h0.8v1.0zM439.4,972.9v-1.0h0.8v1.0zM440.2,972.9v-1.0h0.8v1.0zM467.5,972.9v-1.0h0.8v1.0zM468.3,972.9v-1.2h0.8v1.2zM469.1,972.9v-1.5h0.8v1.5zM469.9,972.9v-1.0h0.8v1.0zM470.7,972.9v-1.0h0.8v1.0zM478.7,972.9v-1.0h0.8v1.0zM479.5,972.9v-1.0h0.8v1.0zM480.3,972.9v-1.0h0.8v1.0zM481.1,972.9v-1.0h0.8v1.0zM481.9,972.9v-1.0h0.8v1.0zM482.7,972.9v-1.1h0.8v1.1zM483.5,972.9v-1.0h0.8v1.0zM484.3,972.9v-1.0h0.8v1.0zM485.1,972.9v-1.0h0.8v1.0zM485.9,972.9v-1.0h0.8v1.0zM486.7,972.9v-1.0h0.8v1.0zM91.6,972.9v-9.0h0.8v9.0zM92.2,972.9v-13.0h0.8v13.0zM92.8,972.9v-17.5h0.8v17.5zM93.4,972.9v-20.0h0.8v20.0zM94.0,972.9v-20.8h0.8v20.8zM94.6,972.9v-19.0h0.8v19.0zM95.2,972.9v-17.0h0.8v17.0zM95.8,972.9v-14.0h0.8v14.0zM96.4,972.9v-11.5h0.8v11.5zM97.0,972.9v-9.5h0.8v9.5zM97.6,972.9v-8.0h0.8v8.0z" fill="#1c1ccc"/>
<path d="M68.0,998.4v-3.9h0.8v3.9zM68.8,998.4v-3.9h0.8v3.9zM69.6,998.4v-3.9h0.8v3.9zM70.4,998.4v-5.2h0.8v5.2zM71.2,998.4v-5.2h0.8v5.2zM72.0,998.4v-5.2h0.8v5.2zM72.8,998.4v-2.6h0.8v2.6zM73.6,998.4v-2.6h0.8v2.6zM74.4,998.4v-2.6h0.8v2.6zM92.1,998.4v-1.6h0.8v1.6zM92.9,998.4v-1.6h0.8v1.6zM93.7,998.4v-1.6h0.8v1.6zM94.5,998.4v-1.6h0.8v1.6zM95.3,998.4v-1.6h0.8v1.6zM96.1,998.4v-3.9h0.8v3.9zM96.9,998.4v-3.9h0.8v3.9zM97.7,998.4v-3.9h0.8v3.9zM98.5,998.4v-3.9h0.8v3.9zM101.7,998.4v-1.6h0.8v1.6zM102.5,998.4v-1.6h0.8v1.6zM103.3,998.4v-1.6h0.8v1.6zM104.1,998.4v-1.6h0.8v1.6zM104.9,998.4v-1.6h0.8v1.6zM105.7,998.4v-1.6h0.8v1.6zM106.5,998.4v-1.6h0.8v1.6zM107.3,998.4v-2.6h0.8v2.6zM108.1,998.4v-2.6h0.8v2.6zM108.9,998.4v-2.6h0.8v2.6zM109.7,998.4v-2.6h0.8v2.6zM116.2,998.4v-2.6h0.8v2.6zM117.0,998.4v-2.6h0.8v2.6zM117.8,998.4v-2.6h0.8v2.6zM118.6,998.4v-7.8h0.8v7.8zM119.4,998.4v-7.8h0.8v7.8zM122.6,998.4v-5.2h0.8v5.2zM123.4,998.4v-5.2h0.8v5.2zM124.2,998.4v-5.2h0.8v5.2zM125.0,998.4v-5.2h0.8v5.2zM125.8,998.4v-18.2h0.8v18.2zM126.6,998.4v-18.2h0.8v18.2zM127.4,998.4v-18.2h0.8v18.2zM130.6,998.4v-1.6h0.8v1.6zM131.4,998.4v-1.6h0.8v1.6zM132.2,998.4v-1.6h0.8v1.6zM133.0,998.4v-3.9h0.8v3.9zM133.8,998.4v-3.9h0.8v3.9zM134.6,998.4v-3.9h0.8v3.9zM135.4,998.4v-5.2h0.8v5.2zM136.2,998.4v-5.2h0.8v5.2zM137.0,998.4v-3.9h0.8v3.9zM157.9,998.4v-1.6h0.8v1.6zM158.7,998.4v-1.6h0.8v1.6zM159.5,998.4v-1.6h0.8v1.6zM160.3,998.4v-1.6h0.8v1.6zM161.1,998.4v-1.6h0.8v1.6zM161.9,998.4v-1.6h0.8v1.6zM162.7,998.4v-1.6h0.8v1.6zM163.5,998.4v-2.6h0.8v2.6zM164.3,998.4v-2.6h0.8v2.6zM165.1,998.4v-2.6h0.8v2.6zM165.9,998.4v-2.6h0.8v2.6zM166.7,998.4v-2.6h0.8v2.6zM167.5,998.4v-2.6h0.8v2.6zM168.3,998.4v-2.6h0.8v2.6zM169.1,998.4v-2.6h0.8v2.6zM169.9,998.4v-2.6h0.8v2.6zM170.7,998.4v-2.6h0.8v2.6zM196.5,998.4v-2.6h0.8v2.6zM197.3,998.4v-2.6h0.8v2.6zM198.1,998.4v-2.6h0.8v2.6zM198.9,998.4v-2.6h0.8v2.6zM199.7,998.4v-5.2h0.8v5.2zM200.5,998.4v-5.2h0.8v5.2zM201.3,998.4v-5.2h0.8v5.2zM202.1,998.4v-5.2h0.8v5.2zM202.9,998.4v-9.1h0.8v9.1zM203.7,998.4v-9.1h0.8v9.1zM204.5,998.4v-9.1h0.8v9.1zM205.3,998.4v-5.2h0.8v5.2zM206.1,998.4v-5.2h0.8v5.2zM206.9,998.4v-5.2h0.8v5.2zM207.7,998.4v-5.2h0.8v5.2zM217.4,998.4v-1.6h0.8v1.6zM218.2,998.4v-1.6h0.8v1.6zM219.0,998.4v-1.6h0.8v1.6zM219.8,998.4v-1.6h0.8v1.6zM220.6,998.4v-1.6h0.8v1.6zM243.0,998.4v-2.6h0.8v2.6zM243.8,998.4v-2.6h0.8v2.6zM244.6,998.4v-2.6h0.8v2.6zM245.4,998.4v-1.6h0.8v1.6zM246.2,998.4v-1.6h0.8v1.6zM257.5,998.4v-2.6h0.8v2.6zM258.3,998.4v-2.6h0.8v2.6zM259.1,998.4v-2.6h0.8v2.6zM259.9,998.4v-2.6h0.8v2.6zM260.7,998.4v-11.7h0.8v11.7zM261.5,998.4v-11.7h0.8v11.7zM262.3,998.4v-11.7h0.8v11.7zM263.1,998.4v-6.5h0.8v6.5zM263.9,998.4v-6.5h0.8v6.5zM268.7,998.4v-1.6h0.8v1.6zM269.5,998.4v-1.6h0.8v1.6zM270.3,998.4v-2.6h0.8v2.6zM271.1,998.4v-2.6h0.8v2.6zM271.9,998.4v-1.6h0.8v1.6zM270.0,998.4v-1.6h0.8v1.6zM270.8,998.4v-1.6h0.8v1.6zM271.6,998.4v-1.6h0.8v1.6zM272.4,998.4v-1.6h0.8v1.6zM286.1,998.4v-2.6h0.8v2.6zM286.9,998.4v-2.6h0.8v2.6zM287.7,998.4v-5.2h0.8v5.2zM288.5,998.4v-5.2h0.8v5.2zM289.3,998.4v-5.2h0.8v5.2zM290.1,998.4v-5.2h0.8v5.2zM290.9,998.4v-2.6h0.8v2.6zM291.2,998.4v-1.6h0.8v1.6zM292.0,998.4v-1.6h0.8v1.6zM292.8,998.4v-2.6h0.8v2.6zM293.6,998.4v-2.6h0.8v2.6zM294.4,998.4v-2.6h0.8v2.6zM295.2,998.4v-2.6h0.8v2.6zM296.0,998.4v-2.6h0.8v2.6zM296.8,998.4v-2.6h0.8v2.6zM313.4,998.4v-1.6h0.8v1.6zM314.2,998.4v-1.6h0.8v1.6zM315.0,998.4v-1.6h0.8v1.6zM315.8,998.4v-5.2h0.8v5.2zM316.6,998.4v-5.2h0.8v5.2zM317.4,998.4v-5.2h0.8v5.2zM318.2,998.4v-1.6h0.8v1.6zM319.0,998.4v-1.6h0.8v1.6zM319.8,998.4v-1.6h0.8v1.6zM320.6,998.4v-1.6h0.8v1.6zM321.4,998.4v-1.6h0.8v1.6zM322.2,998.4v-1.6h0.8v1.6zM323.0,998.4v-2.6h0.8v2.6zM323.8,998.4v-2.6h0.8v2.6zM324.6,998.4v-2.6h0.8v2.6zM325.4,998.4v-1.6h0.8v1.6zM326.2,998.4v-1.6h0.8v1.6zM327.0,998.4v-1.6h0.8v1.6zM327.8,998.4v-1.6h0.8v1.6zM329.4,998.4v-1.6h0.8v1.6zM330.2,998.4v-1.6h0.8v1.6zM331.0,998.4v-1.6h0.8v1.6zM331.8,998.4v-1.6h0.8v1.6zM332.6,998.4v-1.6h0.8v1.6zM336.8,998.4v-1.6h0.8v1.6zM337.6,998.4v-1.6h0.8v1.6zM338.4,998.4v-2.6h0.8v2.6zM339.2,998.4v-2.6h0.8v2.6zM340.0,998.4v-2.6h0.8v2.6zM388.2,998.4v-5.2h0.8v5.2zM389.0,998.4v-5.2h0.8v5.2zM389.8,998.4v-5.2h0.8v5.2zM390.6,998.4v-5.2h0.8v5.2zM391.4,998.4v-14.3h0.8v14.3zM392.2,998.4v-14.3h0.8v14.3zM393.0,998.4v-14.3h0.8v14.3zM393.8,998.4v-16.9h0.8v16.9zM394.6,998.4v-16.9h0.8v16.9zM395.4,998.4v-16.9h0.8v16.9zM396.2,998.4v-9.1h0.8v9.1zM397.0,998.4v-9.1h0.8v9.1zM397.8,998.4v-5.2h0.8v5.2zM403.3,998.4v-1.6h0.8v1.6zM404.1,998.4v-1.6h0.8v1.6zM404.9,998.4v-1.6h0.8v1.6zM405.7,998.4v-1.6h0.8v1.6zM406.5,998.4v-2.6h0.8v2.6zM407.3,998.4v-2.6h0.8v2.6zM416.1,998.4v-1.6h0.8v1.6zM416.9,998.4v-1.6h0.8v1.6zM417.7,998.4v-1.6h0.8v1.6zM418.5,998.4v-1.6h0.8v1.6zM419.3,998.4v-1.6h0.8v1.6zM420.1,998.4v-1.6h0.8v1.6zM420.9,998.4v-2.6h0.8v2.6zM421.7,998.4v-2.6h0.8v2.6zM422.5,998.4v-2.6h0.8v2.6zM423.3,998.4v-2.6h0.8v2.6zM424.1,998.4v-2.6h0.8v2.6zM424.9,998.4v-2.6h0.8v2.6zM425.7,998.4v-2.6h0.8v2.6zM426.5,998.4v-2.6h0.8v2.6zM427.3,998.4v-2.6h0.8v2.6zM428.1,998.4v-2.6h0.8v2.6zM428.9,998.4v-2.6h0.8v2.6zM456.3,998.4v-1.6h0.8v1.6zM457.1,998.4v-1.6h0.8v1.6zM457.9,998.4v-1.6h0.8v1.6zM458.7,998.4v-1.6h0.8v1.6zM459.5,998.4v-2.6h0.8v2.6zM460.3,998.4v-2.6h0.8v2.6zM461.1,998.4v-2.6h0.8v2.6zM461.9,998.4v-2.6h0.8v2.6zM462.7,998.4v-2.6h0.8v2.6zM463.5,998.4v-2.6h0.8v2.6zM464.3,998.4v-2.6h0.8v2.6zM465.1,998.4v-1.6h0.8v1.6zM465.9,998.4v-1.6h0.8v1.6zM478.7,998.4v-1.6h0.8v1.6zM479.5,998.4v-1.6h0.8v1.6zM480.3,998.4v-1.6h0.8v1.6zM481.1,998.4v-1.6h0.8v1.6zM481.9,998.4v-1.6h0.8v1.6z" fill="#1c1ccc"/>
<line x1="73.0" y1="1010.2" x2="120.4" y2="1010.2" stroke="#1c1ccc" stroke-width="1.7" />
<line x1="120.4" y1="1010.2" x2="487.7" y2="1010.2" stroke="#1c1ccc" stroke-width="0.6" />
<rect x="306.0" y="1008.1" width="10.4" height="4.2" fill="#1c1ccc" />
<rect x="466.6" y="1008.1" width="5.2" height="4.2" fill="#1c1ccc" />
<rect x="473.4" y="1008.9" width="6.6" height="2.6" fill="#1c1ccc" />
<rect x="124.0" y="1009.7" width="0.8" height="1.0" fill="#1c1ccc" />
<rect x="131.2" y="1009.7" width="0.8" height="1.0" fill="#1c1ccc" />
<rect x="138.4" y="1009.7" width="0.8" height="1.0" fill="#1c1ccc" />
<rect x="145.6" y="1009.7" width="0.8" height="1.0" fill="#1c1ccc" />
<rect x="152.8" y="1009.7" width="0.8" height="1.0" fill="#1c1ccc" />
<rect x="160.0" y="1009.7" width="0.8" height="1.0" fill="#1c1ccc" />
<rect x="167.2" y="1009.7" width="0.8" height="1.0" fill="#1c1ccc" />
<rect x="174.4" y="1009.7" width="0.8" height="1.0" fill="#1c1ccc" />
<rect x="181.6" y="1009.7" width="0.8" height="1.0" fill="#1c1ccc" />
<rect x="188.8" y="1009.7" width="0.8" height="1.0" fill="#1c1ccc" />
<rect x="196.0" y="1009.7" width="0.8" height="1.0" fill="#1c1ccc" />
<rect x="203.2" y="1009.7" width="0.8" height="1.0" fill="#1c1ccc" />
<rect x="210.4" y="1009.7" width="0.8" height="1.0" fill="#1c1ccc" />
<rect x="217.6" y="1009.7" width="0.8" height="1.0" fill="#1c1ccc" />
<rect x="224.8" y="1009.7" width="0.8" height="1.0" fill="#1c1ccc" />
<rect x="232.0" y="1009.7" width="0.8" height="1.0" fill="#1c1ccc" />
<rect x="239.2" y="1009.7" width="0.8" height="1.0" fill="#1c1ccc" />
<rect x="246.4" y="1009.7" width="0.8" height="1.0" fill="#1c1ccc" />
<rect x="253.6" y="1009.7" width="0.8" height="1.0" fill="#1c1ccc" />
<rect x="260.8" y="1009.7" width="0.8" height="1.0" fill="#1c1ccc" />
<rect x="268.0" y="1009.7" width="0.8" height="1.0" fill="#1c1ccc" />
<rect x="275.2" y="1009.7" width="0.8" height="1.0" fill="#1c1ccc" />
<rect x="282.4" y="1009.7" width="0.8" height="1.0" fill="#1c1ccc" />
<rect x="289.6" y="1009.7" width="0.8" height="1.0" fill="#1c1ccc" />
<rect x="296.8" y="1009.7" width="0.8" height="1.0" fill="#1c1ccc" />
<rect x="304.0" y="1009.7" width="0.8" height="1.0" fill="#1c1ccc" />
<rect x="311.2" y="1009.7" width="0.8" height="1.0" fill="#1c1ccc" />
<rect x="318.4" y="1009.7" width="0.8" height="1.0" fill="#1c1ccc" />
<rect x="325.6" y="1009.7" width="0.8" height="1.0" fill="#1c1ccc" />
<rect x="332.8" y="1009.7" width="0.8" height="1.0" fill="#1c1ccc" />
<rect x="340.0" y="1009.7" width="0.8" height="1.0" fill="#1c1ccc" />
<rect x="347.2" y="1009.7" width="0.8" height="1.0" fill="#1c1ccc" />
<rect x="354.4" y="1009.7" width="0.8" height="1.0" fill="#1c1ccc" />
<rect x="361.6" y="1009.7" width="0.8" height="1.0" fill="#1c1ccc" />
<rect x="368.8" y="1009.7" width="0.8" height="1.0" fill="#1c1ccc" />
<rect x="376.0" y="1009.7" width="0.8" height="1.0" fill="#1c1ccc" />
<rect x="383.2" y="1009.7" width="0.8" height="1.0" fill="#1c1ccc" />
<rect x="390.4" y="1009.7" width="0.8" height="1.0" fill="#1c1ccc" />
<rect x="397.6" y="1009.7" width="0.8" height="1.0" fill="#1c1ccc" />
<rect x="404.8" y="1009.7" width="0.8" height="1.0" fill="#1c1ccc" />
<rect x="412.0" y="1009.7" width="0.8" height="1.0" fill="#1c1ccc" />
<rect x="419.2" y="1009.7" width="0.8" height="1.0" fill="#1c1ccc" />
<rect x="426.4" y="1009.7" width="0.8" height="1.0" fill="#1c1ccc" />
<rect x="433.6" y="1009.7" width="0.8" height="1.0" fill="#1c1ccc" />
<rect x="440.8" y="1009.7" width="0.8" height="1.0" fill="#1c1ccc" />
<rect x="448.0" y="1009.7" width="0.8" height="1.0" fill="#1c1ccc" />
<rect x="455.2" y="1009.7" width="0.8" height="1.0" fill="#1c1ccc" />
<rect x="462.4" y="1009.7" width="0.8" height="1.0" fill="#1c1ccc" />
<rect x="469.6" y="1009.7" width="0.8" height="1.0" fill="#1c1ccc" />
<rect x="476.8" y="1009.7" width="0.8" height="1.0" fill="#1c1ccc" />
<rect x="484.0" y="1009.7" width="0.8" height="1.0" fill="#1c1ccc" />
<text x="271.0" y="1016.2" font-size="3.0" textLength="12.0" stroke-width="0.12">SIRT4</text>
<text x="288.0" y="1016.2" font-size="3.0" textLength="12.0" stroke-width="0.12">SIRT4</text>
<text x="376.8" y="1016.2" font-size="3.0" textLength="12.0" stroke-width="0.12">SIRT4</text>
<rect x="83.6" y="860.9" width="36.1" height="65.0" fill="none" stroke="#e8271a" stroke-width="1.0" />
<rect x="84.7" y="948.5" width="29.2" height="67.9" fill="none" stroke="#e8271a" stroke-width="1.0" />
<line x1="107.8" y1="863.8" x2="101.8" y2="867.8" stroke="#e8271a" stroke-width="0.9" />
<polygon points="101.8,867.8 103.1,865.3 104.6,867.6" fill="#e8271a"/>
<line x1="103.8" y1="949.6" x2="97.8" y2="955.0" stroke="#e8271a" stroke-width="0.9" />
<polygon points="97.8,955.0 98.7,952.4 100.5,954.4" fill="#e8271a"/>
<text x="518.6" y="847.8" font-size="14.8" font-weight="bold" stroke-width="0.1" >K</text>
<text x="586.3" y="855.6" font-size="8.4" font-weight="bold" stroke-width="0.1"><tspan font-style="italic" textLength="31.4">HDAC2</tspan><tspan x="624.6" textLength="41.6">Promoter</tspan></text>
<line x1="574.5" y1="879.3" x2="574.5" y2="994.8" stroke="#111" stroke-width="1.4" />
<line x1="574.0" y1="994.3" x2="681.5" y2="994.3" stroke="#111" stroke-width="1.4" />
<line x1="569.5" y1="879.8" x2="574.5" y2="879.8" stroke="#111" stroke-width="1.4" />
<text x="566.7" y="882.8" font-size="7.8" text-anchor="end" letter-spacing="0.3" >3.0</text>
<line x1="569.5" y1="898.8" x2="574.5" y2="898.8" stroke="#111" stroke-width="1.4" />
<text x="566.7" y="901.8" font-size="7.8" text-anchor="end" letter-spacing="0.3" >2.5</text>
<line x1="569.5" y1="918.0" x2="574.5" y2="918.0" stroke="#111" stroke-width="1.4" />
<text x="566.7" y="921.0" font-size="7.8" text-anchor="end" letter-spacing="0.3" >2.0</text>
<line x1="569.5" y1="937.0" x2="574.5" y2="937.0" stroke="#111" stroke-width="1.4" />
<text x="566.7" y="940.0" font-size="7.8" text-anchor="end" letter-spacing="0.3" >1.5</text>
<line x1="569.5" y1="956.1" x2="574.5" y2="956.1" stroke="#111" stroke-width="1.4" />
<text x="566.7" y="959.1" font-size="7.8" text-anchor="end" letter-spacing="0.3" >1.0</text>
<line x1="569.5" y1="975.3" x2="574.5" y2="975.3" stroke="#111" stroke-width="1.4" />
<text x="566.7" y="978.3" font-size="7.8" text-anchor="end" letter-spacing="0.3" >0.5</text>
<line x1="569.5" y1="994.3" x2="574.5" y2="994.3" stroke="#111" stroke-width="1.4" />
<text x="566.7" y="997.3" font-size="7.8" text-anchor="end" letter-spacing="0.3" >0.0</text>
<rect x="590.4" y="956.5" width="29.8" height="37.8" fill="#4fa8b1" stroke="#111" stroke-width="1.3" />
<rect x="636.4" y="906.2" width="29.8" height="88.1" fill="#fd2411" stroke="#111" stroke-width="1.3" />
<line x1="605.3" y1="953.6" x2="605.3" y2="956.5" stroke="#111" stroke-width="1.2" />
<line x1="601.1" y1="953.6" x2="609.5" y2="953.6" stroke="#111" stroke-width="1.2" />
<line x1="651.3" y1="896.8" x2="651.3" y2="906.2" stroke="#111" stroke-width="1.2" />
<line x1="647.1" y1="896.8" x2="655.5" y2="896.8" stroke="#111" stroke-width="1.2" />
<line x1="605.3" y1="994.3" x2="605.3" y2="998.0" stroke="#111" stroke-width="1.3" />
<line x1="651.3" y1="994.3" x2="651.3" y2="998.0" stroke="#111" stroke-width="1.3" />
<path d="M603.2,894.3 V888.6 H651.9 V894.3" stroke="#111" stroke-width="1.25" fill="none" />
<text x="628.4" y="887.3" font-size="12.4" text-anchor="middle" letter-spacing="1.3" >**</text>
<text x="599.8" y="1007.8" font-size="8.6" textLength="14.8" >IgG</text>
<text x="637.0" y="1007.8" font-size="8.6" textLength="28.6" >EPAS1</text>
<text transform="translate(533.6,959.4) rotate(-90)" font-size="7.2" font-weight="bold" stroke-width="0.1" textLength="63.4" >Fold Enrichment</text>
</svg>
</body></html>
